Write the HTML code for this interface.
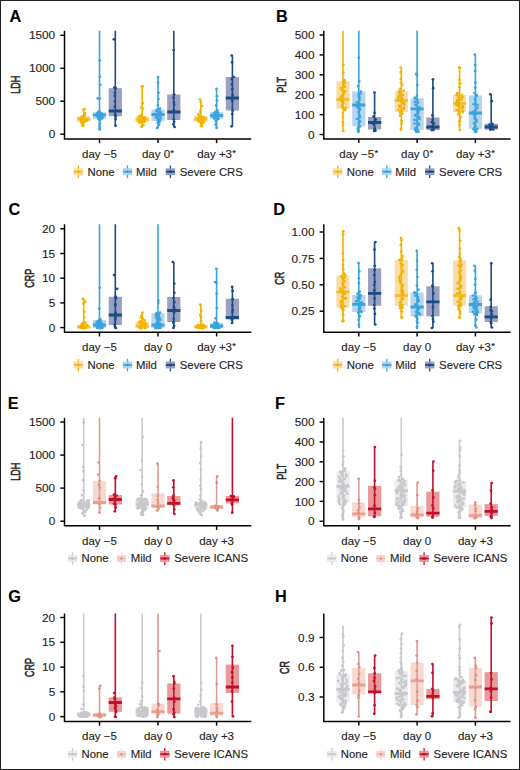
<!DOCTYPE html>
<html><head><meta charset="utf-8"><style>
html,body{margin:0;padding:0;background:#fff;}
svg{display:block;}
text{font-family:"Liberation Sans", sans-serif;fill:#222;stroke:#222;stroke-width:0.12px;}
.lt{font-size:16.3px;font-weight:bold;fill:#000;}
.yt{font-size:12.7px;text-anchor:middle;stroke-width:0.55px;}
.tk{font-size:11.8px;text-anchor:end;}
.xl{font-size:11.5px;text-anchor:middle;}
.lg{font-size:11.35px;}
.ax{stroke:#000;stroke-width:1.45;}
</style></head><body>
<svg width="520" height="770" viewBox="0 0 520 770">
<rect x="0" y="0" width="520" height="770" fill="#fff"/>
<text x="9.6" y="21.8" class="lt">A</text>
<text transform="translate(19.8,84.85) rotate(-90) scale(0.71,1)" class="yt">LDH</text>
<line x1="60.3" y1="134.2" x2="64.5" y2="134.2" class="ax"/>
<text x="55.2" y="138.3" class="tk">0</text>
<line x1="60.3" y1="101.2" x2="64.5" y2="101.2" class="ax"/>
<text x="55.2" y="105.3" class="tk">500</text>
<line x1="60.3" y1="68.3" x2="64.5" y2="68.3" class="ax"/>
<text x="55.2" y="72.4" class="tk">1000</text>
<line x1="60.3" y1="35.3" x2="64.5" y2="35.3" class="ax"/>
<text x="55.2" y="39.4" class="tk">1500</text>
<clipPath id="cA"><rect x="64.5" y="30.8" width="186.8" height="108.1"/></clipPath>
<g clip-path="url(#cA)">
<rect x="77.1" y="116.5" width="13.2" height="5" fill="#FADDA6"/>
<line x1="83.7" y1="109" x2="83.7" y2="126" stroke="#F2B300" stroke-width="1.6"/>
<line x1="77.1" y1="119" x2="90.3" y2="119" stroke="#F2BE3A" stroke-width="2.8"/>
<circle cx="82.62" cy="125.44" r="1.35" fill="#F2B300"/>
<circle cx="81.76" cy="123.52" r="1.35" fill="#F2B300"/>
<circle cx="82.97" cy="122.59" r="1.35" fill="#F2B300"/>
<circle cx="83.74" cy="122.18" r="1.35" fill="#F2B300"/>
<circle cx="83.26" cy="121.67" r="1.35" fill="#F2B300"/>
<circle cx="80.92" cy="121.48" r="1.35" fill="#F2B300"/>
<circle cx="85.92" cy="121.03" r="1.35" fill="#F2B300"/>
<circle cx="81.82" cy="120.79" r="1.35" fill="#F2B300"/>
<circle cx="86.74" cy="120.29" r="1.35" fill="#F2B300"/>
<circle cx="83" cy="119.97" r="1.35" fill="#F2B300"/>
<circle cx="80.62" cy="119.51" r="1.35" fill="#F2B300"/>
<circle cx="82.27" cy="119.21" r="1.35" fill="#F2B300"/>
<circle cx="81.1" cy="119.12" r="1.35" fill="#F2B300"/>
<circle cx="85.85" cy="118.73" r="1.35" fill="#F2B300"/>
<circle cx="84.25" cy="118.44" r="1.35" fill="#F2B300"/>
<circle cx="82.83" cy="117.95" r="1.35" fill="#F2B300"/>
<circle cx="80.73" cy="117.65" r="1.35" fill="#F2B300"/>
<circle cx="81.7" cy="117.48" r="1.35" fill="#F2B300"/>
<circle cx="83.21" cy="116.94" r="1.35" fill="#F2B300"/>
<circle cx="84.28" cy="116.73" r="1.35" fill="#F2B300"/>
<circle cx="82.35" cy="116.46" r="1.35" fill="#F2B300"/>
<circle cx="84.86" cy="115.71" r="1.35" fill="#F2B300"/>
<circle cx="84.09" cy="115.21" r="1.35" fill="#F2B300"/>
<circle cx="84.97" cy="113.02" r="1.35" fill="#F2B300"/>
<circle cx="83.32" cy="109.86" r="1.35" fill="#F2B300"/>
<circle cx="84.66" cy="109" r="1.35" fill="#F2B300"/>
<circle cx="82.94" cy="126" r="1.35" fill="#F2B300"/>
<rect x="92.9" y="112.3" width="13.2" height="6.7" fill="#B8D5EE"/>
<line x1="99.5" y1="28.8" x2="99.5" y2="129.6" stroke="#3AA4DD" stroke-width="1.6"/>
<line x1="92.9" y1="114.8" x2="106.1" y2="114.8" stroke="#3AA4DD" stroke-width="2.8"/>
<circle cx="99.81" cy="128.17" r="1.35" fill="#3AA4DD"/>
<circle cx="99.48" cy="125.92" r="1.35" fill="#3AA4DD"/>
<circle cx="99.89" cy="123.62" r="1.35" fill="#3AA4DD"/>
<circle cx="99.82" cy="120.47" r="1.35" fill="#3AA4DD"/>
<circle cx="98.5" cy="119.37" r="1.35" fill="#3AA4DD"/>
<circle cx="100.04" cy="119.03" r="1.35" fill="#3AA4DD"/>
<circle cx="99.25" cy="118.81" r="1.35" fill="#3AA4DD"/>
<circle cx="102.08" cy="118.4" r="1.35" fill="#3AA4DD"/>
<circle cx="100.45" cy="118.19" r="1.35" fill="#3AA4DD"/>
<circle cx="100.67" cy="117.99" r="1.35" fill="#3AA4DD"/>
<circle cx="102.36" cy="117.47" r="1.35" fill="#3AA4DD"/>
<circle cx="98.25" cy="117.09" r="1.35" fill="#3AA4DD"/>
<circle cx="100.48" cy="116.9" r="1.35" fill="#3AA4DD"/>
<circle cx="99.28" cy="116.69" r="1.35" fill="#3AA4DD"/>
<circle cx="97.28" cy="116.32" r="1.35" fill="#3AA4DD"/>
<circle cx="101.06" cy="116.02" r="1.35" fill="#3AA4DD"/>
<circle cx="98.04" cy="115.67" r="1.35" fill="#3AA4DD"/>
<circle cx="101.65" cy="115.26" r="1.35" fill="#3AA4DD"/>
<circle cx="99.21" cy="115.03" r="1.35" fill="#3AA4DD"/>
<circle cx="101.72" cy="114.55" r="1.35" fill="#3AA4DD"/>
<circle cx="101.61" cy="114.13" r="1.35" fill="#3AA4DD"/>
<circle cx="99.01" cy="113.98" r="1.35" fill="#3AA4DD"/>
<circle cx="101.73" cy="113.63" r="1.35" fill="#3AA4DD"/>
<circle cx="97.48" cy="113.1" r="1.35" fill="#3AA4DD"/>
<circle cx="97.95" cy="113.03" r="1.35" fill="#3AA4DD"/>
<circle cx="99.41" cy="112.68" r="1.35" fill="#3AA4DD"/>
<circle cx="98.15" cy="112.22" r="1.35" fill="#3AA4DD"/>
<circle cx="99.12" cy="111.25" r="1.35" fill="#3AA4DD"/>
<circle cx="99.58" cy="98.16" r="1.35" fill="#3AA4DD"/>
<circle cx="99.73" cy="60.52" r="1.35" fill="#3AA4DD"/>
<circle cx="99.53" cy="129.6" r="1.35" fill="#3AA4DD"/>
<circle cx="99.97" cy="76.8" r="1.35" fill="#3AA4DD"/>
<circle cx="100.2" cy="84.8" r="1.35" fill="#3AA4DD"/>
<circle cx="97.72" cy="98.6" r="1.35" fill="#3AA4DD"/>
<rect x="108.7" y="88.2" width="13.2" height="28" fill="#99A0C2"/>
<line x1="115.3" y1="28.8" x2="115.3" y2="125.8" stroke="#1B4A84" stroke-width="1.6"/>
<line x1="108.7" y1="111" x2="121.9" y2="111" stroke="#1B4A84" stroke-width="2.8"/>
<circle cx="115.64" cy="119.11" r="1.35" fill="#1B4A84"/>
<circle cx="115.66" cy="116.24" r="1.35" fill="#1B4A84"/>
<circle cx="115.18" cy="114.37" r="1.35" fill="#1B4A84"/>
<circle cx="115.46" cy="111.05" r="1.35" fill="#1B4A84"/>
<circle cx="114.78" cy="106.58" r="1.35" fill="#1B4A84"/>
<circle cx="114.89" cy="101.23" r="1.35" fill="#1B4A84"/>
<circle cx="114.76" cy="95.95" r="1.35" fill="#1B4A84"/>
<circle cx="114.88" cy="92.87" r="1.35" fill="#1B4A84"/>
<circle cx="115.14" cy="88.2" r="1.35" fill="#1B4A84"/>
<circle cx="115.75" cy="88.2" r="1.35" fill="#1B4A84"/>
<circle cx="115.53" cy="125.8" r="1.35" fill="#1B4A84"/>
<circle cx="113.89" cy="39.3" r="1.35" fill="#1B4A84"/>
<circle cx="114.31" cy="87.5" r="1.35" fill="#1B4A84"/>
<rect x="135.6" y="116.5" width="13.2" height="5.5" fill="#FADDA6"/>
<line x1="142.2" y1="86.3" x2="142.2" y2="127" stroke="#F2B300" stroke-width="1.6"/>
<line x1="135.6" y1="119.5" x2="148.8" y2="119.5" stroke="#F2BE3A" stroke-width="2.8"/>
<circle cx="141.81" cy="126.33" r="1.35" fill="#F2B300"/>
<circle cx="143.5" cy="125.01" r="1.35" fill="#F2B300"/>
<circle cx="142" cy="122.81" r="1.35" fill="#F2B300"/>
<circle cx="139.63" cy="122.46" r="1.35" fill="#F2B300"/>
<circle cx="141.16" cy="122.16" r="1.35" fill="#F2B300"/>
<circle cx="144.44" cy="121.9" r="1.35" fill="#F2B300"/>
<circle cx="138.96" cy="121.57" r="1.35" fill="#F2B300"/>
<circle cx="142.39" cy="120.92" r="1.35" fill="#F2B300"/>
<circle cx="142.49" cy="120.85" r="1.35" fill="#F2B300"/>
<circle cx="142.39" cy="120.52" r="1.35" fill="#F2B300"/>
<circle cx="144.67" cy="119.81" r="1.35" fill="#F2B300"/>
<circle cx="140.58" cy="119.54" r="1.35" fill="#F2B300"/>
<circle cx="139.94" cy="119.3" r="1.35" fill="#F2B300"/>
<circle cx="142.42" cy="118.78" r="1.35" fill="#F2B300"/>
<circle cx="141.04" cy="118.41" r="1.35" fill="#F2B300"/>
<circle cx="144.32" cy="118.25" r="1.35" fill="#F2B300"/>
<circle cx="144.6" cy="117.61" r="1.35" fill="#F2B300"/>
<circle cx="144.36" cy="117.3" r="1.35" fill="#F2B300"/>
<circle cx="140.34" cy="116.96" r="1.35" fill="#F2B300"/>
<circle cx="141.22" cy="116.68" r="1.35" fill="#F2B300"/>
<circle cx="138.99" cy="116.5" r="1.35" fill="#F2B300"/>
<circle cx="140.99" cy="114.99" r="1.35" fill="#F2B300"/>
<circle cx="142.86" cy="108.76" r="1.35" fill="#F2B300"/>
<circle cx="142.72" cy="103.17" r="1.35" fill="#F2B300"/>
<circle cx="142.75" cy="86.46" r="1.35" fill="#F2B300"/>
<circle cx="141.93" cy="86.3" r="1.35" fill="#F2B300"/>
<circle cx="141.64" cy="127" r="1.35" fill="#F2B300"/>
<circle cx="141.11" cy="107.5" r="1.35" fill="#F2B300"/>
<rect x="151.4" y="109.4" width="13.2" height="11.6" fill="#B8D5EE"/>
<line x1="158" y1="77" x2="158" y2="128" stroke="#3AA4DD" stroke-width="1.6"/>
<line x1="151.4" y1="114.5" x2="164.6" y2="114.5" stroke="#3AA4DD" stroke-width="2.8"/>
<circle cx="157.54" cy="127.55" r="1.35" fill="#3AA4DD"/>
<circle cx="159.1" cy="124.72" r="1.35" fill="#3AA4DD"/>
<circle cx="157.92" cy="122.94" r="1.35" fill="#3AA4DD"/>
<circle cx="159.4" cy="122.07" r="1.35" fill="#3AA4DD"/>
<circle cx="158.81" cy="121.71" r="1.35" fill="#3AA4DD"/>
<circle cx="159.64" cy="121" r="1.35" fill="#3AA4DD"/>
<circle cx="157.87" cy="120.52" r="1.35" fill="#3AA4DD"/>
<circle cx="159.68" cy="120.24" r="1.35" fill="#3AA4DD"/>
<circle cx="159.74" cy="119.5" r="1.35" fill="#3AA4DD"/>
<circle cx="157.4" cy="118.44" r="1.35" fill="#3AA4DD"/>
<circle cx="160.59" cy="118.16" r="1.35" fill="#3AA4DD"/>
<circle cx="156.09" cy="117.31" r="1.35" fill="#3AA4DD"/>
<circle cx="155.98" cy="117.05" r="1.35" fill="#3AA4DD"/>
<circle cx="159.78" cy="115.91" r="1.35" fill="#3AA4DD"/>
<circle cx="159.89" cy="115.75" r="1.35" fill="#3AA4DD"/>
<circle cx="158.91" cy="114.57" r="1.35" fill="#3AA4DD"/>
<circle cx="158.28" cy="114.33" r="1.35" fill="#3AA4DD"/>
<circle cx="155.18" cy="113.83" r="1.35" fill="#3AA4DD"/>
<circle cx="158.87" cy="112.64" r="1.35" fill="#3AA4DD"/>
<circle cx="160.52" cy="112.28" r="1.35" fill="#3AA4DD"/>
<circle cx="160.16" cy="111.7" r="1.35" fill="#3AA4DD"/>
<circle cx="156.32" cy="110.8" r="1.35" fill="#3AA4DD"/>
<circle cx="156.8" cy="110.53" r="1.35" fill="#3AA4DD"/>
<circle cx="158.5" cy="109.89" r="1.35" fill="#3AA4DD"/>
<circle cx="157.53" cy="109.37" r="1.35" fill="#3AA4DD"/>
<circle cx="160.02" cy="108.58" r="1.35" fill="#3AA4DD"/>
<circle cx="157.89" cy="105.26" r="1.35" fill="#3AA4DD"/>
<circle cx="158.49" cy="98.98" r="1.35" fill="#3AA4DD"/>
<circle cx="158.5" cy="92.85" r="1.35" fill="#3AA4DD"/>
<circle cx="158.04" cy="82.63" r="1.35" fill="#3AA4DD"/>
<circle cx="158.05" cy="77" r="1.35" fill="#3AA4DD"/>
<circle cx="157.04" cy="128" r="1.35" fill="#3AA4DD"/>
<rect x="167.2" y="94.5" width="13.2" height="25.5" fill="#99A0C2"/>
<line x1="173.8" y1="28.8" x2="173.8" y2="127" stroke="#1B4A84" stroke-width="1.6"/>
<line x1="167.2" y1="112" x2="180.4" y2="112" stroke="#1B4A84" stroke-width="2.8"/>
<circle cx="173.42" cy="124.26" r="1.35" fill="#1B4A84"/>
<circle cx="174.16" cy="121.74" r="1.35" fill="#1B4A84"/>
<circle cx="173.77" cy="119.27" r="1.35" fill="#1B4A84"/>
<circle cx="173.87" cy="112.67" r="1.35" fill="#1B4A84"/>
<circle cx="173.82" cy="110.11" r="1.35" fill="#1B4A84"/>
<circle cx="174.17" cy="104.89" r="1.35" fill="#1B4A84"/>
<circle cx="173.88" cy="102.55" r="1.35" fill="#1B4A84"/>
<circle cx="173.51" cy="97.69" r="1.35" fill="#1B4A84"/>
<circle cx="173.81" cy="94.5" r="1.35" fill="#1B4A84"/>
<circle cx="174.14" cy="94.5" r="1.35" fill="#1B4A84"/>
<circle cx="174.62" cy="127" r="1.35" fill="#1B4A84"/>
<circle cx="173.57" cy="50" r="1.35" fill="#1B4A84"/>
<rect x="194.2" y="116" width="13.2" height="6" fill="#FADDA6"/>
<line x1="200.8" y1="99.5" x2="200.8" y2="126.3" stroke="#F2B300" stroke-width="1.6"/>
<line x1="194.2" y1="119" x2="207.4" y2="119" stroke="#F2BE3A" stroke-width="2.8"/>
<circle cx="200.82" cy="125.31" r="1.35" fill="#F2B300"/>
<circle cx="201.66" cy="124.09" r="1.35" fill="#F2B300"/>
<circle cx="200.98" cy="123.12" r="1.35" fill="#F2B300"/>
<circle cx="203.57" cy="122.4" r="1.35" fill="#F2B300"/>
<circle cx="203.35" cy="122.02" r="1.35" fill="#F2B300"/>
<circle cx="199.17" cy="121.62" r="1.35" fill="#F2B300"/>
<circle cx="203.81" cy="121.38" r="1.35" fill="#F2B300"/>
<circle cx="198.33" cy="120.86" r="1.35" fill="#F2B300"/>
<circle cx="200.41" cy="120.75" r="1.35" fill="#F2B300"/>
<circle cx="199.04" cy="120.37" r="1.35" fill="#F2B300"/>
<circle cx="201.95" cy="119.97" r="1.35" fill="#F2B300"/>
<circle cx="203.5" cy="119.29" r="1.35" fill="#F2B300"/>
<circle cx="202.27" cy="119.14" r="1.35" fill="#F2B300"/>
<circle cx="198.37" cy="118.54" r="1.35" fill="#F2B300"/>
<circle cx="203.98" cy="118.05" r="1.35" fill="#F2B300"/>
<circle cx="203.88" cy="117.91" r="1.35" fill="#F2B300"/>
<circle cx="200.71" cy="117.44" r="1.35" fill="#F2B300"/>
<circle cx="203.06" cy="116.8" r="1.35" fill="#F2B300"/>
<circle cx="200.33" cy="116.74" r="1.35" fill="#F2B300"/>
<circle cx="199.71" cy="116.19" r="1.35" fill="#F2B300"/>
<circle cx="199.57" cy="115.99" r="1.35" fill="#F2B300"/>
<circle cx="198.42" cy="114.42" r="1.35" fill="#F2B300"/>
<circle cx="200.61" cy="112.24" r="1.35" fill="#F2B300"/>
<circle cx="200.41" cy="110.57" r="1.35" fill="#F2B300"/>
<circle cx="200.81" cy="102.11" r="1.35" fill="#F2B300"/>
<circle cx="199.93" cy="99.5" r="1.35" fill="#F2B300"/>
<circle cx="201.77" cy="126.3" r="1.35" fill="#F2B300"/>
<circle cx="201.95" cy="106" r="1.35" fill="#F2B300"/>
<rect x="210" y="112" width="13.2" height="6.8" fill="#B8D5EE"/>
<line x1="216.6" y1="88.8" x2="216.6" y2="128" stroke="#3AA4DD" stroke-width="1.6"/>
<line x1="210" y1="115.5" x2="223.2" y2="115.5" stroke="#3AA4DD" stroke-width="2.8"/>
<circle cx="215.95" cy="125.08" r="1.35" fill="#3AA4DD"/>
<circle cx="215.71" cy="124.31" r="1.35" fill="#3AA4DD"/>
<circle cx="215.77" cy="121.13" r="1.35" fill="#3AA4DD"/>
<circle cx="216.28" cy="120.59" r="1.35" fill="#3AA4DD"/>
<circle cx="218.4" cy="118.94" r="1.35" fill="#3AA4DD"/>
<circle cx="214.58" cy="118.83" r="1.35" fill="#3AA4DD"/>
<circle cx="217.01" cy="118.27" r="1.35" fill="#3AA4DD"/>
<circle cx="214.22" cy="117.95" r="1.35" fill="#3AA4DD"/>
<circle cx="217.69" cy="117.81" r="1.35" fill="#3AA4DD"/>
<circle cx="214.12" cy="117.25" r="1.35" fill="#3AA4DD"/>
<circle cx="217.38" cy="116.64" r="1.35" fill="#3AA4DD"/>
<circle cx="214.19" cy="116.29" r="1.35" fill="#3AA4DD"/>
<circle cx="214.09" cy="115.86" r="1.35" fill="#3AA4DD"/>
<circle cx="216.33" cy="115.46" r="1.35" fill="#3AA4DD"/>
<circle cx="216.91" cy="115.26" r="1.35" fill="#3AA4DD"/>
<circle cx="215.25" cy="114.62" r="1.35" fill="#3AA4DD"/>
<circle cx="216.76" cy="114.54" r="1.35" fill="#3AA4DD"/>
<circle cx="214.33" cy="114.09" r="1.35" fill="#3AA4DD"/>
<circle cx="213.99" cy="113.72" r="1.35" fill="#3AA4DD"/>
<circle cx="215.51" cy="113.29" r="1.35" fill="#3AA4DD"/>
<circle cx="218.11" cy="112.85" r="1.35" fill="#3AA4DD"/>
<circle cx="216.6" cy="112.45" r="1.35" fill="#3AA4DD"/>
<circle cx="215.71" cy="112.09" r="1.35" fill="#3AA4DD"/>
<circle cx="215.2" cy="111.82" r="1.35" fill="#3AA4DD"/>
<circle cx="217.6" cy="110.49" r="1.35" fill="#3AA4DD"/>
<circle cx="216.11" cy="105.45" r="1.35" fill="#3AA4DD"/>
<circle cx="217.12" cy="100.47" r="1.35" fill="#3AA4DD"/>
<circle cx="216.98" cy="96.17" r="1.35" fill="#3AA4DD"/>
<circle cx="216.46" cy="88.8" r="1.35" fill="#3AA4DD"/>
<circle cx="216.59" cy="128" r="1.35" fill="#3AA4DD"/>
<rect x="225.8" y="77" width="13.2" height="33.5" fill="#99A0C2"/>
<line x1="232.4" y1="55.5" x2="232.4" y2="126.3" stroke="#1B4A84" stroke-width="1.6"/>
<line x1="225.8" y1="98" x2="239" y2="98" stroke="#1B4A84" stroke-width="2.8"/>
<circle cx="232.27" cy="114.12" r="1.35" fill="#1B4A84"/>
<circle cx="232.63" cy="110.55" r="1.35" fill="#1B4A84"/>
<circle cx="232.21" cy="100.85" r="1.35" fill="#1B4A84"/>
<circle cx="232.65" cy="94.92" r="1.35" fill="#1B4A84"/>
<circle cx="232.29" cy="89.31" r="1.35" fill="#1B4A84"/>
<circle cx="231.87" cy="84.35" r="1.35" fill="#1B4A84"/>
<circle cx="231.88" cy="78.89" r="1.35" fill="#1B4A84"/>
<circle cx="232.11" cy="62.42" r="1.35" fill="#1B4A84"/>
<circle cx="231.73" cy="55.5" r="1.35" fill="#1B4A84"/>
<circle cx="231.57" cy="126.3" r="1.35" fill="#1B4A84"/>
<circle cx="233.77" cy="77" r="1.35" fill="#1B4A84"/>
</g>
<line x1="64.5" y1="30.8" x2="64.5" y2="138.9" class="ax"/>
<line x1="63.85" y1="138.9" x2="251.3" y2="138.9" class="ax"/>
<line x1="99.5" y1="138.9" x2="99.5" y2="143.1" class="ax"/>
<text x="99.5" y="157.9" class="xl">day −5</text>
<line x1="158" y1="138.9" x2="158" y2="143.1" class="ax"/>
<text x="158" y="157.9" class="xl">day 0<tspan font-size="9.5" dy="-2" dx="0.3">*</tspan></text>
<line x1="216.6" y1="138.9" x2="216.6" y2="143.1" class="ax"/>
<text x="216.6" y="157.9" class="xl">day +3<tspan font-size="9.5" dy="-2" dx="0.3">*</tspan></text>
<rect x="73.9" y="168.5" width="9" height="6.4" fill="#FADDA6" stroke="#F2B300" stroke-opacity="0.25" stroke-width="0.6"/><line x1="78.4" y1="165.5" x2="78.4" y2="168.5" stroke="#F2B300" stroke-width="1.3"/><line x1="78.4" y1="174.9" x2="78.4" y2="178.1" stroke="#F2B300" stroke-width="1.3"/><line x1="73.9" y1="171.7" x2="82.9" y2="171.7" stroke="#F2BE3A" stroke-width="1.8"/><circle cx="78.4" cy="171.7" r="1.4" fill="#F2B300"/>
<text x="87.5" y="175.6" class="lg">None</text>
<rect x="123" y="168.5" width="9" height="6.4" fill="#B8D5EE" stroke="#3AA4DD" stroke-opacity="0.25" stroke-width="0.6"/><line x1="127.5" y1="165.5" x2="127.5" y2="168.5" stroke="#3AA4DD" stroke-width="1.3"/><line x1="127.5" y1="174.9" x2="127.5" y2="178.1" stroke="#3AA4DD" stroke-width="1.3"/><line x1="123" y1="171.7" x2="132" y2="171.7" stroke="#3AA4DD" stroke-width="1.8"/><circle cx="127.5" cy="171.7" r="1.4" fill="#3AA4DD"/>
<text x="136" y="175.6" class="lg">Mild</text>
<rect x="165.9" y="168.5" width="9" height="6.4" fill="#99A0C2" stroke="#1B4A84" stroke-opacity="0.25" stroke-width="0.6"/><line x1="170.4" y1="165.5" x2="170.4" y2="168.5" stroke="#1B4A84" stroke-width="1.3"/><line x1="170.4" y1="174.9" x2="170.4" y2="178.1" stroke="#1B4A84" stroke-width="1.3"/><line x1="165.9" y1="171.7" x2="174.9" y2="171.7" stroke="#1B4A84" stroke-width="1.8"/><circle cx="170.4" cy="171.7" r="1.4" fill="#1B4A84"/>
<text x="179.8" y="175.6" class="lg">Severe CRS</text>
<text x="276" y="21.8" class="lt">B</text>
<text transform="translate(285.6,84.85) rotate(-90) scale(0.71,1)" class="yt">PLT</text>
<line x1="319.6" y1="134.5" x2="323.8" y2="134.5" class="ax"/>
<text x="314.5" y="138.6" class="tk">0</text>
<line x1="319.6" y1="114.6" x2="323.8" y2="114.6" class="ax"/>
<text x="314.5" y="118.7" class="tk">100</text>
<line x1="319.6" y1="94.7" x2="323.8" y2="94.7" class="ax"/>
<text x="314.5" y="98.8" class="tk">200</text>
<line x1="319.6" y1="74.8" x2="323.8" y2="74.8" class="ax"/>
<text x="314.5" y="78.9" class="tk">300</text>
<line x1="319.6" y1="54.9" x2="323.8" y2="54.9" class="ax"/>
<text x="314.5" y="59" class="tk">400</text>
<line x1="319.6" y1="35" x2="323.8" y2="35" class="ax"/>
<text x="314.5" y="39.1" class="tk">500</text>
<clipPath id="cB"><rect x="323.8" y="30.8" width="186.8" height="108.1"/></clipPath>
<g clip-path="url(#cB)">
<rect x="336.4" y="81.3" width="13.2" height="27.5" fill="#FADDA6"/>
<line x1="343" y1="28.8" x2="343" y2="131" stroke="#F2B300" stroke-width="1.6"/>
<line x1="336.4" y1="99.5" x2="349.6" y2="99.5" stroke="#F2BE3A" stroke-width="2.8"/>
<circle cx="343.2" cy="124.63" r="1.35" fill="#F2B300"/>
<circle cx="342.69" cy="122" r="1.35" fill="#F2B300"/>
<circle cx="342.95" cy="116.54" r="1.35" fill="#F2B300"/>
<circle cx="342.87" cy="113.02" r="1.35" fill="#F2B300"/>
<circle cx="345.07" cy="110.06" r="1.35" fill="#F2B300"/>
<circle cx="343.27" cy="108.26" r="1.35" fill="#F2B300"/>
<circle cx="345.69" cy="107.87" r="1.35" fill="#F2B300"/>
<circle cx="342.17" cy="106.33" r="1.35" fill="#F2B300"/>
<circle cx="342.32" cy="105.33" r="1.35" fill="#F2B300"/>
<circle cx="343.02" cy="103.2" r="1.35" fill="#F2B300"/>
<circle cx="343.03" cy="102.15" r="1.35" fill="#F2B300"/>
<circle cx="341.64" cy="100.99" r="1.35" fill="#F2B300"/>
<circle cx="342.42" cy="99.43" r="1.35" fill="#F2B300"/>
<circle cx="340.24" cy="98.05" r="1.35" fill="#F2B300"/>
<circle cx="341.46" cy="96.23" r="1.35" fill="#F2B300"/>
<circle cx="343.17" cy="94.38" r="1.35" fill="#F2B300"/>
<circle cx="343.91" cy="92.69" r="1.35" fill="#F2B300"/>
<circle cx="345.19" cy="91.3" r="1.35" fill="#F2B300"/>
<circle cx="342" cy="90.33" r="1.35" fill="#F2B300"/>
<circle cx="340.98" cy="88.02" r="1.35" fill="#F2B300"/>
<circle cx="343.83" cy="86.96" r="1.35" fill="#F2B300"/>
<circle cx="344.93" cy="86.49" r="1.35" fill="#F2B300"/>
<circle cx="343.73" cy="83.82" r="1.35" fill="#F2B300"/>
<circle cx="344.8" cy="82.61" r="1.35" fill="#F2B300"/>
<circle cx="343.14" cy="82.02" r="1.35" fill="#F2B300"/>
<circle cx="344.54" cy="80.17" r="1.35" fill="#F2B300"/>
<circle cx="343.39" cy="72.75" r="1.35" fill="#F2B300"/>
<circle cx="343.47" cy="64.48" r="1.35" fill="#F2B300"/>
<circle cx="343.37" cy="131" r="1.35" fill="#F2B300"/>
<rect x="352.2" y="91.3" width="13.2" height="35" fill="#B8D5EE"/>
<line x1="358.8" y1="28.8" x2="358.8" y2="132" stroke="#3AA4DD" stroke-width="1.6"/>
<line x1="352.2" y1="105" x2="365.4" y2="105" stroke="#3AA4DD" stroke-width="2.8"/>
<circle cx="358.34" cy="130.76" r="1.35" fill="#3AA4DD"/>
<circle cx="358.1" cy="130.21" r="1.35" fill="#3AA4DD"/>
<circle cx="357.72" cy="128.4" r="1.35" fill="#3AA4DD"/>
<circle cx="359.01" cy="127.04" r="1.35" fill="#3AA4DD"/>
<circle cx="359.29" cy="126.6" r="1.35" fill="#3AA4DD"/>
<circle cx="358.76" cy="126.32" r="1.35" fill="#3AA4DD"/>
<circle cx="360.03" cy="126.29" r="1.35" fill="#3AA4DD"/>
<circle cx="358.81" cy="123.3" r="1.35" fill="#3AA4DD"/>
<circle cx="359.46" cy="121.95" r="1.35" fill="#3AA4DD"/>
<circle cx="359.78" cy="121.04" r="1.35" fill="#3AA4DD"/>
<circle cx="357.04" cy="119" r="1.35" fill="#3AA4DD"/>
<circle cx="359.75" cy="117.27" r="1.35" fill="#3AA4DD"/>
<circle cx="359.79" cy="115.65" r="1.35" fill="#3AA4DD"/>
<circle cx="358.77" cy="112.62" r="1.35" fill="#3AA4DD"/>
<circle cx="358.71" cy="111.92" r="1.35" fill="#3AA4DD"/>
<circle cx="359.91" cy="109.69" r="1.35" fill="#3AA4DD"/>
<circle cx="359.39" cy="108.08" r="1.35" fill="#3AA4DD"/>
<circle cx="357.34" cy="107.29" r="1.35" fill="#3AA4DD"/>
<circle cx="359.81" cy="105.28" r="1.35" fill="#3AA4DD"/>
<circle cx="359.08" cy="103.47" r="1.35" fill="#3AA4DD"/>
<circle cx="356.98" cy="102.26" r="1.35" fill="#3AA4DD"/>
<circle cx="359.51" cy="100.1" r="1.35" fill="#3AA4DD"/>
<circle cx="359.53" cy="97.66" r="1.35" fill="#3AA4DD"/>
<circle cx="358.87" cy="96.63" r="1.35" fill="#3AA4DD"/>
<circle cx="358.66" cy="94.62" r="1.35" fill="#3AA4DD"/>
<circle cx="360.43" cy="93.5" r="1.35" fill="#3AA4DD"/>
<circle cx="360.78" cy="91.64" r="1.35" fill="#3AA4DD"/>
<circle cx="358.1" cy="86.03" r="1.35" fill="#3AA4DD"/>
<circle cx="359.18" cy="81.27" r="1.35" fill="#3AA4DD"/>
<circle cx="358.74" cy="57.66" r="1.35" fill="#3AA4DD"/>
<circle cx="358.34" cy="132" r="1.35" fill="#3AA4DD"/>
<rect x="368" y="117" width="13.2" height="12.5" fill="#99A0C2"/>
<line x1="374.6" y1="92.5" x2="374.6" y2="131" stroke="#1B4A84" stroke-width="1.6"/>
<line x1="368" y1="122.5" x2="381.2" y2="122.5" stroke="#1B4A84" stroke-width="2.8"/>
<circle cx="375.45" cy="130.67" r="1.35" fill="#1B4A84"/>
<circle cx="374.79" cy="129.66" r="1.35" fill="#1B4A84"/>
<circle cx="374.66" cy="128.71" r="1.35" fill="#1B4A84"/>
<circle cx="373.72" cy="124.52" r="1.35" fill="#1B4A84"/>
<circle cx="374.62" cy="122.51" r="1.35" fill="#1B4A84"/>
<circle cx="375.09" cy="120.04" r="1.35" fill="#1B4A84"/>
<circle cx="375.55" cy="119.24" r="1.35" fill="#1B4A84"/>
<circle cx="373.55" cy="116.57" r="1.35" fill="#1B4A84"/>
<circle cx="374.59" cy="112.84" r="1.35" fill="#1B4A84"/>
<circle cx="374.5" cy="92.5" r="1.35" fill="#1B4A84"/>
<circle cx="374.2" cy="131" r="1.35" fill="#1B4A84"/>
<rect x="394.7" y="91.3" width="13.2" height="20.7" fill="#FADDA6"/>
<line x1="401.3" y1="67.5" x2="401.3" y2="129.5" stroke="#F2B300" stroke-width="1.6"/>
<line x1="394.7" y1="100.5" x2="407.9" y2="100.5" stroke="#F2BE3A" stroke-width="2.8"/>
<circle cx="401.11" cy="128.8" r="1.35" fill="#F2B300"/>
<circle cx="401.71" cy="123.54" r="1.35" fill="#F2B300"/>
<circle cx="401.6" cy="120.92" r="1.35" fill="#F2B300"/>
<circle cx="400.03" cy="115.57" r="1.35" fill="#F2B300"/>
<circle cx="402.37" cy="113.54" r="1.35" fill="#F2B300"/>
<circle cx="399.99" cy="112.43" r="1.35" fill="#F2B300"/>
<circle cx="400.59" cy="112.14" r="1.35" fill="#F2B300"/>
<circle cx="401.91" cy="111.02" r="1.35" fill="#F2B300"/>
<circle cx="400.81" cy="110.66" r="1.35" fill="#F2B300"/>
<circle cx="398.23" cy="109.76" r="1.35" fill="#F2B300"/>
<circle cx="403.58" cy="108.94" r="1.35" fill="#F2B300"/>
<circle cx="404.26" cy="107.78" r="1.35" fill="#F2B300"/>
<circle cx="399.71" cy="106.83" r="1.35" fill="#F2B300"/>
<circle cx="399.19" cy="105.58" r="1.35" fill="#F2B300"/>
<circle cx="404.4" cy="104.73" r="1.35" fill="#F2B300"/>
<circle cx="403.42" cy="103.24" r="1.35" fill="#F2B300"/>
<circle cx="404.11" cy="102.51" r="1.35" fill="#F2B300"/>
<circle cx="401.63" cy="101.22" r="1.35" fill="#F2B300"/>
<circle cx="398.24" cy="100.45" r="1.35" fill="#F2B300"/>
<circle cx="400.97" cy="99.45" r="1.35" fill="#F2B300"/>
<circle cx="402.28" cy="98.44" r="1.35" fill="#F2B300"/>
<circle cx="398.23" cy="97.92" r="1.35" fill="#F2B300"/>
<circle cx="398.77" cy="96.3" r="1.35" fill="#F2B300"/>
<circle cx="400.24" cy="95.76" r="1.35" fill="#F2B300"/>
<circle cx="402.93" cy="94.95" r="1.35" fill="#F2B300"/>
<circle cx="399.67" cy="93.29" r="1.35" fill="#F2B300"/>
<circle cx="399.95" cy="92.62" r="1.35" fill="#F2B300"/>
<circle cx="400.58" cy="91.74" r="1.35" fill="#F2B300"/>
<circle cx="399" cy="91.29" r="1.35" fill="#F2B300"/>
<circle cx="403.8" cy="90.8" r="1.35" fill="#F2B300"/>
<circle cx="400.14" cy="88.84" r="1.35" fill="#F2B300"/>
<circle cx="402.2" cy="84.7" r="1.35" fill="#F2B300"/>
<circle cx="400.87" cy="82.51" r="1.35" fill="#F2B300"/>
<circle cx="400.81" cy="78.96" r="1.35" fill="#F2B300"/>
<circle cx="400.81" cy="72.15" r="1.35" fill="#F2B300"/>
<circle cx="400.78" cy="67.5" r="1.35" fill="#F2B300"/>
<circle cx="400.82" cy="129.5" r="1.35" fill="#F2B300"/>
<rect x="410.5" y="98.3" width="13.2" height="31.7" fill="#B8D5EE"/>
<line x1="417.1" y1="28.8" x2="417.1" y2="132" stroke="#3AA4DD" stroke-width="1.6"/>
<line x1="410.5" y1="108.8" x2="423.7" y2="108.8" stroke="#3AA4DD" stroke-width="2.8"/>
<circle cx="418.57" cy="131.69" r="1.35" fill="#3AA4DD"/>
<circle cx="416.73" cy="131.13" r="1.35" fill="#3AA4DD"/>
<circle cx="417.21" cy="130.86" r="1.35" fill="#3AA4DD"/>
<circle cx="416.32" cy="130.54" r="1.35" fill="#3AA4DD"/>
<circle cx="415.99" cy="130.35" r="1.35" fill="#3AA4DD"/>
<circle cx="415.12" cy="130.04" r="1.35" fill="#3AA4DD"/>
<circle cx="417.79" cy="130.01" r="1.35" fill="#3AA4DD"/>
<circle cx="415.58" cy="128.85" r="1.35" fill="#3AA4DD"/>
<circle cx="415.76" cy="128.31" r="1.35" fill="#3AA4DD"/>
<circle cx="416.81" cy="126.8" r="1.35" fill="#3AA4DD"/>
<circle cx="418.96" cy="124.73" r="1.35" fill="#3AA4DD"/>
<circle cx="414.55" cy="123.51" r="1.35" fill="#3AA4DD"/>
<circle cx="418.22" cy="123.3" r="1.35" fill="#3AA4DD"/>
<circle cx="416.96" cy="120.82" r="1.35" fill="#3AA4DD"/>
<circle cx="414.43" cy="119.89" r="1.35" fill="#3AA4DD"/>
<circle cx="419.38" cy="118.82" r="1.35" fill="#3AA4DD"/>
<circle cx="419" cy="116.91" r="1.35" fill="#3AA4DD"/>
<circle cx="415.76" cy="115.39" r="1.35" fill="#3AA4DD"/>
<circle cx="415.26" cy="115.2" r="1.35" fill="#3AA4DD"/>
<circle cx="418.07" cy="113.32" r="1.35" fill="#3AA4DD"/>
<circle cx="418.28" cy="111.43" r="1.35" fill="#3AA4DD"/>
<circle cx="418.51" cy="110.49" r="1.35" fill="#3AA4DD"/>
<circle cx="417.37" cy="109.41" r="1.35" fill="#3AA4DD"/>
<circle cx="418.61" cy="108.64" r="1.35" fill="#3AA4DD"/>
<circle cx="419.34" cy="107.05" r="1.35" fill="#3AA4DD"/>
<circle cx="416.05" cy="105.17" r="1.35" fill="#3AA4DD"/>
<circle cx="415.78" cy="104.52" r="1.35" fill="#3AA4DD"/>
<circle cx="418.16" cy="102.51" r="1.35" fill="#3AA4DD"/>
<circle cx="414.81" cy="101.88" r="1.35" fill="#3AA4DD"/>
<circle cx="417.54" cy="100" r="1.35" fill="#3AA4DD"/>
<circle cx="415.62" cy="98.85" r="1.35" fill="#3AA4DD"/>
<circle cx="414.8" cy="97.66" r="1.35" fill="#3AA4DD"/>
<circle cx="416.97" cy="95.75" r="1.35" fill="#3AA4DD"/>
<circle cx="417.27" cy="85.21" r="1.35" fill="#3AA4DD"/>
<circle cx="417.07" cy="75.27" r="1.35" fill="#3AA4DD"/>
<circle cx="416.57" cy="132" r="1.35" fill="#3AA4DD"/>
<circle cx="416.09" cy="73.8" r="1.35" fill="#3AA4DD"/>
<rect x="426.3" y="117.5" width="13.2" height="12.5" fill="#99A0C2"/>
<line x1="432.9" y1="79.3" x2="432.9" y2="130" stroke="#1B4A84" stroke-width="1.6"/>
<line x1="426.3" y1="127" x2="439.5" y2="127" stroke="#1B4A84" stroke-width="2.8"/>
<circle cx="433.39" cy="130" r="1.35" fill="#1B4A84"/>
<circle cx="431.75" cy="130" r="1.35" fill="#1B4A84"/>
<circle cx="433.32" cy="128.38" r="1.35" fill="#1B4A84"/>
<circle cx="432.32" cy="126.25" r="1.35" fill="#1B4A84"/>
<circle cx="433.92" cy="123.36" r="1.35" fill="#1B4A84"/>
<circle cx="431.78" cy="122.07" r="1.35" fill="#1B4A84"/>
<circle cx="432.71" cy="119.5" r="1.35" fill="#1B4A84"/>
<circle cx="432.42" cy="115.39" r="1.35" fill="#1B4A84"/>
<circle cx="433.19" cy="88.14" r="1.35" fill="#1B4A84"/>
<circle cx="432.91" cy="79.3" r="1.35" fill="#1B4A84"/>
<circle cx="432.31" cy="130" r="1.35" fill="#1B4A84"/>
<rect x="453" y="95" width="13.2" height="17" fill="#FADDA6"/>
<line x1="459.6" y1="67.5" x2="459.6" y2="130" stroke="#F2B300" stroke-width="1.6"/>
<line x1="453" y1="103.3" x2="466.2" y2="103.3" stroke="#F2BE3A" stroke-width="2.8"/>
<circle cx="459.37" cy="125.36" r="1.35" fill="#F2B300"/>
<circle cx="459.28" cy="121.86" r="1.35" fill="#F2B300"/>
<circle cx="459.93" cy="120.39" r="1.35" fill="#F2B300"/>
<circle cx="460.72" cy="117.04" r="1.35" fill="#F2B300"/>
<circle cx="458.26" cy="114.3" r="1.35" fill="#F2B300"/>
<circle cx="459.15" cy="113.16" r="1.35" fill="#F2B300"/>
<circle cx="462.63" cy="112.04" r="1.35" fill="#F2B300"/>
<circle cx="458.88" cy="111.88" r="1.35" fill="#F2B300"/>
<circle cx="462.82" cy="111.02" r="1.35" fill="#F2B300"/>
<circle cx="456.55" cy="110.27" r="1.35" fill="#F2B300"/>
<circle cx="458.87" cy="109.52" r="1.35" fill="#F2B300"/>
<circle cx="462.21" cy="108.03" r="1.35" fill="#F2B300"/>
<circle cx="462.98" cy="107.36" r="1.35" fill="#F2B300"/>
<circle cx="458.44" cy="106.39" r="1.35" fill="#F2B300"/>
<circle cx="462.56" cy="106.18" r="1.35" fill="#F2B300"/>
<circle cx="456.42" cy="104.92" r="1.35" fill="#F2B300"/>
<circle cx="458.77" cy="104.18" r="1.35" fill="#F2B300"/>
<circle cx="458.46" cy="103.6" r="1.35" fill="#F2B300"/>
<circle cx="456.22" cy="102.96" r="1.35" fill="#F2B300"/>
<circle cx="458.59" cy="102.06" r="1.35" fill="#F2B300"/>
<circle cx="457.04" cy="100.7" r="1.35" fill="#F2B300"/>
<circle cx="457.61" cy="99.89" r="1.35" fill="#F2B300"/>
<circle cx="461.79" cy="99.57" r="1.35" fill="#F2B300"/>
<circle cx="459.14" cy="98.38" r="1.35" fill="#F2B300"/>
<circle cx="459.42" cy="98.2" r="1.35" fill="#F2B300"/>
<circle cx="462.45" cy="97.13" r="1.35" fill="#F2B300"/>
<circle cx="458.68" cy="96.46" r="1.35" fill="#F2B300"/>
<circle cx="456.41" cy="95.08" r="1.35" fill="#F2B300"/>
<circle cx="461.7" cy="94.95" r="1.35" fill="#F2B300"/>
<circle cx="457.21" cy="93.67" r="1.35" fill="#F2B300"/>
<circle cx="457.53" cy="93.18" r="1.35" fill="#F2B300"/>
<circle cx="459.24" cy="87.32" r="1.35" fill="#F2B300"/>
<circle cx="460.08" cy="83.3" r="1.35" fill="#F2B300"/>
<circle cx="459.33" cy="79.85" r="1.35" fill="#F2B300"/>
<circle cx="459.74" cy="67.86" r="1.35" fill="#F2B300"/>
<circle cx="459.12" cy="67.5" r="1.35" fill="#F2B300"/>
<circle cx="460.03" cy="130" r="1.35" fill="#F2B300"/>
<rect x="468.8" y="95.5" width="13.2" height="33.3" fill="#B8D5EE"/>
<line x1="475.4" y1="54.5" x2="475.4" y2="132" stroke="#3AA4DD" stroke-width="1.6"/>
<line x1="468.8" y1="113" x2="482" y2="113" stroke="#3AA4DD" stroke-width="2.8"/>
<circle cx="474.85" cy="131.67" r="1.35" fill="#3AA4DD"/>
<circle cx="476.11" cy="131.02" r="1.35" fill="#3AA4DD"/>
<circle cx="475.89" cy="129.65" r="1.35" fill="#3AA4DD"/>
<circle cx="473.48" cy="129.18" r="1.35" fill="#3AA4DD"/>
<circle cx="475.3" cy="129.08" r="1.35" fill="#3AA4DD"/>
<circle cx="477.38" cy="128.8" r="1.35" fill="#3AA4DD"/>
<circle cx="474.32" cy="128.08" r="1.35" fill="#3AA4DD"/>
<circle cx="475.37" cy="126.15" r="1.35" fill="#3AA4DD"/>
<circle cx="474.02" cy="123.38" r="1.35" fill="#3AA4DD"/>
<circle cx="476.44" cy="121.77" r="1.35" fill="#3AA4DD"/>
<circle cx="476.59" cy="119.88" r="1.35" fill="#3AA4DD"/>
<circle cx="474.65" cy="118.43" r="1.35" fill="#3AA4DD"/>
<circle cx="474.8" cy="117.11" r="1.35" fill="#3AA4DD"/>
<circle cx="473.57" cy="114.4" r="1.35" fill="#3AA4DD"/>
<circle cx="476.5" cy="113.63" r="1.35" fill="#3AA4DD"/>
<circle cx="473.5" cy="111.69" r="1.35" fill="#3AA4DD"/>
<circle cx="475.63" cy="110.24" r="1.35" fill="#3AA4DD"/>
<circle cx="477.49" cy="107.85" r="1.35" fill="#3AA4DD"/>
<circle cx="477.52" cy="104.97" r="1.35" fill="#3AA4DD"/>
<circle cx="473.59" cy="104.26" r="1.35" fill="#3AA4DD"/>
<circle cx="475.39" cy="102.72" r="1.35" fill="#3AA4DD"/>
<circle cx="475.17" cy="99.74" r="1.35" fill="#3AA4DD"/>
<circle cx="475.04" cy="98.77" r="1.35" fill="#3AA4DD"/>
<circle cx="476.16" cy="96.2" r="1.35" fill="#3AA4DD"/>
<circle cx="476.79" cy="95.08" r="1.35" fill="#3AA4DD"/>
<circle cx="474.39" cy="93.06" r="1.35" fill="#3AA4DD"/>
<circle cx="475.15" cy="87.59" r="1.35" fill="#3AA4DD"/>
<circle cx="475.25" cy="82.44" r="1.35" fill="#3AA4DD"/>
<circle cx="475.04" cy="71.11" r="1.35" fill="#3AA4DD"/>
<circle cx="475.09" cy="64.97" r="1.35" fill="#3AA4DD"/>
<circle cx="474.71" cy="54.5" r="1.35" fill="#3AA4DD"/>
<circle cx="476.17" cy="132" r="1.35" fill="#3AA4DD"/>
<rect x="484.6" y="123.8" width="13.2" height="5.7" fill="#99A0C2"/>
<line x1="491.2" y1="94.3" x2="491.2" y2="129.5" stroke="#1B4A84" stroke-width="1.6"/>
<line x1="484.6" y1="127" x2="497.8" y2="127" stroke="#1B4A84" stroke-width="2.8"/>
<circle cx="490.51" cy="129.5" r="1.35" fill="#1B4A84"/>
<circle cx="493.17" cy="129.5" r="1.35" fill="#1B4A84"/>
<circle cx="490.13" cy="128" r="1.35" fill="#1B4A84"/>
<circle cx="491.81" cy="126.23" r="1.35" fill="#1B4A84"/>
<circle cx="489.61" cy="124.63" r="1.35" fill="#1B4A84"/>
<circle cx="492.48" cy="123.97" r="1.35" fill="#1B4A84"/>
<circle cx="491.7" cy="101.19" r="1.35" fill="#1B4A84"/>
<circle cx="490.28" cy="94.3" r="1.35" fill="#1B4A84"/>
<circle cx="490.79" cy="129.5" r="1.35" fill="#1B4A84"/>
</g>
<line x1="323.8" y1="30.8" x2="323.8" y2="138.9" class="ax"/>
<line x1="323.15" y1="138.9" x2="510.6" y2="138.9" class="ax"/>
<line x1="358.8" y1="138.9" x2="358.8" y2="143.1" class="ax"/>
<text x="358.8" y="157.9" class="xl">day −5<tspan font-size="9.5" dy="-2" dx="0.3">*</tspan></text>
<line x1="417.1" y1="138.9" x2="417.1" y2="143.1" class="ax"/>
<text x="417.1" y="157.9" class="xl">day 0<tspan font-size="9.5" dy="-2" dx="0.3">*</tspan></text>
<line x1="475.4" y1="138.9" x2="475.4" y2="143.1" class="ax"/>
<text x="475.4" y="157.9" class="xl">day +3<tspan font-size="9.5" dy="-2" dx="0.3">*</tspan></text>
<rect x="333.2" y="168.5" width="9" height="6.4" fill="#FADDA6" stroke="#F2B300" stroke-opacity="0.25" stroke-width="0.6"/><line x1="337.7" y1="165.5" x2="337.7" y2="168.5" stroke="#F2B300" stroke-width="1.3"/><line x1="337.7" y1="174.9" x2="337.7" y2="178.1" stroke="#F2B300" stroke-width="1.3"/><line x1="333.2" y1="171.7" x2="342.2" y2="171.7" stroke="#F2BE3A" stroke-width="1.8"/><circle cx="337.7" cy="171.7" r="1.4" fill="#F2B300"/>
<text x="346.8" y="175.6" class="lg">None</text>
<rect x="382.3" y="168.5" width="9" height="6.4" fill="#B8D5EE" stroke="#3AA4DD" stroke-opacity="0.25" stroke-width="0.6"/><line x1="386.8" y1="165.5" x2="386.8" y2="168.5" stroke="#3AA4DD" stroke-width="1.3"/><line x1="386.8" y1="174.9" x2="386.8" y2="178.1" stroke="#3AA4DD" stroke-width="1.3"/><line x1="382.3" y1="171.7" x2="391.3" y2="171.7" stroke="#3AA4DD" stroke-width="1.8"/><circle cx="386.8" cy="171.7" r="1.4" fill="#3AA4DD"/>
<text x="395.3" y="175.6" class="lg">Mild</text>
<rect x="425.2" y="168.5" width="9" height="6.4" fill="#99A0C2" stroke="#1B4A84" stroke-opacity="0.25" stroke-width="0.6"/><line x1="429.7" y1="165.5" x2="429.7" y2="168.5" stroke="#1B4A84" stroke-width="1.3"/><line x1="429.7" y1="174.9" x2="429.7" y2="178.1" stroke="#1B4A84" stroke-width="1.3"/><line x1="425.2" y1="171.7" x2="434.2" y2="171.7" stroke="#1B4A84" stroke-width="1.8"/><circle cx="429.7" cy="171.7" r="1.4" fill="#1B4A84"/>
<text x="439.1" y="175.6" class="lg">Severe CRS</text>
<text x="8.4" y="215.2" class="lt">C</text>
<text transform="translate(33.7,278.25) rotate(-90) scale(0.71,1)" class="yt">CRP</text>
<line x1="60.3" y1="327.6" x2="64.5" y2="327.6" class="ax"/>
<text x="55.2" y="331.7" class="tk">0</text>
<line x1="60.3" y1="302.9" x2="64.5" y2="302.9" class="ax"/>
<text x="55.2" y="307" class="tk">5</text>
<line x1="60.3" y1="278.2" x2="64.5" y2="278.2" class="ax"/>
<text x="55.2" y="282.3" class="tk">10</text>
<line x1="60.3" y1="253.5" x2="64.5" y2="253.5" class="ax"/>
<text x="55.2" y="257.6" class="tk">15</text>
<line x1="60.3" y1="228.8" x2="64.5" y2="228.8" class="ax"/>
<text x="55.2" y="232.9" class="tk">20</text>
<clipPath id="cC"><rect x="64.5" y="224.3" width="186.8" height="107.9"/></clipPath>
<g clip-path="url(#cC)">
<rect x="77.1" y="325" width="13.2" height="3" fill="#FADDA6"/>
<line x1="83.7" y1="298.8" x2="83.7" y2="328" stroke="#F2B300" stroke-width="1.6"/>
<line x1="77.1" y1="327" x2="90.3" y2="327" stroke="#F2BE3A" stroke-width="2.8"/>
<circle cx="81.59" cy="328" r="1.35" fill="#F2B300"/>
<circle cx="84.27" cy="328" r="1.35" fill="#F2B300"/>
<circle cx="82.83" cy="328" r="1.35" fill="#F2B300"/>
<circle cx="83.35" cy="328" r="1.35" fill="#F2B300"/>
<circle cx="85.59" cy="328" r="1.35" fill="#F2B300"/>
<circle cx="81.02" cy="328" r="1.35" fill="#F2B300"/>
<circle cx="84.52" cy="327.9" r="1.35" fill="#F2B300"/>
<circle cx="82.81" cy="327.8" r="1.35" fill="#F2B300"/>
<circle cx="81.69" cy="327.64" r="1.35" fill="#F2B300"/>
<circle cx="84.38" cy="327.46" r="1.35" fill="#F2B300"/>
<circle cx="81.68" cy="327.22" r="1.35" fill="#F2B300"/>
<circle cx="82.53" cy="327.16" r="1.35" fill="#F2B300"/>
<circle cx="81.56" cy="326.89" r="1.35" fill="#F2B300"/>
<circle cx="81.68" cy="326.78" r="1.35" fill="#F2B300"/>
<circle cx="84.03" cy="326.53" r="1.35" fill="#F2B300"/>
<circle cx="80.99" cy="326.49" r="1.35" fill="#F2B300"/>
<circle cx="84.04" cy="326.27" r="1.35" fill="#F2B300"/>
<circle cx="80.92" cy="326.06" r="1.35" fill="#F2B300"/>
<circle cx="85.03" cy="325.97" r="1.35" fill="#F2B300"/>
<circle cx="82.23" cy="325.77" r="1.35" fill="#F2B300"/>
<circle cx="86.78" cy="325.62" r="1.35" fill="#F2B300"/>
<circle cx="84.15" cy="325.45" r="1.35" fill="#F2B300"/>
<circle cx="83.13" cy="325.27" r="1.35" fill="#F2B300"/>
<circle cx="87.08" cy="325.02" r="1.35" fill="#F2B300"/>
<circle cx="81.66" cy="324.95" r="1.35" fill="#F2B300"/>
<circle cx="82.26" cy="323.31" r="1.35" fill="#F2B300"/>
<circle cx="85.41" cy="322.65" r="1.35" fill="#F2B300"/>
<circle cx="84.17" cy="317.37" r="1.35" fill="#F2B300"/>
<circle cx="84.16" cy="311.72" r="1.35" fill="#F2B300"/>
<circle cx="83.3" cy="303.7" r="1.35" fill="#F2B300"/>
<circle cx="82.73" cy="298.8" r="1.35" fill="#F2B300"/>
<circle cx="83.8" cy="328" r="1.35" fill="#F2B300"/>
<circle cx="84.26" cy="300" r="1.35" fill="#F2B300"/>
<circle cx="85.34" cy="302" r="1.35" fill="#F2B300"/>
<rect x="92.9" y="320" width="13.2" height="8" fill="#B8D5EE"/>
<line x1="99.5" y1="222.3" x2="99.5" y2="328" stroke="#3AA4DD" stroke-width="1.6"/>
<line x1="92.9" y1="325" x2="106.1" y2="325" stroke="#3AA4DD" stroke-width="2.8"/>
<circle cx="100.21" cy="328" r="1.35" fill="#3AA4DD"/>
<circle cx="99.53" cy="328" r="1.35" fill="#3AA4DD"/>
<circle cx="98.24" cy="328" r="1.35" fill="#3AA4DD"/>
<circle cx="101.97" cy="328" r="1.35" fill="#3AA4DD"/>
<circle cx="99.44" cy="328" r="1.35" fill="#3AA4DD"/>
<circle cx="102.21" cy="328" r="1.35" fill="#3AA4DD"/>
<circle cx="97.33" cy="327.92" r="1.35" fill="#3AA4DD"/>
<circle cx="102.26" cy="327.24" r="1.35" fill="#3AA4DD"/>
<circle cx="96.91" cy="327.03" r="1.35" fill="#3AA4DD"/>
<circle cx="98.85" cy="326.46" r="1.35" fill="#3AA4DD"/>
<circle cx="100.2" cy="326.08" r="1.35" fill="#3AA4DD"/>
<circle cx="97.53" cy="325.72" r="1.35" fill="#3AA4DD"/>
<circle cx="97.89" cy="325.34" r="1.35" fill="#3AA4DD"/>
<circle cx="101.51" cy="325.1" r="1.35" fill="#3AA4DD"/>
<circle cx="97.66" cy="324.54" r="1.35" fill="#3AA4DD"/>
<circle cx="98.92" cy="324.39" r="1.35" fill="#3AA4DD"/>
<circle cx="98.82" cy="323.88" r="1.35" fill="#3AA4DD"/>
<circle cx="98.03" cy="323.64" r="1.35" fill="#3AA4DD"/>
<circle cx="101.8" cy="323.01" r="1.35" fill="#3AA4DD"/>
<circle cx="99.86" cy="322.89" r="1.35" fill="#3AA4DD"/>
<circle cx="96.82" cy="322.21" r="1.35" fill="#3AA4DD"/>
<circle cx="97.28" cy="321.79" r="1.35" fill="#3AA4DD"/>
<circle cx="99.79" cy="321.49" r="1.35" fill="#3AA4DD"/>
<circle cx="98.38" cy="321.09" r="1.35" fill="#3AA4DD"/>
<circle cx="99.98" cy="320.78" r="1.35" fill="#3AA4DD"/>
<circle cx="100.42" cy="320.38" r="1.35" fill="#3AA4DD"/>
<circle cx="99.14" cy="320" r="1.35" fill="#3AA4DD"/>
<circle cx="100.09" cy="319.21" r="1.35" fill="#3AA4DD"/>
<circle cx="99.18" cy="308.67" r="1.35" fill="#3AA4DD"/>
<circle cx="99.84" cy="287.71" r="1.35" fill="#3AA4DD"/>
<circle cx="99.42" cy="328" r="1.35" fill="#3AA4DD"/>
<rect x="108.7" y="296.8" width="13.2" height="28.2" fill="#99A0C2"/>
<line x1="115.3" y1="222.3" x2="115.3" y2="328" stroke="#1B4A84" stroke-width="1.6"/>
<line x1="108.7" y1="315" x2="121.9" y2="315" stroke="#1B4A84" stroke-width="2.8"/>
<circle cx="115.27" cy="327.53" r="1.35" fill="#1B4A84"/>
<circle cx="114.85" cy="325.74" r="1.35" fill="#1B4A84"/>
<circle cx="114.77" cy="324.01" r="1.35" fill="#1B4A84"/>
<circle cx="115.31" cy="319.69" r="1.35" fill="#1B4A84"/>
<circle cx="115.48" cy="317.13" r="1.35" fill="#1B4A84"/>
<circle cx="115.6" cy="312.68" r="1.35" fill="#1B4A84"/>
<circle cx="115.31" cy="305.44" r="1.35" fill="#1B4A84"/>
<circle cx="115.31" cy="304.26" r="1.35" fill="#1B4A84"/>
<circle cx="115.89" cy="298.6" r="1.35" fill="#1B4A84"/>
<circle cx="115.76" cy="296.8" r="1.35" fill="#1B4A84"/>
<circle cx="115.6" cy="296.8" r="1.35" fill="#1B4A84"/>
<circle cx="115.93" cy="328" r="1.35" fill="#1B4A84"/>
<circle cx="114.07" cy="275" r="1.35" fill="#1B4A84"/>
<circle cx="117.23" cy="288.8" r="1.35" fill="#1B4A84"/>
<rect x="135.6" y="322" width="13.2" height="6" fill="#FADDA6"/>
<line x1="142.2" y1="312.5" x2="142.2" y2="328" stroke="#F2B300" stroke-width="1.6"/>
<line x1="135.6" y1="326" x2="148.8" y2="326" stroke="#F2BE3A" stroke-width="2.8"/>
<circle cx="145.31" cy="328" r="1.35" fill="#F2B300"/>
<circle cx="139.92" cy="328" r="1.35" fill="#F2B300"/>
<circle cx="145.13" cy="328" r="1.35" fill="#F2B300"/>
<circle cx="141.19" cy="328" r="1.35" fill="#F2B300"/>
<circle cx="139.88" cy="328" r="1.35" fill="#F2B300"/>
<circle cx="140.67" cy="328" r="1.35" fill="#F2B300"/>
<circle cx="139.78" cy="327.73" r="1.35" fill="#F2B300"/>
<circle cx="145.06" cy="327.5" r="1.35" fill="#F2B300"/>
<circle cx="140.59" cy="327.26" r="1.35" fill="#F2B300"/>
<circle cx="140.97" cy="326.83" r="1.35" fill="#F2B300"/>
<circle cx="140.04" cy="326.65" r="1.35" fill="#F2B300"/>
<circle cx="145.17" cy="326.28" r="1.35" fill="#F2B300"/>
<circle cx="144.89" cy="325.77" r="1.35" fill="#F2B300"/>
<circle cx="144.14" cy="325.61" r="1.35" fill="#F2B300"/>
<circle cx="142.41" cy="325.29" r="1.35" fill="#F2B300"/>
<circle cx="141.25" cy="324.79" r="1.35" fill="#F2B300"/>
<circle cx="142.58" cy="324.38" r="1.35" fill="#F2B300"/>
<circle cx="144.8" cy="324.14" r="1.35" fill="#F2B300"/>
<circle cx="145.55" cy="323.97" r="1.35" fill="#F2B300"/>
<circle cx="141.48" cy="323.46" r="1.35" fill="#F2B300"/>
<circle cx="140.6" cy="323.07" r="1.35" fill="#F2B300"/>
<circle cx="142.73" cy="322.67" r="1.35" fill="#F2B300"/>
<circle cx="144" cy="322.55" r="1.35" fill="#F2B300"/>
<circle cx="140" cy="322.19" r="1.35" fill="#F2B300"/>
<circle cx="139.19" cy="321.9" r="1.35" fill="#F2B300"/>
<circle cx="140.74" cy="321.31" r="1.35" fill="#F2B300"/>
<circle cx="144.61" cy="320.44" r="1.35" fill="#F2B300"/>
<circle cx="142.8" cy="318.94" r="1.35" fill="#F2B300"/>
<circle cx="140.85" cy="317.41" r="1.35" fill="#F2B300"/>
<circle cx="141.54" cy="315.54" r="1.35" fill="#F2B300"/>
<circle cx="142.43" cy="312.5" r="1.35" fill="#F2B300"/>
<circle cx="142.06" cy="328" r="1.35" fill="#F2B300"/>
<rect x="151.4" y="313.3" width="13.2" height="14.7" fill="#B8D5EE"/>
<line x1="158" y1="222.3" x2="158" y2="328" stroke="#3AA4DD" stroke-width="1.6"/>
<line x1="151.4" y1="325" x2="164.6" y2="325" stroke="#3AA4DD" stroke-width="2.8"/>
<circle cx="160.29" cy="328" r="1.35" fill="#3AA4DD"/>
<circle cx="156.42" cy="328" r="1.35" fill="#3AA4DD"/>
<circle cx="155.23" cy="328" r="1.35" fill="#3AA4DD"/>
<circle cx="157.16" cy="328" r="1.35" fill="#3AA4DD"/>
<circle cx="157.17" cy="328" r="1.35" fill="#3AA4DD"/>
<circle cx="158.48" cy="328" r="1.35" fill="#3AA4DD"/>
<circle cx="156.28" cy="327.58" r="1.35" fill="#3AA4DD"/>
<circle cx="157.85" cy="326.83" r="1.35" fill="#3AA4DD"/>
<circle cx="160.53" cy="326.46" r="1.35" fill="#3AA4DD"/>
<circle cx="155.97" cy="325.66" r="1.35" fill="#3AA4DD"/>
<circle cx="158.8" cy="325.05" r="1.35" fill="#3AA4DD"/>
<circle cx="159.64" cy="323.77" r="1.35" fill="#3AA4DD"/>
<circle cx="156.63" cy="323.39" r="1.35" fill="#3AA4DD"/>
<circle cx="158.84" cy="322.95" r="1.35" fill="#3AA4DD"/>
<circle cx="157.13" cy="321.83" r="1.35" fill="#3AA4DD"/>
<circle cx="157.67" cy="321.05" r="1.35" fill="#3AA4DD"/>
<circle cx="159.35" cy="320.12" r="1.35" fill="#3AA4DD"/>
<circle cx="160.34" cy="319.89" r="1.35" fill="#3AA4DD"/>
<circle cx="158.18" cy="319.32" r="1.35" fill="#3AA4DD"/>
<circle cx="156.48" cy="318.34" r="1.35" fill="#3AA4DD"/>
<circle cx="159.62" cy="317.87" r="1.35" fill="#3AA4DD"/>
<circle cx="158.3" cy="317.18" r="1.35" fill="#3AA4DD"/>
<circle cx="155.93" cy="315.79" r="1.35" fill="#3AA4DD"/>
<circle cx="158.63" cy="315.61" r="1.35" fill="#3AA4DD"/>
<circle cx="158.82" cy="314.66" r="1.35" fill="#3AA4DD"/>
<circle cx="156.11" cy="313.72" r="1.35" fill="#3AA4DD"/>
<circle cx="156.84" cy="313.37" r="1.35" fill="#3AA4DD"/>
<circle cx="160.01" cy="312.71" r="1.35" fill="#3AA4DD"/>
<circle cx="158.26" cy="302.89" r="1.35" fill="#3AA4DD"/>
<circle cx="158.41" cy="300.62" r="1.35" fill="#3AA4DD"/>
<circle cx="158.49" cy="328" r="1.35" fill="#3AA4DD"/>
<rect x="167.2" y="297" width="13.2" height="25" fill="#99A0C2"/>
<line x1="173.8" y1="262" x2="173.8" y2="328" stroke="#1B4A84" stroke-width="1.6"/>
<line x1="167.2" y1="310.5" x2="180.4" y2="310.5" stroke="#1B4A84" stroke-width="2.8"/>
<circle cx="174.09" cy="325.73" r="1.35" fill="#1B4A84"/>
<circle cx="173.45" cy="322.69" r="1.35" fill="#1B4A84"/>
<circle cx="173.41" cy="322.01" r="1.35" fill="#1B4A84"/>
<circle cx="173.56" cy="318.82" r="1.35" fill="#1B4A84"/>
<circle cx="174.09" cy="312.34" r="1.35" fill="#1B4A84"/>
<circle cx="174.11" cy="308.19" r="1.35" fill="#1B4A84"/>
<circle cx="173.88" cy="306.6" r="1.35" fill="#1B4A84"/>
<circle cx="174.22" cy="302.17" r="1.35" fill="#1B4A84"/>
<circle cx="173.46" cy="298.05" r="1.35" fill="#1B4A84"/>
<circle cx="174.36" cy="292.77" r="1.35" fill="#1B4A84"/>
<circle cx="174.26" cy="283.7" r="1.35" fill="#1B4A84"/>
<circle cx="172.83" cy="262" r="1.35" fill="#1B4A84"/>
<circle cx="173.32" cy="328" r="1.35" fill="#1B4A84"/>
<rect x="194.2" y="325" width="13.2" height="3" fill="#FADDA6"/>
<line x1="200.8" y1="304.5" x2="200.8" y2="328" stroke="#F2B300" stroke-width="1.6"/>
<line x1="194.2" y1="327" x2="207.4" y2="327" stroke="#F2BE3A" stroke-width="2.8"/>
<circle cx="202.46" cy="328" r="1.35" fill="#F2B300"/>
<circle cx="202.47" cy="328" r="1.35" fill="#F2B300"/>
<circle cx="203.39" cy="328" r="1.35" fill="#F2B300"/>
<circle cx="199.03" cy="328" r="1.35" fill="#F2B300"/>
<circle cx="201.69" cy="328" r="1.35" fill="#F2B300"/>
<circle cx="201.92" cy="328" r="1.35" fill="#F2B300"/>
<circle cx="200.59" cy="327.84" r="1.35" fill="#F2B300"/>
<circle cx="202.14" cy="327.69" r="1.35" fill="#F2B300"/>
<circle cx="200.37" cy="327.52" r="1.35" fill="#F2B300"/>
<circle cx="201.28" cy="327.38" r="1.35" fill="#F2B300"/>
<circle cx="198.84" cy="327.28" r="1.35" fill="#F2B300"/>
<circle cx="197.93" cy="327.06" r="1.35" fill="#F2B300"/>
<circle cx="198.38" cy="326.85" r="1.35" fill="#F2B300"/>
<circle cx="198.13" cy="326.83" r="1.35" fill="#F2B300"/>
<circle cx="199.75" cy="326.51" r="1.35" fill="#F2B300"/>
<circle cx="197.6" cy="326.48" r="1.35" fill="#F2B300"/>
<circle cx="202.11" cy="326.33" r="1.35" fill="#F2B300"/>
<circle cx="202.14" cy="326.06" r="1.35" fill="#F2B300"/>
<circle cx="197.85" cy="325.88" r="1.35" fill="#F2B300"/>
<circle cx="199.87" cy="325.73" r="1.35" fill="#F2B300"/>
<circle cx="202.97" cy="325.53" r="1.35" fill="#F2B300"/>
<circle cx="197.85" cy="325.35" r="1.35" fill="#F2B300"/>
<circle cx="203.62" cy="325.19" r="1.35" fill="#F2B300"/>
<circle cx="198.13" cy="325.01" r="1.35" fill="#F2B300"/>
<circle cx="198.17" cy="324.99" r="1.35" fill="#F2B300"/>
<circle cx="202.97" cy="324.57" r="1.35" fill="#F2B300"/>
<circle cx="201.22" cy="321.13" r="1.35" fill="#F2B300"/>
<circle cx="201" cy="317.39" r="1.35" fill="#F2B300"/>
<circle cx="200.32" cy="315.21" r="1.35" fill="#F2B300"/>
<circle cx="201.11" cy="310.68" r="1.35" fill="#F2B300"/>
<circle cx="200.21" cy="304.5" r="1.35" fill="#F2B300"/>
<circle cx="200.44" cy="328" r="1.35" fill="#F2B300"/>
<rect x="210" y="323" width="13.2" height="5" fill="#B8D5EE"/>
<line x1="216.6" y1="268.8" x2="216.6" y2="328" stroke="#3AA4DD" stroke-width="1.6"/>
<line x1="210" y1="326" x2="223.2" y2="326" stroke="#3AA4DD" stroke-width="2.8"/>
<circle cx="213.82" cy="328" r="1.35" fill="#3AA4DD"/>
<circle cx="215.34" cy="328" r="1.35" fill="#3AA4DD"/>
<circle cx="215.83" cy="328" r="1.35" fill="#3AA4DD"/>
<circle cx="219.29" cy="328" r="1.35" fill="#3AA4DD"/>
<circle cx="218.64" cy="328" r="1.35" fill="#3AA4DD"/>
<circle cx="213.88" cy="327.79" r="1.35" fill="#3AA4DD"/>
<circle cx="216.23" cy="327.53" r="1.35" fill="#3AA4DD"/>
<circle cx="215.71" cy="327.08" r="1.35" fill="#3AA4DD"/>
<circle cx="216.82" cy="326.77" r="1.35" fill="#3AA4DD"/>
<circle cx="218.7" cy="326.59" r="1.35" fill="#3AA4DD"/>
<circle cx="218.45" cy="326.3" r="1.35" fill="#3AA4DD"/>
<circle cx="213.71" cy="325.94" r="1.35" fill="#3AA4DD"/>
<circle cx="218.12" cy="325.6" r="1.35" fill="#3AA4DD"/>
<circle cx="213.73" cy="325.01" r="1.35" fill="#3AA4DD"/>
<circle cx="216.55" cy="324.84" r="1.35" fill="#3AA4DD"/>
<circle cx="214.77" cy="324.4" r="1.35" fill="#3AA4DD"/>
<circle cx="215.71" cy="324.17" r="1.35" fill="#3AA4DD"/>
<circle cx="215.21" cy="323.72" r="1.35" fill="#3AA4DD"/>
<circle cx="215.35" cy="323.35" r="1.35" fill="#3AA4DD"/>
<circle cx="217.76" cy="323.26" r="1.35" fill="#3AA4DD"/>
<circle cx="214.49" cy="322.66" r="1.35" fill="#3AA4DD"/>
<circle cx="215.64" cy="318.36" r="1.35" fill="#3AA4DD"/>
<circle cx="216.84" cy="308.01" r="1.35" fill="#3AA4DD"/>
<circle cx="216.75" cy="293.59" r="1.35" fill="#3AA4DD"/>
<circle cx="216.48" cy="282.99" r="1.35" fill="#3AA4DD"/>
<circle cx="216.39" cy="268.8" r="1.35" fill="#3AA4DD"/>
<circle cx="217.38" cy="328" r="1.35" fill="#3AA4DD"/>
<circle cx="214.94" cy="282" r="1.35" fill="#3AA4DD"/>
<rect x="225.8" y="298.8" width="13.2" height="20.7" fill="#99A0C2"/>
<line x1="232.4" y1="286.8" x2="232.4" y2="323" stroke="#1B4A84" stroke-width="1.6"/>
<line x1="225.8" y1="317.5" x2="239" y2="317.5" stroke="#1B4A84" stroke-width="2.8"/>
<circle cx="231.83" cy="319.97" r="1.35" fill="#1B4A84"/>
<circle cx="232.12" cy="319.57" r="1.35" fill="#1B4A84"/>
<circle cx="232.4" cy="312.1" r="1.35" fill="#1B4A84"/>
<circle cx="232.86" cy="309.74" r="1.35" fill="#1B4A84"/>
<circle cx="232.35" cy="305.53" r="1.35" fill="#1B4A84"/>
<circle cx="232.71" cy="299.14" r="1.35" fill="#1B4A84"/>
<circle cx="232.58" cy="290.97" r="1.35" fill="#1B4A84"/>
<circle cx="232.1" cy="286.8" r="1.35" fill="#1B4A84"/>
<circle cx="232.05" cy="323" r="1.35" fill="#1B4A84"/>
</g>
<line x1="64.5" y1="224.3" x2="64.5" y2="332.2" class="ax"/>
<line x1="63.85" y1="332.2" x2="251.3" y2="332.2" class="ax"/>
<line x1="99.5" y1="332.2" x2="99.5" y2="336.4" class="ax"/>
<text x="99.5" y="351.2" class="xl">day −5</text>
<line x1="158" y1="332.2" x2="158" y2="336.4" class="ax"/>
<text x="158" y="351.2" class="xl">day 0</text>
<line x1="216.6" y1="332.2" x2="216.6" y2="336.4" class="ax"/>
<text x="216.6" y="351.2" class="xl">day +3<tspan font-size="9.5" dy="-2" dx="0.3">*</tspan></text>
<rect x="73.9" y="361.8" width="9" height="6.4" fill="#FADDA6" stroke="#F2B300" stroke-opacity="0.25" stroke-width="0.6"/><line x1="78.4" y1="358.8" x2="78.4" y2="361.8" stroke="#F2B300" stroke-width="1.3"/><line x1="78.4" y1="368.2" x2="78.4" y2="371.4" stroke="#F2B300" stroke-width="1.3"/><line x1="73.9" y1="365" x2="82.9" y2="365" stroke="#F2BE3A" stroke-width="1.8"/><circle cx="78.4" cy="365" r="1.4" fill="#F2B300"/>
<text x="87.5" y="368.9" class="lg">None</text>
<rect x="123" y="361.8" width="9" height="6.4" fill="#B8D5EE" stroke="#3AA4DD" stroke-opacity="0.25" stroke-width="0.6"/><line x1="127.5" y1="358.8" x2="127.5" y2="361.8" stroke="#3AA4DD" stroke-width="1.3"/><line x1="127.5" y1="368.2" x2="127.5" y2="371.4" stroke="#3AA4DD" stroke-width="1.3"/><line x1="123" y1="365" x2="132" y2="365" stroke="#3AA4DD" stroke-width="1.8"/><circle cx="127.5" cy="365" r="1.4" fill="#3AA4DD"/>
<text x="136" y="368.9" class="lg">Mild</text>
<rect x="165.9" y="361.8" width="9" height="6.4" fill="#99A0C2" stroke="#1B4A84" stroke-opacity="0.25" stroke-width="0.6"/><line x1="170.4" y1="358.8" x2="170.4" y2="361.8" stroke="#1B4A84" stroke-width="1.3"/><line x1="170.4" y1="368.2" x2="170.4" y2="371.4" stroke="#1B4A84" stroke-width="1.3"/><line x1="165.9" y1="365" x2="174.9" y2="365" stroke="#1B4A84" stroke-width="1.8"/><circle cx="170.4" cy="365" r="1.4" fill="#1B4A84"/>
<text x="179.8" y="368.9" class="lg">Severe CRS</text>
<text x="273.2" y="215.2" class="lt">D</text>
<text transform="translate(283.8,278.25) rotate(-90) scale(0.71,1)" class="yt">CR</text>
<line x1="319.6" y1="311.2" x2="323.8" y2="311.2" class="ax"/>
<text x="314.5" y="315.3" class="tk">0.25</text>
<line x1="319.6" y1="284.8" x2="323.8" y2="284.8" class="ax"/>
<text x="314.5" y="288.9" class="tk">0.50</text>
<line x1="319.6" y1="258.4" x2="323.8" y2="258.4" class="ax"/>
<text x="314.5" y="262.5" class="tk">0.75</text>
<line x1="319.6" y1="232" x2="323.8" y2="232" class="ax"/>
<text x="314.5" y="236.1" class="tk">1.00</text>
<clipPath id="cD"><rect x="323.8" y="224.3" width="186.8" height="107.9"/></clipPath>
<g clip-path="url(#cD)">
<rect x="336.4" y="275.5" width="13.2" height="32" fill="#FADDA6"/>
<line x1="343" y1="231.3" x2="343" y2="321.3" stroke="#F2B300" stroke-width="1.6"/>
<line x1="336.4" y1="292" x2="349.6" y2="292" stroke="#F2BE3A" stroke-width="2.8"/>
<circle cx="343.41" cy="320.69" r="1.35" fill="#F2B300"/>
<circle cx="343.3" cy="315.52" r="1.35" fill="#F2B300"/>
<circle cx="342.9" cy="314.07" r="1.35" fill="#F2B300"/>
<circle cx="343.27" cy="310.43" r="1.35" fill="#F2B300"/>
<circle cx="342.85" cy="309.83" r="1.35" fill="#F2B300"/>
<circle cx="341.49" cy="307.85" r="1.35" fill="#F2B300"/>
<circle cx="341.81" cy="307.68" r="1.35" fill="#F2B300"/>
<circle cx="345.13" cy="306.43" r="1.35" fill="#F2B300"/>
<circle cx="340.87" cy="305.74" r="1.35" fill="#F2B300"/>
<circle cx="341.93" cy="304.08" r="1.35" fill="#F2B300"/>
<circle cx="340.9" cy="302.13" r="1.35" fill="#F2B300"/>
<circle cx="341.07" cy="300.9" r="1.35" fill="#F2B300"/>
<circle cx="344.42" cy="298.4" r="1.35" fill="#F2B300"/>
<circle cx="345.87" cy="298.2" r="1.35" fill="#F2B300"/>
<circle cx="342.28" cy="296.68" r="1.35" fill="#F2B300"/>
<circle cx="344.83" cy="293.81" r="1.35" fill="#F2B300"/>
<circle cx="342.6" cy="292.67" r="1.35" fill="#F2B300"/>
<circle cx="343.86" cy="291.96" r="1.35" fill="#F2B300"/>
<circle cx="341.18" cy="290.58" r="1.35" fill="#F2B300"/>
<circle cx="340.11" cy="288.62" r="1.35" fill="#F2B300"/>
<circle cx="344.8" cy="287.08" r="1.35" fill="#F2B300"/>
<circle cx="343" cy="285.11" r="1.35" fill="#F2B300"/>
<circle cx="342.77" cy="283.68" r="1.35" fill="#F2B300"/>
<circle cx="343.64" cy="282.9" r="1.35" fill="#F2B300"/>
<circle cx="344.49" cy="280.98" r="1.35" fill="#F2B300"/>
<circle cx="342.57" cy="278.69" r="1.35" fill="#F2B300"/>
<circle cx="344.54" cy="277.67" r="1.35" fill="#F2B300"/>
<circle cx="341.32" cy="276.38" r="1.35" fill="#F2B300"/>
<circle cx="345.22" cy="275.2" r="1.35" fill="#F2B300"/>
<circle cx="343.81" cy="273.34" r="1.35" fill="#F2B300"/>
<circle cx="343.33" cy="269.37" r="1.35" fill="#F2B300"/>
<circle cx="342.94" cy="265" r="1.35" fill="#F2B300"/>
<circle cx="343.15" cy="260.27" r="1.35" fill="#F2B300"/>
<circle cx="342.9" cy="253.5" r="1.35" fill="#F2B300"/>
<circle cx="343.26" cy="234.27" r="1.35" fill="#F2B300"/>
<circle cx="343.26" cy="231.3" r="1.35" fill="#F2B300"/>
<circle cx="342.5" cy="321.3" r="1.35" fill="#F2B300"/>
<rect x="352.2" y="295" width="13.2" height="17" fill="#B8D5EE"/>
<line x1="358.8" y1="263" x2="358.8" y2="326.8" stroke="#3AA4DD" stroke-width="1.6"/>
<line x1="352.2" y1="304.3" x2="365.4" y2="304.3" stroke="#3AA4DD" stroke-width="2.8"/>
<circle cx="358.75" cy="324.78" r="1.35" fill="#3AA4DD"/>
<circle cx="358.69" cy="319.88" r="1.35" fill="#3AA4DD"/>
<circle cx="359.81" cy="316.54" r="1.35" fill="#3AA4DD"/>
<circle cx="359.27" cy="315.26" r="1.35" fill="#3AA4DD"/>
<circle cx="358.23" cy="312.61" r="1.35" fill="#3AA4DD"/>
<circle cx="361.49" cy="312.11" r="1.35" fill="#3AA4DD"/>
<circle cx="359.05" cy="311.96" r="1.35" fill="#3AA4DD"/>
<circle cx="360.43" cy="310.9" r="1.35" fill="#3AA4DD"/>
<circle cx="358.91" cy="309.22" r="1.35" fill="#3AA4DD"/>
<circle cx="359.23" cy="309.07" r="1.35" fill="#3AA4DD"/>
<circle cx="360.06" cy="307.71" r="1.35" fill="#3AA4DD"/>
<circle cx="359.61" cy="306.79" r="1.35" fill="#3AA4DD"/>
<circle cx="358.93" cy="305.55" r="1.35" fill="#3AA4DD"/>
<circle cx="361.4" cy="305" r="1.35" fill="#3AA4DD"/>
<circle cx="359.87" cy="304.25" r="1.35" fill="#3AA4DD"/>
<circle cx="360.32" cy="303.13" r="1.35" fill="#3AA4DD"/>
<circle cx="361.61" cy="302.44" r="1.35" fill="#3AA4DD"/>
<circle cx="356.23" cy="301.28" r="1.35" fill="#3AA4DD"/>
<circle cx="358.22" cy="300.41" r="1.35" fill="#3AA4DD"/>
<circle cx="358.33" cy="299.71" r="1.35" fill="#3AA4DD"/>
<circle cx="359.95" cy="298.38" r="1.35" fill="#3AA4DD"/>
<circle cx="357.44" cy="297.5" r="1.35" fill="#3AA4DD"/>
<circle cx="360.2" cy="296.68" r="1.35" fill="#3AA4DD"/>
<circle cx="358.96" cy="295.06" r="1.35" fill="#3AA4DD"/>
<circle cx="360.54" cy="294.98" r="1.35" fill="#3AA4DD"/>
<circle cx="357.51" cy="293.71" r="1.35" fill="#3AA4DD"/>
<circle cx="359.63" cy="291.72" r="1.35" fill="#3AA4DD"/>
<circle cx="358.96" cy="283.22" r="1.35" fill="#3AA4DD"/>
<circle cx="358.87" cy="278.26" r="1.35" fill="#3AA4DD"/>
<circle cx="359.36" cy="271.39" r="1.35" fill="#3AA4DD"/>
<circle cx="358.51" cy="263" r="1.35" fill="#3AA4DD"/>
<circle cx="359.08" cy="326.8" r="1.35" fill="#3AA4DD"/>
<rect x="368" y="268.3" width="13.2" height="37.5" fill="#99A0C2"/>
<line x1="374.6" y1="242" x2="374.6" y2="324.5" stroke="#1B4A84" stroke-width="1.6"/>
<line x1="368" y1="293.3" x2="381.2" y2="293.3" stroke="#1B4A84" stroke-width="2.8"/>
<circle cx="374.98" cy="313.92" r="1.35" fill="#1B4A84"/>
<circle cx="374.35" cy="308.62" r="1.35" fill="#1B4A84"/>
<circle cx="374.15" cy="305.03" r="1.35" fill="#1B4A84"/>
<circle cx="374.43" cy="298.33" r="1.35" fill="#1B4A84"/>
<circle cx="374.32" cy="293.04" r="1.35" fill="#1B4A84"/>
<circle cx="374.3" cy="290.3" r="1.35" fill="#1B4A84"/>
<circle cx="374.22" cy="284.83" r="1.35" fill="#1B4A84"/>
<circle cx="374.87" cy="281.83" r="1.35" fill="#1B4A84"/>
<circle cx="374.29" cy="275.17" r="1.35" fill="#1B4A84"/>
<circle cx="374.58" cy="269.85" r="1.35" fill="#1B4A84"/>
<circle cx="374.76" cy="265.77" r="1.35" fill="#1B4A84"/>
<circle cx="374.43" cy="249.52" r="1.35" fill="#1B4A84"/>
<circle cx="375.46" cy="242" r="1.35" fill="#1B4A84"/>
<circle cx="375.31" cy="324.5" r="1.35" fill="#1B4A84"/>
<rect x="394.7" y="260" width="13.2" height="45.5" fill="#FADDA6"/>
<line x1="401.3" y1="238" x2="401.3" y2="317.5" stroke="#F2B300" stroke-width="1.6"/>
<line x1="394.7" y1="295.5" x2="407.9" y2="295.5" stroke="#F2BE3A" stroke-width="2.8"/>
<circle cx="401.69" cy="317.31" r="1.35" fill="#F2B300"/>
<circle cx="401.65" cy="311.86" r="1.35" fill="#F2B300"/>
<circle cx="401.75" cy="311.28" r="1.35" fill="#F2B300"/>
<circle cx="400.09" cy="308.28" r="1.35" fill="#F2B300"/>
<circle cx="402.57" cy="307.69" r="1.35" fill="#F2B300"/>
<circle cx="400.3" cy="305.94" r="1.35" fill="#F2B300"/>
<circle cx="399.8" cy="305.7" r="1.35" fill="#F2B300"/>
<circle cx="402.5" cy="304.99" r="1.35" fill="#F2B300"/>
<circle cx="399.79" cy="302.58" r="1.35" fill="#F2B300"/>
<circle cx="402.57" cy="299.21" r="1.35" fill="#F2B300"/>
<circle cx="403" cy="298.64" r="1.35" fill="#F2B300"/>
<circle cx="402.53" cy="295.52" r="1.35" fill="#F2B300"/>
<circle cx="403.02" cy="293.22" r="1.35" fill="#F2B300"/>
<circle cx="402.78" cy="290.79" r="1.35" fill="#F2B300"/>
<circle cx="402.14" cy="289.91" r="1.35" fill="#F2B300"/>
<circle cx="402.35" cy="287.02" r="1.35" fill="#F2B300"/>
<circle cx="402.97" cy="285.05" r="1.35" fill="#F2B300"/>
<circle cx="400.27" cy="282.63" r="1.35" fill="#F2B300"/>
<circle cx="399.73" cy="281.16" r="1.35" fill="#F2B300"/>
<circle cx="399.38" cy="278.43" r="1.35" fill="#F2B300"/>
<circle cx="399.75" cy="276.32" r="1.35" fill="#F2B300"/>
<circle cx="401.29" cy="274.1" r="1.35" fill="#F2B300"/>
<circle cx="402.88" cy="271.83" r="1.35" fill="#F2B300"/>
<circle cx="402.79" cy="270.82" r="1.35" fill="#F2B300"/>
<circle cx="401.57" cy="267.65" r="1.35" fill="#F2B300"/>
<circle cx="402.78" cy="265.06" r="1.35" fill="#F2B300"/>
<circle cx="400.95" cy="263.52" r="1.35" fill="#F2B300"/>
<circle cx="399.45" cy="260.09" r="1.35" fill="#F2B300"/>
<circle cx="401.88" cy="259.89" r="1.35" fill="#F2B300"/>
<circle cx="401.75" cy="259.68" r="1.35" fill="#F2B300"/>
<circle cx="402.4" cy="257.33" r="1.35" fill="#F2B300"/>
<circle cx="402.19" cy="255.71" r="1.35" fill="#F2B300"/>
<circle cx="401.28" cy="251.63" r="1.35" fill="#F2B300"/>
<circle cx="400.74" cy="244.91" r="1.35" fill="#F2B300"/>
<circle cx="401.45" cy="239.9" r="1.35" fill="#F2B300"/>
<circle cx="400.98" cy="238" r="1.35" fill="#F2B300"/>
<circle cx="402.02" cy="317.5" r="1.35" fill="#F2B300"/>
<rect x="410.5" y="292.5" width="13.2" height="23.8" fill="#B8D5EE"/>
<line x1="417.1" y1="250.8" x2="417.1" y2="328" stroke="#3AA4DD" stroke-width="1.6"/>
<line x1="410.5" y1="307" x2="423.7" y2="307" stroke="#3AA4DD" stroke-width="2.8"/>
<circle cx="417.07" cy="326.62" r="1.35" fill="#3AA4DD"/>
<circle cx="417.53" cy="322.81" r="1.35" fill="#3AA4DD"/>
<circle cx="416.95" cy="320.97" r="1.35" fill="#3AA4DD"/>
<circle cx="417.3" cy="318.46" r="1.35" fill="#3AA4DD"/>
<circle cx="416" cy="316.75" r="1.35" fill="#3AA4DD"/>
<circle cx="416.54" cy="316.31" r="1.35" fill="#3AA4DD"/>
<circle cx="415.78" cy="315.63" r="1.35" fill="#3AA4DD"/>
<circle cx="419.85" cy="314.31" r="1.35" fill="#3AA4DD"/>
<circle cx="418.79" cy="312.79" r="1.35" fill="#3AA4DD"/>
<circle cx="416.04" cy="311.9" r="1.35" fill="#3AA4DD"/>
<circle cx="417.6" cy="310.62" r="1.35" fill="#3AA4DD"/>
<circle cx="418.75" cy="308.85" r="1.35" fill="#3AA4DD"/>
<circle cx="418.39" cy="308.31" r="1.35" fill="#3AA4DD"/>
<circle cx="417.36" cy="305.87" r="1.35" fill="#3AA4DD"/>
<circle cx="415.94" cy="305.66" r="1.35" fill="#3AA4DD"/>
<circle cx="415.3" cy="304.39" r="1.35" fill="#3AA4DD"/>
<circle cx="417.73" cy="301.86" r="1.35" fill="#3AA4DD"/>
<circle cx="418.78" cy="300.89" r="1.35" fill="#3AA4DD"/>
<circle cx="417.75" cy="299.23" r="1.35" fill="#3AA4DD"/>
<circle cx="417.84" cy="298.3" r="1.35" fill="#3AA4DD"/>
<circle cx="417.66" cy="296.87" r="1.35" fill="#3AA4DD"/>
<circle cx="415.43" cy="295.57" r="1.35" fill="#3AA4DD"/>
<circle cx="416.86" cy="294.26" r="1.35" fill="#3AA4DD"/>
<circle cx="414.79" cy="292.81" r="1.35" fill="#3AA4DD"/>
<circle cx="414.42" cy="292.48" r="1.35" fill="#3AA4DD"/>
<circle cx="418.46" cy="289.64" r="1.35" fill="#3AA4DD"/>
<circle cx="416.91" cy="285.56" r="1.35" fill="#3AA4DD"/>
<circle cx="417.44" cy="277.03" r="1.35" fill="#3AA4DD"/>
<circle cx="416.81" cy="269.68" r="1.35" fill="#3AA4DD"/>
<circle cx="417.01" cy="260.73" r="1.35" fill="#3AA4DD"/>
<circle cx="416.74" cy="250.8" r="1.35" fill="#3AA4DD"/>
<circle cx="416.96" cy="328" r="1.35" fill="#3AA4DD"/>
<rect x="426.3" y="286.3" width="13.2" height="30" fill="#99A0C2"/>
<line x1="432.9" y1="263.3" x2="432.9" y2="328" stroke="#1B4A84" stroke-width="1.6"/>
<line x1="426.3" y1="301.8" x2="439.5" y2="301.8" stroke="#1B4A84" stroke-width="2.8"/>
<circle cx="433.42" cy="321.7" r="1.35" fill="#1B4A84"/>
<circle cx="432.98" cy="318.91" r="1.35" fill="#1B4A84"/>
<circle cx="432.44" cy="316.1" r="1.35" fill="#1B4A84"/>
<circle cx="432.99" cy="307.25" r="1.35" fill="#1B4A84"/>
<circle cx="432.84" cy="301.71" r="1.35" fill="#1B4A84"/>
<circle cx="432.76" cy="301.23" r="1.35" fill="#1B4A84"/>
<circle cx="433.43" cy="293.34" r="1.35" fill="#1B4A84"/>
<circle cx="432.87" cy="286.4" r="1.35" fill="#1B4A84"/>
<circle cx="432.42" cy="285.59" r="1.35" fill="#1B4A84"/>
<circle cx="432.55" cy="271.35" r="1.35" fill="#1B4A84"/>
<circle cx="432.2" cy="263.3" r="1.35" fill="#1B4A84"/>
<circle cx="431.93" cy="328" r="1.35" fill="#1B4A84"/>
<rect x="453" y="260.5" width="13.2" height="45" fill="#FADDA6"/>
<line x1="459.6" y1="228" x2="459.6" y2="317.5" stroke="#F2B300" stroke-width="1.6"/>
<line x1="453" y1="295.5" x2="466.2" y2="295.5" stroke="#F2BE3A" stroke-width="2.8"/>
<circle cx="459.82" cy="317.48" r="1.35" fill="#F2B300"/>
<circle cx="460.16" cy="313.96" r="1.35" fill="#F2B300"/>
<circle cx="460.1" cy="311.41" r="1.35" fill="#F2B300"/>
<circle cx="458.58" cy="309.17" r="1.35" fill="#F2B300"/>
<circle cx="458.72" cy="306.77" r="1.35" fill="#F2B300"/>
<circle cx="458.33" cy="305.89" r="1.35" fill="#F2B300"/>
<circle cx="460.76" cy="305.72" r="1.35" fill="#F2B300"/>
<circle cx="461.17" cy="303.97" r="1.35" fill="#F2B300"/>
<circle cx="457.77" cy="301.79" r="1.35" fill="#F2B300"/>
<circle cx="460.52" cy="299.87" r="1.35" fill="#F2B300"/>
<circle cx="461.51" cy="298.08" r="1.35" fill="#F2B300"/>
<circle cx="461.65" cy="296.38" r="1.35" fill="#F2B300"/>
<circle cx="457.45" cy="293.25" r="1.35" fill="#F2B300"/>
<circle cx="460.26" cy="292.61" r="1.35" fill="#F2B300"/>
<circle cx="457.75" cy="288.75" r="1.35" fill="#F2B300"/>
<circle cx="460.61" cy="287.69" r="1.35" fill="#F2B300"/>
<circle cx="461.19" cy="285.86" r="1.35" fill="#F2B300"/>
<circle cx="457.66" cy="283.03" r="1.35" fill="#F2B300"/>
<circle cx="459.93" cy="281.14" r="1.35" fill="#F2B300"/>
<circle cx="460.38" cy="278.85" r="1.35" fill="#F2B300"/>
<circle cx="460.91" cy="277.33" r="1.35" fill="#F2B300"/>
<circle cx="460.24" cy="274.72" r="1.35" fill="#F2B300"/>
<circle cx="459.24" cy="272.01" r="1.35" fill="#F2B300"/>
<circle cx="460.86" cy="270.39" r="1.35" fill="#F2B300"/>
<circle cx="460.85" cy="267.05" r="1.35" fill="#F2B300"/>
<circle cx="458.68" cy="265.71" r="1.35" fill="#F2B300"/>
<circle cx="461.69" cy="264.66" r="1.35" fill="#F2B300"/>
<circle cx="461.04" cy="261.14" r="1.35" fill="#F2B300"/>
<circle cx="460.06" cy="260.46" r="1.35" fill="#F2B300"/>
<circle cx="460.58" cy="258.49" r="1.35" fill="#F2B300"/>
<circle cx="459.2" cy="256.82" r="1.35" fill="#F2B300"/>
<circle cx="460.07" cy="253.74" r="1.35" fill="#F2B300"/>
<circle cx="459.82" cy="248.93" r="1.35" fill="#F2B300"/>
<circle cx="460.08" cy="240.59" r="1.35" fill="#F2B300"/>
<circle cx="459.34" cy="229.93" r="1.35" fill="#F2B300"/>
<circle cx="458.6" cy="228" r="1.35" fill="#F2B300"/>
<circle cx="459.13" cy="317.5" r="1.35" fill="#F2B300"/>
<rect x="468.8" y="295.5" width="13.2" height="17.5" fill="#B8D5EE"/>
<line x1="475.4" y1="265.8" x2="475.4" y2="327.5" stroke="#3AA4DD" stroke-width="1.6"/>
<line x1="468.8" y1="304.5" x2="482" y2="304.5" stroke="#3AA4DD" stroke-width="2.8"/>
<circle cx="475.5" cy="325.53" r="1.35" fill="#3AA4DD"/>
<circle cx="475.95" cy="320.05" r="1.35" fill="#3AA4DD"/>
<circle cx="475.95" cy="319.31" r="1.35" fill="#3AA4DD"/>
<circle cx="476.85" cy="314.93" r="1.35" fill="#3AA4DD"/>
<circle cx="474.29" cy="313.82" r="1.35" fill="#3AA4DD"/>
<circle cx="477.18" cy="313.01" r="1.35" fill="#3AA4DD"/>
<circle cx="477.8" cy="312.33" r="1.35" fill="#3AA4DD"/>
<circle cx="472.99" cy="311.69" r="1.35" fill="#3AA4DD"/>
<circle cx="477.12" cy="310.52" r="1.35" fill="#3AA4DD"/>
<circle cx="476.85" cy="309.89" r="1.35" fill="#3AA4DD"/>
<circle cx="473.86" cy="308.21" r="1.35" fill="#3AA4DD"/>
<circle cx="476.43" cy="307.55" r="1.35" fill="#3AA4DD"/>
<circle cx="473.7" cy="306.71" r="1.35" fill="#3AA4DD"/>
<circle cx="476.86" cy="305.95" r="1.35" fill="#3AA4DD"/>
<circle cx="475.17" cy="304.45" r="1.35" fill="#3AA4DD"/>
<circle cx="477.18" cy="304.16" r="1.35" fill="#3AA4DD"/>
<circle cx="473.85" cy="302.53" r="1.35" fill="#3AA4DD"/>
<circle cx="477.7" cy="301.74" r="1.35" fill="#3AA4DD"/>
<circle cx="475.53" cy="300.47" r="1.35" fill="#3AA4DD"/>
<circle cx="475.92" cy="299.9" r="1.35" fill="#3AA4DD"/>
<circle cx="473.62" cy="299.2" r="1.35" fill="#3AA4DD"/>
<circle cx="476.57" cy="298.24" r="1.35" fill="#3AA4DD"/>
<circle cx="475.77" cy="297.09" r="1.35" fill="#3AA4DD"/>
<circle cx="475.5" cy="296.08" r="1.35" fill="#3AA4DD"/>
<circle cx="472.76" cy="295.49" r="1.35" fill="#3AA4DD"/>
<circle cx="474.97" cy="292.86" r="1.35" fill="#3AA4DD"/>
<circle cx="475.83" cy="292.53" r="1.35" fill="#3AA4DD"/>
<circle cx="474.99" cy="284.71" r="1.35" fill="#3AA4DD"/>
<circle cx="475.21" cy="278.97" r="1.35" fill="#3AA4DD"/>
<circle cx="474.82" cy="270.78" r="1.35" fill="#3AA4DD"/>
<circle cx="474.47" cy="265.8" r="1.35" fill="#3AA4DD"/>
<circle cx="476.38" cy="327.5" r="1.35" fill="#3AA4DD"/>
<rect x="484.6" y="306.3" width="13.2" height="15.7" fill="#99A0C2"/>
<line x1="491.2" y1="263.3" x2="491.2" y2="327.5" stroke="#1B4A84" stroke-width="1.6"/>
<line x1="484.6" y1="316.8" x2="497.8" y2="316.8" stroke="#1B4A84" stroke-width="2.8"/>
<circle cx="491.18" cy="323.16" r="1.35" fill="#1B4A84"/>
<circle cx="490.8" cy="322" r="1.35" fill="#1B4A84"/>
<circle cx="491.07" cy="318.14" r="1.35" fill="#1B4A84"/>
<circle cx="491.65" cy="314.32" r="1.35" fill="#1B4A84"/>
<circle cx="491.99" cy="311.47" r="1.35" fill="#1B4A84"/>
<circle cx="490.42" cy="310.05" r="1.35" fill="#1B4A84"/>
<circle cx="490.66" cy="306.95" r="1.35" fill="#1B4A84"/>
<circle cx="490.66" cy="299.68" r="1.35" fill="#1B4A84"/>
<circle cx="491.31" cy="263.3" r="1.35" fill="#1B4A84"/>
<circle cx="491.94" cy="327.5" r="1.35" fill="#1B4A84"/>
</g>
<line x1="323.8" y1="224.3" x2="323.8" y2="332.2" class="ax"/>
<line x1="323.15" y1="332.2" x2="510.6" y2="332.2" class="ax"/>
<line x1="358.8" y1="332.2" x2="358.8" y2="336.4" class="ax"/>
<text x="358.8" y="351.2" class="xl">day −5</text>
<line x1="417.1" y1="332.2" x2="417.1" y2="336.4" class="ax"/>
<text x="417.1" y="351.2" class="xl">day 0</text>
<line x1="475.4" y1="332.2" x2="475.4" y2="336.4" class="ax"/>
<text x="475.4" y="351.2" class="xl">day +3<tspan font-size="9.5" dy="-2" dx="0.3">*</tspan></text>
<rect x="333.2" y="361.8" width="9" height="6.4" fill="#FADDA6" stroke="#F2B300" stroke-opacity="0.25" stroke-width="0.6"/><line x1="337.7" y1="358.8" x2="337.7" y2="361.8" stroke="#F2B300" stroke-width="1.3"/><line x1="337.7" y1="368.2" x2="337.7" y2="371.4" stroke="#F2B300" stroke-width="1.3"/><line x1="333.2" y1="365" x2="342.2" y2="365" stroke="#F2BE3A" stroke-width="1.8"/><circle cx="337.7" cy="365" r="1.4" fill="#F2B300"/>
<text x="346.8" y="368.9" class="lg">None</text>
<rect x="382.3" y="361.8" width="9" height="6.4" fill="#B8D5EE" stroke="#3AA4DD" stroke-opacity="0.25" stroke-width="0.6"/><line x1="386.8" y1="358.8" x2="386.8" y2="361.8" stroke="#3AA4DD" stroke-width="1.3"/><line x1="386.8" y1="368.2" x2="386.8" y2="371.4" stroke="#3AA4DD" stroke-width="1.3"/><line x1="382.3" y1="365" x2="391.3" y2="365" stroke="#3AA4DD" stroke-width="1.8"/><circle cx="386.8" cy="365" r="1.4" fill="#3AA4DD"/>
<text x="395.3" y="368.9" class="lg">Mild</text>
<rect x="425.2" y="361.8" width="9" height="6.4" fill="#99A0C2" stroke="#1B4A84" stroke-opacity="0.25" stroke-width="0.6"/><line x1="429.7" y1="358.8" x2="429.7" y2="361.8" stroke="#1B4A84" stroke-width="1.3"/><line x1="429.7" y1="368.2" x2="429.7" y2="371.4" stroke="#1B4A84" stroke-width="1.3"/><line x1="425.2" y1="365" x2="434.2" y2="365" stroke="#1B4A84" stroke-width="1.8"/><circle cx="429.7" cy="365" r="1.4" fill="#1B4A84"/>
<text x="439.1" y="368.9" class="lg">Severe CRS</text>
<text x="7.7" y="408.9" class="lt">E</text>
<text transform="translate(19.8,471.75) rotate(-90) scale(0.71,1)" class="yt">LDH</text>
<line x1="60.3" y1="521.2" x2="64.5" y2="521.2" class="ax"/>
<text x="55.2" y="525.3" class="tk">0</text>
<line x1="60.3" y1="488.1" x2="64.5" y2="488.1" class="ax"/>
<text x="55.2" y="492.2" class="tk">500</text>
<line x1="60.3" y1="455.1" x2="64.5" y2="455.1" class="ax"/>
<text x="55.2" y="459.2" class="tk">1000</text>
<line x1="60.3" y1="422" x2="64.5" y2="422" class="ax"/>
<text x="55.2" y="426.1" class="tk">1500</text>
<clipPath id="cE"><rect x="64.5" y="417.8" width="186.8" height="107.9"/></clipPath>
<g clip-path="url(#cE)">
<rect x="77.1" y="500.5" width="13.2" height="7" fill="#ECECEE"/>
<line x1="83.7" y1="415.8" x2="83.7" y2="516" stroke="#CACACE" stroke-width="1.6"/>
<line x1="77.1" y1="504.5" x2="90.3" y2="504.5" stroke="#C8C8CC" stroke-width="2.8"/>
<circle cx="84.64" cy="515.31" r="1.35" fill="#C8C8CC"/>
<circle cx="82.34" cy="513.3" r="1.35" fill="#C8C8CC"/>
<circle cx="83.32" cy="512.46" r="1.35" fill="#C8C8CC"/>
<circle cx="85.62" cy="511.86" r="1.35" fill="#C8C8CC"/>
<circle cx="84.04" cy="510.69" r="1.35" fill="#C8C8CC"/>
<circle cx="86.75" cy="509.52" r="1.35" fill="#C8C8CC"/>
<circle cx="82.88" cy="508.82" r="1.35" fill="#C8C8CC"/>
<circle cx="80.85" cy="508.39" r="1.35" fill="#C8C8CC"/>
<circle cx="88.34" cy="507.79" r="1.35" fill="#C8C8CC"/>
<circle cx="79.29" cy="507.72" r="1.35" fill="#C8C8CC"/>
<circle cx="82.23" cy="507.54" r="1.35" fill="#C8C8CC"/>
<circle cx="87.75" cy="507.33" r="1.35" fill="#C8C8CC"/>
<circle cx="79.17" cy="507.16" r="1.35" fill="#C8C8CC"/>
<circle cx="85.8" cy="506.98" r="1.35" fill="#C8C8CC"/>
<circle cx="88.55" cy="506.82" r="1.35" fill="#C8C8CC"/>
<circle cx="80.15" cy="506.74" r="1.35" fill="#C8C8CC"/>
<circle cx="88.09" cy="506.42" r="1.35" fill="#C8C8CC"/>
<circle cx="81.69" cy="506.25" r="1.35" fill="#C8C8CC"/>
<circle cx="86.28" cy="506.08" r="1.35" fill="#C8C8CC"/>
<circle cx="81.94" cy="505.98" r="1.35" fill="#C8C8CC"/>
<circle cx="79.94" cy="505.77" r="1.35" fill="#C8C8CC"/>
<circle cx="80.39" cy="505.54" r="1.35" fill="#C8C8CC"/>
<circle cx="80.13" cy="505.4" r="1.35" fill="#C8C8CC"/>
<circle cx="78.83" cy="505.13" r="1.35" fill="#C8C8CC"/>
<circle cx="80.65" cy="504.93" r="1.35" fill="#C8C8CC"/>
<circle cx="87.98" cy="504.87" r="1.35" fill="#C8C8CC"/>
<circle cx="88.04" cy="504.65" r="1.35" fill="#C8C8CC"/>
<circle cx="87.59" cy="504.34" r="1.35" fill="#C8C8CC"/>
<circle cx="83.17" cy="504.29" r="1.35" fill="#C8C8CC"/>
<circle cx="87.99" cy="504.11" r="1.35" fill="#C8C8CC"/>
<circle cx="84.98" cy="503.79" r="1.35" fill="#C8C8CC"/>
<circle cx="82.1" cy="503.67" r="1.35" fill="#C8C8CC"/>
<circle cx="83.48" cy="503.42" r="1.35" fill="#C8C8CC"/>
<circle cx="80.13" cy="503.26" r="1.35" fill="#C8C8CC"/>
<circle cx="79.27" cy="503.15" r="1.35" fill="#C8C8CC"/>
<circle cx="84.23" cy="502.87" r="1.35" fill="#C8C8CC"/>
<circle cx="87.41" cy="502.79" r="1.35" fill="#C8C8CC"/>
<circle cx="82.82" cy="502.58" r="1.35" fill="#C8C8CC"/>
<circle cx="81.41" cy="502.42" r="1.35" fill="#C8C8CC"/>
<circle cx="82.05" cy="502.1" r="1.35" fill="#C8C8CC"/>
<circle cx="83.61" cy="502.04" r="1.35" fill="#C8C8CC"/>
<circle cx="87.73" cy="501.83" r="1.35" fill="#C8C8CC"/>
<circle cx="88.49" cy="501.68" r="1.35" fill="#C8C8CC"/>
<circle cx="87.65" cy="501.5" r="1.35" fill="#C8C8CC"/>
<circle cx="80.81" cy="501.2" r="1.35" fill="#C8C8CC"/>
<circle cx="81.56" cy="501.05" r="1.35" fill="#C8C8CC"/>
<circle cx="80.72" cy="500.9" r="1.35" fill="#C8C8CC"/>
<circle cx="88.61" cy="500.69" r="1.35" fill="#C8C8CC"/>
<circle cx="87.76" cy="500.27" r="1.35" fill="#C8C8CC"/>
<circle cx="81.73" cy="500.18" r="1.35" fill="#C8C8CC"/>
<circle cx="82.18" cy="495.14" r="1.35" fill="#C8C8CC"/>
<circle cx="83.42" cy="490.42" r="1.35" fill="#C8C8CC"/>
<circle cx="83.12" cy="480.15" r="1.35" fill="#C8C8CC"/>
<circle cx="83.51" cy="471.16" r="1.35" fill="#C8C8CC"/>
<circle cx="83.1" cy="467.03" r="1.35" fill="#C8C8CC"/>
<circle cx="84.36" cy="516" r="1.35" fill="#C8C8CC"/>
<circle cx="83.81" cy="422.5" r="1.35" fill="#C8C8CC"/>
<circle cx="82.44" cy="445" r="1.35" fill="#C8C8CC"/>
<rect x="92.9" y="480.8" width="13.2" height="23.7" fill="#F8D9D1"/>
<line x1="99.5" y1="415.8" x2="99.5" y2="512.5" stroke="#E29C8C" stroke-width="1.6"/>
<line x1="92.9" y1="502.5" x2="106.1" y2="502.5" stroke="#E9A08E" stroke-width="2.8"/>
<circle cx="99.99" cy="507.75" r="1.35" fill="#DC9282"/>
<circle cx="99.59" cy="504.38" r="1.35" fill="#DC9282"/>
<circle cx="99.12" cy="498.32" r="1.35" fill="#DC9282"/>
<circle cx="99.75" cy="487.58" r="1.35" fill="#DC9282"/>
<circle cx="99" cy="484.77" r="1.35" fill="#DC9282"/>
<circle cx="99.63" cy="480.8" r="1.35" fill="#DC9282"/>
<circle cx="99.49" cy="512.5" r="1.35" fill="#DC9282"/>
<circle cx="98.6" cy="462.5" r="1.35" fill="#DC9282"/>
<circle cx="98.32" cy="474.5" r="1.35" fill="#DC9282"/>
<rect x="108.7" y="495" width="13.2" height="9.5" fill="#E99A98"/>
<line x1="115.3" y1="476.3" x2="115.3" y2="511.3" stroke="#C4102C" stroke-width="1.6"/>
<line x1="108.7" y1="499.5" x2="121.9" y2="499.5" stroke="#C4102C" stroke-width="2.8"/>
<circle cx="115.66" cy="507.46" r="1.35" fill="#C4102C"/>
<circle cx="115.56" cy="504.48" r="1.35" fill="#C4102C"/>
<circle cx="113.93" cy="503.79" r="1.35" fill="#C4102C"/>
<circle cx="115.01" cy="501.1" r="1.35" fill="#C4102C"/>
<circle cx="113.9" cy="499.36" r="1.35" fill="#C4102C"/>
<circle cx="114.78" cy="497.44" r="1.35" fill="#C4102C"/>
<circle cx="116.45" cy="495.63" r="1.35" fill="#C4102C"/>
<circle cx="113.87" cy="494.66" r="1.35" fill="#C4102C"/>
<circle cx="115.27" cy="478.29" r="1.35" fill="#C4102C"/>
<circle cx="116.04" cy="476.3" r="1.35" fill="#C4102C"/>
<circle cx="114.83" cy="511.3" r="1.35" fill="#C4102C"/>
<rect x="135.6" y="499" width="13.2" height="9.7" fill="#ECECEE"/>
<line x1="142.2" y1="415.8" x2="142.2" y2="515" stroke="#CACACE" stroke-width="1.6"/>
<line x1="135.6" y1="504" x2="148.8" y2="504" stroke="#C8C8CC" stroke-width="2.8"/>
<circle cx="143.18" cy="514.79" r="1.35" fill="#C8C8CC"/>
<circle cx="140.92" cy="513.53" r="1.35" fill="#C8C8CC"/>
<circle cx="142.64" cy="512.58" r="1.35" fill="#C8C8CC"/>
<circle cx="142.3" cy="512.03" r="1.35" fill="#C8C8CC"/>
<circle cx="142.3" cy="510.94" r="1.35" fill="#C8C8CC"/>
<circle cx="143.7" cy="510.5" r="1.35" fill="#C8C8CC"/>
<circle cx="145.25" cy="509.61" r="1.35" fill="#C8C8CC"/>
<circle cx="144.03" cy="509.4" r="1.35" fill="#C8C8CC"/>
<circle cx="144.54" cy="509.06" r="1.35" fill="#C8C8CC"/>
<circle cx="145.78" cy="508.9" r="1.35" fill="#C8C8CC"/>
<circle cx="142.15" cy="508.7" r="1.35" fill="#C8C8CC"/>
<circle cx="142.51" cy="508.57" r="1.35" fill="#C8C8CC"/>
<circle cx="137.41" cy="508.3" r="1.35" fill="#C8C8CC"/>
<circle cx="139.44" cy="507.93" r="1.35" fill="#C8C8CC"/>
<circle cx="138.23" cy="507.87" r="1.35" fill="#C8C8CC"/>
<circle cx="145.37" cy="507.6" r="1.35" fill="#C8C8CC"/>
<circle cx="138.16" cy="507.4" r="1.35" fill="#C8C8CC"/>
<circle cx="139.15" cy="506.96" r="1.35" fill="#C8C8CC"/>
<circle cx="143.19" cy="506.88" r="1.35" fill="#C8C8CC"/>
<circle cx="142.43" cy="506.48" r="1.35" fill="#C8C8CC"/>
<circle cx="138.23" cy="506.18" r="1.35" fill="#C8C8CC"/>
<circle cx="144.37" cy="505.88" r="1.35" fill="#C8C8CC"/>
<circle cx="138.43" cy="505.84" r="1.35" fill="#C8C8CC"/>
<circle cx="142.21" cy="505.46" r="1.35" fill="#C8C8CC"/>
<circle cx="138.42" cy="505.26" r="1.35" fill="#C8C8CC"/>
<circle cx="138.57" cy="504.96" r="1.35" fill="#C8C8CC"/>
<circle cx="145.81" cy="504.66" r="1.35" fill="#C8C8CC"/>
<circle cx="142.93" cy="504.51" r="1.35" fill="#C8C8CC"/>
<circle cx="138.84" cy="504.1" r="1.35" fill="#C8C8CC"/>
<circle cx="146.58" cy="503.82" r="1.35" fill="#C8C8CC"/>
<circle cx="141.4" cy="503.67" r="1.35" fill="#C8C8CC"/>
<circle cx="142.46" cy="503.3" r="1.35" fill="#C8C8CC"/>
<circle cx="146.61" cy="503.15" r="1.35" fill="#C8C8CC"/>
<circle cx="140.59" cy="502.79" r="1.35" fill="#C8C8CC"/>
<circle cx="140.55" cy="502.67" r="1.35" fill="#C8C8CC"/>
<circle cx="147.01" cy="502.36" r="1.35" fill="#C8C8CC"/>
<circle cx="146.33" cy="502.01" r="1.35" fill="#C8C8CC"/>
<circle cx="145.68" cy="501.75" r="1.35" fill="#C8C8CC"/>
<circle cx="142.37" cy="501.68" r="1.35" fill="#C8C8CC"/>
<circle cx="146.54" cy="501.19" r="1.35" fill="#C8C8CC"/>
<circle cx="141.42" cy="501.11" r="1.35" fill="#C8C8CC"/>
<circle cx="140.84" cy="500.76" r="1.35" fill="#C8C8CC"/>
<circle cx="137.89" cy="500.52" r="1.35" fill="#C8C8CC"/>
<circle cx="142.25" cy="500.29" r="1.35" fill="#C8C8CC"/>
<circle cx="138.59" cy="500.14" r="1.35" fill="#C8C8CC"/>
<circle cx="144.97" cy="499.63" r="1.35" fill="#C8C8CC"/>
<circle cx="143.53" cy="499.38" r="1.35" fill="#C8C8CC"/>
<circle cx="146.04" cy="499.15" r="1.35" fill="#C8C8CC"/>
<circle cx="137.66" cy="498.88" r="1.35" fill="#C8C8CC"/>
<circle cx="140.28" cy="498.01" r="1.35" fill="#C8C8CC"/>
<circle cx="141.13" cy="495.24" r="1.35" fill="#C8C8CC"/>
<circle cx="143.12" cy="491.38" r="1.35" fill="#C8C8CC"/>
<circle cx="141.9" cy="484.41" r="1.35" fill="#C8C8CC"/>
<circle cx="142.12" cy="476.69" r="1.35" fill="#C8C8CC"/>
<circle cx="141.95" cy="460.64" r="1.35" fill="#C8C8CC"/>
<circle cx="141.81" cy="515" r="1.35" fill="#C8C8CC"/>
<circle cx="142.79" cy="436.8" r="1.35" fill="#C8C8CC"/>
<circle cx="140.68" cy="470" r="1.35" fill="#C8C8CC"/>
<rect x="151.4" y="493.3" width="13.2" height="14.6" fill="#F8D9D1"/>
<line x1="158" y1="463.7" x2="158" y2="510.5" stroke="#E29C8C" stroke-width="1.6"/>
<line x1="151.4" y1="506" x2="164.6" y2="506" stroke="#E9A08E" stroke-width="2.8"/>
<circle cx="158.55" cy="508.56" r="1.35" fill="#DC9282"/>
<circle cx="157.68" cy="506.63" r="1.35" fill="#DC9282"/>
<circle cx="158.05" cy="502.76" r="1.35" fill="#DC9282"/>
<circle cx="157.48" cy="500" r="1.35" fill="#DC9282"/>
<circle cx="157.72" cy="496.01" r="1.35" fill="#DC9282"/>
<circle cx="157.75" cy="486.7" r="1.35" fill="#DC9282"/>
<circle cx="157.49" cy="463.7" r="1.35" fill="#DC9282"/>
<circle cx="157.18" cy="510.5" r="1.35" fill="#DC9282"/>
<rect x="167.2" y="496" width="13.2" height="9.2" fill="#E99A98"/>
<line x1="173.8" y1="480.4" x2="173.8" y2="514" stroke="#C4102C" stroke-width="1.6"/>
<line x1="167.2" y1="503.3" x2="180.4" y2="503.3" stroke="#C4102C" stroke-width="2.8"/>
<circle cx="174.27" cy="509.47" r="1.35" fill="#C4102C"/>
<circle cx="174.02" cy="505.3" r="1.35" fill="#C4102C"/>
<circle cx="172.83" cy="503.75" r="1.35" fill="#C4102C"/>
<circle cx="173.67" cy="501.95" r="1.35" fill="#C4102C"/>
<circle cx="174.17" cy="500.52" r="1.35" fill="#C4102C"/>
<circle cx="173.18" cy="498.95" r="1.35" fill="#C4102C"/>
<circle cx="172.89" cy="497.63" r="1.35" fill="#C4102C"/>
<circle cx="173.44" cy="495.67" r="1.35" fill="#C4102C"/>
<circle cx="173.21" cy="487.23" r="1.35" fill="#C4102C"/>
<circle cx="173.51" cy="480.4" r="1.35" fill="#C4102C"/>
<circle cx="174.52" cy="514" r="1.35" fill="#C4102C"/>
<rect x="194.2" y="502" width="13.2" height="6.7" fill="#ECECEE"/>
<line x1="200.8" y1="442.2" x2="200.8" y2="515" stroke="#CACACE" stroke-width="1.6"/>
<line x1="194.2" y1="505" x2="207.4" y2="505" stroke="#C8C8CC" stroke-width="2.8"/>
<circle cx="200.97" cy="514.7" r="1.35" fill="#C8C8CC"/>
<circle cx="199.94" cy="513.26" r="1.35" fill="#C8C8CC"/>
<circle cx="199.7" cy="511.8" r="1.35" fill="#C8C8CC"/>
<circle cx="198.71" cy="511.14" r="1.35" fill="#C8C8CC"/>
<circle cx="203.18" cy="510.92" r="1.35" fill="#C8C8CC"/>
<circle cx="197.43" cy="510.01" r="1.35" fill="#C8C8CC"/>
<circle cx="200.29" cy="509.52" r="1.35" fill="#C8C8CC"/>
<circle cx="197.14" cy="509.02" r="1.35" fill="#C8C8CC"/>
<circle cx="205.21" cy="508.9" r="1.35" fill="#C8C8CC"/>
<circle cx="197.35" cy="508.7" r="1.35" fill="#C8C8CC"/>
<circle cx="199.32" cy="508.62" r="1.35" fill="#C8C8CC"/>
<circle cx="201.96" cy="508.33" r="1.35" fill="#C8C8CC"/>
<circle cx="204.01" cy="508.06" r="1.35" fill="#C8C8CC"/>
<circle cx="203.19" cy="507.91" r="1.35" fill="#C8C8CC"/>
<circle cx="203.4" cy="507.64" r="1.35" fill="#C8C8CC"/>
<circle cx="203.65" cy="507.48" r="1.35" fill="#C8C8CC"/>
<circle cx="204.95" cy="507.2" r="1.35" fill="#C8C8CC"/>
<circle cx="204.51" cy="507.11" r="1.35" fill="#C8C8CC"/>
<circle cx="203.46" cy="506.91" r="1.35" fill="#C8C8CC"/>
<circle cx="200.78" cy="506.56" r="1.35" fill="#C8C8CC"/>
<circle cx="201.52" cy="506.25" r="1.35" fill="#C8C8CC"/>
<circle cx="203.64" cy="506.15" r="1.35" fill="#C8C8CC"/>
<circle cx="201.87" cy="505.83" r="1.35" fill="#C8C8CC"/>
<circle cx="200.32" cy="505.71" r="1.35" fill="#C8C8CC"/>
<circle cx="203.03" cy="505.47" r="1.35" fill="#C8C8CC"/>
<circle cx="199.71" cy="505.28" r="1.35" fill="#C8C8CC"/>
<circle cx="199.65" cy="505" r="1.35" fill="#C8C8CC"/>
<circle cx="203.67" cy="504.83" r="1.35" fill="#C8C8CC"/>
<circle cx="200.8" cy="504.49" r="1.35" fill="#C8C8CC"/>
<circle cx="197.64" cy="504.36" r="1.35" fill="#C8C8CC"/>
<circle cx="197.25" cy="504.17" r="1.35" fill="#C8C8CC"/>
<circle cx="201.62" cy="503.88" r="1.35" fill="#C8C8CC"/>
<circle cx="205" cy="503.77" r="1.35" fill="#C8C8CC"/>
<circle cx="204.23" cy="503.49" r="1.35" fill="#C8C8CC"/>
<circle cx="205.39" cy="503.15" r="1.35" fill="#C8C8CC"/>
<circle cx="200.06" cy="503.07" r="1.35" fill="#C8C8CC"/>
<circle cx="195.91" cy="502.69" r="1.35" fill="#C8C8CC"/>
<circle cx="201.45" cy="502.66" r="1.35" fill="#C8C8CC"/>
<circle cx="205" cy="502.34" r="1.35" fill="#C8C8CC"/>
<circle cx="201.18" cy="502.05" r="1.35" fill="#C8C8CC"/>
<circle cx="200.96" cy="501.62" r="1.35" fill="#C8C8CC"/>
<circle cx="202.33" cy="501.06" r="1.35" fill="#C8C8CC"/>
<circle cx="199.95" cy="499.44" r="1.35" fill="#C8C8CC"/>
<circle cx="200.38" cy="495.7" r="1.35" fill="#C8C8CC"/>
<circle cx="201.01" cy="489.28" r="1.35" fill="#C8C8CC"/>
<circle cx="200.32" cy="485.79" r="1.35" fill="#C8C8CC"/>
<circle cx="200.68" cy="479.79" r="1.35" fill="#C8C8CC"/>
<circle cx="200.89" cy="469.67" r="1.35" fill="#C8C8CC"/>
<circle cx="201.36" cy="455.95" r="1.35" fill="#C8C8CC"/>
<circle cx="200.73" cy="448.75" r="1.35" fill="#C8C8CC"/>
<circle cx="201.05" cy="442.2" r="1.35" fill="#C8C8CC"/>
<circle cx="201.79" cy="515" r="1.35" fill="#C8C8CC"/>
<circle cx="200.17" cy="463" r="1.35" fill="#C8C8CC"/>
<rect x="210" y="505.2" width="13.2" height="3.5" fill="#F8D9D1"/>
<line x1="216.6" y1="476.4" x2="216.6" y2="510.5" stroke="#E29C8C" stroke-width="1.6"/>
<line x1="210" y1="507" x2="223.2" y2="507" stroke="#E9A08E" stroke-width="2.8"/>
<circle cx="217.77" cy="509.1" r="1.35" fill="#DC9282"/>
<circle cx="215.87" cy="508.5" r="1.35" fill="#DC9282"/>
<circle cx="217.9" cy="506.39" r="1.35" fill="#DC9282"/>
<circle cx="215.04" cy="505.77" r="1.35" fill="#DC9282"/>
<circle cx="216.83" cy="482.66" r="1.35" fill="#DC9282"/>
<circle cx="217.24" cy="476.4" r="1.35" fill="#DC9282"/>
<circle cx="217.58" cy="510.5" r="1.35" fill="#DC9282"/>
<rect x="225.8" y="496" width="13.2" height="7.3" fill="#E99A98"/>
<line x1="232.4" y1="415.8" x2="232.4" y2="512.7" stroke="#C4102C" stroke-width="1.6"/>
<line x1="225.8" y1="499.8" x2="239" y2="499.8" stroke="#C4102C" stroke-width="2.8"/>
<circle cx="232.2" cy="504.56" r="1.35" fill="#C4102C"/>
<circle cx="231.77" cy="503.58" r="1.35" fill="#C4102C"/>
<circle cx="232.42" cy="501.37" r="1.35" fill="#C4102C"/>
<circle cx="231.38" cy="500.19" r="1.35" fill="#C4102C"/>
<circle cx="232.73" cy="497.69" r="1.35" fill="#C4102C"/>
<circle cx="233.98" cy="496.43" r="1.35" fill="#C4102C"/>
<circle cx="230.94" cy="496" r="1.35" fill="#C4102C"/>
<circle cx="232.22" cy="512.7" r="1.35" fill="#C4102C"/>
</g>
<line x1="64.5" y1="417.8" x2="64.5" y2="525.7" class="ax"/>
<line x1="63.85" y1="525.7" x2="251.3" y2="525.7" class="ax"/>
<line x1="99.5" y1="525.7" x2="99.5" y2="529.9" class="ax"/>
<text x="99.5" y="544.7" class="xl">day −5</text>
<line x1="158" y1="525.7" x2="158" y2="529.9" class="ax"/>
<text x="158" y="544.7" class="xl">day 0</text>
<line x1="216.6" y1="525.7" x2="216.6" y2="529.9" class="ax"/>
<text x="216.6" y="544.7" class="xl">day +3</text>
<rect x="68" y="555.3" width="9" height="6.4" fill="#ECECEE" stroke="#CACACE" stroke-opacity="0.25" stroke-width="0.6"/><line x1="72.5" y1="552.3" x2="72.5" y2="555.3" stroke="#CACACE" stroke-width="1.3"/><line x1="72.5" y1="561.7" x2="72.5" y2="564.9" stroke="#CACACE" stroke-width="1.3"/><line x1="68" y1="558.5" x2="77" y2="558.5" stroke="#C8C8CC" stroke-width="1.8"/><circle cx="72.5" cy="558.5" r="1.4" fill="#C8C8CC"/>
<text x="81.5" y="562.4" class="lg">None</text>
<rect x="117" y="555.1" width="9" height="6.8" fill="#F7D3CB"/><line x1="121.5" y1="552.3" x2="121.5" y2="564.9" stroke="#F5D8D2" stroke-width="1"/><line x1="117" y1="558.5" x2="126" y2="558.5" stroke="#F2C0B4" stroke-width="1.2"/><circle cx="121.5" cy="558.5" r="1.3" fill="#E0907F"/>
<text x="130.8" y="562.4" class="lg">Mild</text>
<rect x="160.3" y="555.3" width="9" height="6.4" fill="#E99A98" stroke="#C4102C" stroke-opacity="0.25" stroke-width="0.6"/><line x1="164.8" y1="552.3" x2="164.8" y2="555.3" stroke="#C4102C" stroke-width="1.3"/><line x1="164.8" y1="561.7" x2="164.8" y2="564.9" stroke="#C4102C" stroke-width="1.3"/><line x1="160.3" y1="558.5" x2="169.3" y2="558.5" stroke="#C4102C" stroke-width="1.8"/><circle cx="164.8" cy="558.5" r="1.4" fill="#C4102C"/>
<text x="174.3" y="562.4" class="lg">Severe ICANS</text>
<text x="274.9" y="408.9" class="lt">F</text>
<text transform="translate(285.6,471.75) rotate(-90) scale(0.71,1)" class="yt">PLT</text>
<line x1="319.6" y1="521.3" x2="323.8" y2="521.3" class="ax"/>
<text x="314.5" y="525.4" class="tk">0</text>
<line x1="319.6" y1="501.4" x2="323.8" y2="501.4" class="ax"/>
<text x="314.5" y="505.5" class="tk">100</text>
<line x1="319.6" y1="481.6" x2="323.8" y2="481.6" class="ax"/>
<text x="314.5" y="485.7" class="tk">200</text>
<line x1="319.6" y1="461.8" x2="323.8" y2="461.8" class="ax"/>
<text x="314.5" y="465.9" class="tk">300</text>
<line x1="319.6" y1="442" x2="323.8" y2="442" class="ax"/>
<text x="314.5" y="446.1" class="tk">400</text>
<line x1="319.6" y1="422.1" x2="323.8" y2="422.1" class="ax"/>
<text x="314.5" y="426.2" class="tk">500</text>
<clipPath id="cF"><rect x="323.8" y="417.8" width="186.8" height="107.9"/></clipPath>
<g clip-path="url(#cF)">
<rect x="336.4" y="471.3" width="13.2" height="31.7" fill="#ECECEE"/>
<line x1="343" y1="415.8" x2="343" y2="519.5" stroke="#CACACE" stroke-width="1.6"/>
<line x1="336.4" y1="486.3" x2="349.6" y2="486.3" stroke="#C8C8CC" stroke-width="2.8"/>
<circle cx="342.77" cy="517.41" r="1.35" fill="#C8C8CC"/>
<circle cx="342.4" cy="515.18" r="1.35" fill="#C8C8CC"/>
<circle cx="343.41" cy="513.77" r="1.35" fill="#C8C8CC"/>
<circle cx="343.33" cy="511.11" r="1.35" fill="#C8C8CC"/>
<circle cx="342.99" cy="509.98" r="1.35" fill="#C8C8CC"/>
<circle cx="342.1" cy="507.76" r="1.35" fill="#C8C8CC"/>
<circle cx="343.16" cy="506.28" r="1.35" fill="#C8C8CC"/>
<circle cx="343.52" cy="504.84" r="1.35" fill="#C8C8CC"/>
<circle cx="340.18" cy="504.48" r="1.35" fill="#C8C8CC"/>
<circle cx="345.16" cy="503.93" r="1.35" fill="#C8C8CC"/>
<circle cx="339.32" cy="503.41" r="1.35" fill="#C8C8CC"/>
<circle cx="343.22" cy="503.08" r="1.35" fill="#C8C8CC"/>
<circle cx="344.13" cy="502.36" r="1.35" fill="#C8C8CC"/>
<circle cx="338.62" cy="501.6" r="1.35" fill="#C8C8CC"/>
<circle cx="345.71" cy="501.44" r="1.35" fill="#C8C8CC"/>
<circle cx="345.15" cy="500.42" r="1.35" fill="#C8C8CC"/>
<circle cx="339.69" cy="499.62" r="1.35" fill="#C8C8CC"/>
<circle cx="338.99" cy="498.91" r="1.35" fill="#C8C8CC"/>
<circle cx="343.82" cy="497.64" r="1.35" fill="#C8C8CC"/>
<circle cx="342.5" cy="497.29" r="1.35" fill="#C8C8CC"/>
<circle cx="338.55" cy="496.48" r="1.35" fill="#C8C8CC"/>
<circle cx="343.83" cy="495.32" r="1.35" fill="#C8C8CC"/>
<circle cx="342.4" cy="494.48" r="1.35" fill="#C8C8CC"/>
<circle cx="340.49" cy="493.97" r="1.35" fill="#C8C8CC"/>
<circle cx="347.31" cy="493.64" r="1.35" fill="#C8C8CC"/>
<circle cx="341.15" cy="492.24" r="1.35" fill="#C8C8CC"/>
<circle cx="346.16" cy="491.42" r="1.35" fill="#C8C8CC"/>
<circle cx="344.03" cy="491.11" r="1.35" fill="#C8C8CC"/>
<circle cx="342.96" cy="489.82" r="1.35" fill="#C8C8CC"/>
<circle cx="340.43" cy="489.05" r="1.35" fill="#C8C8CC"/>
<circle cx="345.18" cy="488.71" r="1.35" fill="#C8C8CC"/>
<circle cx="341.09" cy="488.07" r="1.35" fill="#C8C8CC"/>
<circle cx="342.84" cy="486.78" r="1.35" fill="#C8C8CC"/>
<circle cx="340.43" cy="486.07" r="1.35" fill="#C8C8CC"/>
<circle cx="341.58" cy="485.77" r="1.35" fill="#C8C8CC"/>
<circle cx="347.72" cy="484.98" r="1.35" fill="#C8C8CC"/>
<circle cx="343.62" cy="484.13" r="1.35" fill="#C8C8CC"/>
<circle cx="343.34" cy="483.49" r="1.35" fill="#C8C8CC"/>
<circle cx="342.03" cy="482.5" r="1.35" fill="#C8C8CC"/>
<circle cx="339.23" cy="481.97" r="1.35" fill="#C8C8CC"/>
<circle cx="341.51" cy="480.6" r="1.35" fill="#C8C8CC"/>
<circle cx="339.91" cy="480.28" r="1.35" fill="#C8C8CC"/>
<circle cx="340.37" cy="479.47" r="1.35" fill="#C8C8CC"/>
<circle cx="344.64" cy="478.89" r="1.35" fill="#C8C8CC"/>
<circle cx="339.56" cy="477.87" r="1.35" fill="#C8C8CC"/>
<circle cx="338.93" cy="476.81" r="1.35" fill="#C8C8CC"/>
<circle cx="346.35" cy="476.37" r="1.35" fill="#C8C8CC"/>
<circle cx="342.43" cy="475.71" r="1.35" fill="#C8C8CC"/>
<circle cx="346.05" cy="474.38" r="1.35" fill="#C8C8CC"/>
<circle cx="341.53" cy="474.13" r="1.35" fill="#C8C8CC"/>
<circle cx="341.77" cy="472.91" r="1.35" fill="#C8C8CC"/>
<circle cx="340.08" cy="471.95" r="1.35" fill="#C8C8CC"/>
<circle cx="343.05" cy="471.29" r="1.35" fill="#C8C8CC"/>
<circle cx="342.53" cy="471.24" r="1.35" fill="#C8C8CC"/>
<circle cx="344.81" cy="470.63" r="1.35" fill="#C8C8CC"/>
<circle cx="345.38" cy="468.71" r="1.35" fill="#C8C8CC"/>
<circle cx="342.65" cy="464.61" r="1.35" fill="#C8C8CC"/>
<circle cx="343.16" cy="461.78" r="1.35" fill="#C8C8CC"/>
<circle cx="343.45" cy="456.62" r="1.35" fill="#C8C8CC"/>
<circle cx="343.02" cy="450.64" r="1.35" fill="#C8C8CC"/>
<circle cx="343.09" cy="519.5" r="1.35" fill="#C8C8CC"/>
<rect x="352.2" y="502.5" width="13.2" height="14.5" fill="#F8D9D1"/>
<line x1="358.8" y1="478.8" x2="358.8" y2="518.8" stroke="#E29C8C" stroke-width="1.6"/>
<line x1="352.2" y1="513.8" x2="365.4" y2="513.8" stroke="#E9A08E" stroke-width="2.8"/>
<circle cx="359.15" cy="518.17" r="1.35" fill="#DC9282"/>
<circle cx="359.05" cy="517" r="1.35" fill="#DC9282"/>
<circle cx="358.5" cy="512.97" r="1.35" fill="#DC9282"/>
<circle cx="358.13" cy="510.13" r="1.35" fill="#DC9282"/>
<circle cx="359.36" cy="507.41" r="1.35" fill="#DC9282"/>
<circle cx="359.06" cy="503.46" r="1.35" fill="#DC9282"/>
<circle cx="358.87" cy="499.94" r="1.35" fill="#DC9282"/>
<circle cx="358.52" cy="478.8" r="1.35" fill="#DC9282"/>
<circle cx="358.8" cy="518.8" r="1.35" fill="#DC9282"/>
<rect x="368" y="485.8" width="13.2" height="30.5" fill="#E99A98"/>
<line x1="374.6" y1="447" x2="374.6" y2="517" stroke="#C4102C" stroke-width="1.6"/>
<line x1="368" y1="508.8" x2="381.2" y2="508.8" stroke="#C4102C" stroke-width="2.8"/>
<circle cx="374.08" cy="516.76" r="1.35" fill="#C4102C"/>
<circle cx="374.27" cy="516.32" r="1.35" fill="#C4102C"/>
<circle cx="374.86" cy="512.96" r="1.35" fill="#C4102C"/>
<circle cx="374.48" cy="505.61" r="1.35" fill="#C4102C"/>
<circle cx="374.93" cy="495.27" r="1.35" fill="#C4102C"/>
<circle cx="375.03" cy="489.09" r="1.35" fill="#C4102C"/>
<circle cx="374.33" cy="487.5" r="1.35" fill="#C4102C"/>
<circle cx="374.82" cy="480.81" r="1.35" fill="#C4102C"/>
<circle cx="374.93" cy="447" r="1.35" fill="#C4102C"/>
<circle cx="374.3" cy="517" r="1.35" fill="#C4102C"/>
<rect x="394.7" y="479.9" width="13.2" height="26.1" fill="#ECECEE"/>
<line x1="401.3" y1="415.8" x2="401.3" y2="518.1" stroke="#CACACE" stroke-width="1.6"/>
<line x1="394.7" y1="490.6" x2="407.9" y2="490.6" stroke="#C8C8CC" stroke-width="2.8"/>
<circle cx="401.49" cy="517.28" r="1.35" fill="#C8C8CC"/>
<circle cx="400.88" cy="514.92" r="1.35" fill="#C8C8CC"/>
<circle cx="400.94" cy="513.04" r="1.35" fill="#C8C8CC"/>
<circle cx="400.32" cy="511.89" r="1.35" fill="#C8C8CC"/>
<circle cx="402.75" cy="511.22" r="1.35" fill="#C8C8CC"/>
<circle cx="402.4" cy="509.3" r="1.35" fill="#C8C8CC"/>
<circle cx="398.77" cy="508.98" r="1.35" fill="#C8C8CC"/>
<circle cx="399.26" cy="507.97" r="1.35" fill="#C8C8CC"/>
<circle cx="400.35" cy="507.15" r="1.35" fill="#C8C8CC"/>
<circle cx="399.67" cy="506.74" r="1.35" fill="#C8C8CC"/>
<circle cx="398.19" cy="506.16" r="1.35" fill="#C8C8CC"/>
<circle cx="402" cy="506" r="1.35" fill="#C8C8CC"/>
<circle cx="398.85" cy="505.54" r="1.35" fill="#C8C8CC"/>
<circle cx="403.14" cy="505.08" r="1.35" fill="#C8C8CC"/>
<circle cx="396.31" cy="504.5" r="1.35" fill="#C8C8CC"/>
<circle cx="404.06" cy="503.55" r="1.35" fill="#C8C8CC"/>
<circle cx="396.73" cy="503.26" r="1.35" fill="#C8C8CC"/>
<circle cx="402.37" cy="502.26" r="1.35" fill="#C8C8CC"/>
<circle cx="398.74" cy="502.13" r="1.35" fill="#C8C8CC"/>
<circle cx="404.21" cy="501.45" r="1.35" fill="#C8C8CC"/>
<circle cx="405.44" cy="500.75" r="1.35" fill="#C8C8CC"/>
<circle cx="397.16" cy="499.76" r="1.35" fill="#C8C8CC"/>
<circle cx="400.24" cy="499.16" r="1.35" fill="#C8C8CC"/>
<circle cx="404.59" cy="498.49" r="1.35" fill="#C8C8CC"/>
<circle cx="397.2" cy="498.14" r="1.35" fill="#C8C8CC"/>
<circle cx="400.54" cy="497.08" r="1.35" fill="#C8C8CC"/>
<circle cx="403.22" cy="496.45" r="1.35" fill="#C8C8CC"/>
<circle cx="404.6" cy="495.93" r="1.35" fill="#C8C8CC"/>
<circle cx="400.83" cy="495.36" r="1.35" fill="#C8C8CC"/>
<circle cx="403.28" cy="495.09" r="1.35" fill="#C8C8CC"/>
<circle cx="401.42" cy="494.21" r="1.35" fill="#C8C8CC"/>
<circle cx="397.58" cy="493.25" r="1.35" fill="#C8C8CC"/>
<circle cx="396.74" cy="492.72" r="1.35" fill="#C8C8CC"/>
<circle cx="404.36" cy="492.12" r="1.35" fill="#C8C8CC"/>
<circle cx="401.76" cy="491.76" r="1.35" fill="#C8C8CC"/>
<circle cx="402.68" cy="490.67" r="1.35" fill="#C8C8CC"/>
<circle cx="398.8" cy="490.3" r="1.35" fill="#C8C8CC"/>
<circle cx="399.88" cy="489.97" r="1.35" fill="#C8C8CC"/>
<circle cx="398.31" cy="489.1" r="1.35" fill="#C8C8CC"/>
<circle cx="397.67" cy="488.53" r="1.35" fill="#C8C8CC"/>
<circle cx="403" cy="487.64" r="1.35" fill="#C8C8CC"/>
<circle cx="398.72" cy="487.3" r="1.35" fill="#C8C8CC"/>
<circle cx="400.75" cy="486.48" r="1.35" fill="#C8C8CC"/>
<circle cx="399.81" cy="485.57" r="1.35" fill="#C8C8CC"/>
<circle cx="405.15" cy="485.34" r="1.35" fill="#C8C8CC"/>
<circle cx="401.93" cy="484.8" r="1.35" fill="#C8C8CC"/>
<circle cx="404.45" cy="484.04" r="1.35" fill="#C8C8CC"/>
<circle cx="403.91" cy="483.26" r="1.35" fill="#C8C8CC"/>
<circle cx="402.97" cy="482.86" r="1.35" fill="#C8C8CC"/>
<circle cx="400.91" cy="481.95" r="1.35" fill="#C8C8CC"/>
<circle cx="404.61" cy="481.2" r="1.35" fill="#C8C8CC"/>
<circle cx="399.19" cy="480.98" r="1.35" fill="#C8C8CC"/>
<circle cx="398.36" cy="480.18" r="1.35" fill="#C8C8CC"/>
<circle cx="399.12" cy="479.88" r="1.35" fill="#C8C8CC"/>
<circle cx="403.06" cy="479.22" r="1.35" fill="#C8C8CC"/>
<circle cx="399.07" cy="477.14" r="1.35" fill="#C8C8CC"/>
<circle cx="401.19" cy="474.73" r="1.35" fill="#C8C8CC"/>
<circle cx="400.77" cy="470.77" r="1.35" fill="#C8C8CC"/>
<circle cx="400.71" cy="467.36" r="1.35" fill="#C8C8CC"/>
<circle cx="401.6" cy="455.06" r="1.35" fill="#C8C8CC"/>
<circle cx="400.47" cy="518.1" r="1.35" fill="#C8C8CC"/>
<rect x="410.5" y="506" width="13.2" height="11.5" fill="#F8D9D1"/>
<line x1="417.1" y1="482.5" x2="417.1" y2="518.1" stroke="#E29C8C" stroke-width="1.6"/>
<line x1="410.5" y1="514.9" x2="423.7" y2="514.9" stroke="#E9A08E" stroke-width="2.8"/>
<circle cx="417.92" cy="517.6" r="1.35" fill="#DC9282"/>
<circle cx="416.42" cy="516.34" r="1.35" fill="#DC9282"/>
<circle cx="416.99" cy="513.38" r="1.35" fill="#DC9282"/>
<circle cx="417.17" cy="511.14" r="1.35" fill="#DC9282"/>
<circle cx="417.83" cy="508.53" r="1.35" fill="#DC9282"/>
<circle cx="417.25" cy="495.15" r="1.35" fill="#DC9282"/>
<circle cx="417.97" cy="482.5" r="1.35" fill="#DC9282"/>
<circle cx="417.41" cy="518.1" r="1.35" fill="#DC9282"/>
<rect x="426.3" y="491.7" width="13.2" height="25" fill="#E99A98"/>
<line x1="432.9" y1="461.5" x2="432.9" y2="517.5" stroke="#C4102C" stroke-width="1.6"/>
<line x1="426.3" y1="513.2" x2="439.5" y2="513.2" stroke="#C4102C" stroke-width="2.8"/>
<circle cx="432.6" cy="517.24" r="1.35" fill="#C4102C"/>
<circle cx="432.33" cy="516.73" r="1.35" fill="#C4102C"/>
<circle cx="433.31" cy="508.52" r="1.35" fill="#C4102C"/>
<circle cx="432.52" cy="505.41" r="1.35" fill="#C4102C"/>
<circle cx="433.31" cy="497.43" r="1.35" fill="#C4102C"/>
<circle cx="432.5" cy="490.47" r="1.35" fill="#C4102C"/>
<circle cx="433.3" cy="470.79" r="1.35" fill="#C4102C"/>
<circle cx="433.38" cy="461.5" r="1.35" fill="#C4102C"/>
<circle cx="432.55" cy="517.5" r="1.35" fill="#C4102C"/>
<rect x="453" y="480.9" width="13.2" height="26.4" fill="#ECECEE"/>
<line x1="459.6" y1="440.8" x2="459.6" y2="518.1" stroke="#CACACE" stroke-width="1.6"/>
<line x1="453" y1="491.2" x2="466.2" y2="491.2" stroke="#C8C8CC" stroke-width="2.8"/>
<circle cx="460" cy="517.74" r="1.35" fill="#C8C8CC"/>
<circle cx="459.35" cy="515.66" r="1.35" fill="#C8C8CC"/>
<circle cx="459.23" cy="513.67" r="1.35" fill="#C8C8CC"/>
<circle cx="458.56" cy="511.89" r="1.35" fill="#C8C8CC"/>
<circle cx="459.88" cy="511.62" r="1.35" fill="#C8C8CC"/>
<circle cx="461.51" cy="509.88" r="1.35" fill="#C8C8CC"/>
<circle cx="462.52" cy="508.95" r="1.35" fill="#C8C8CC"/>
<circle cx="459.55" cy="508.13" r="1.35" fill="#C8C8CC"/>
<circle cx="456.54" cy="507.86" r="1.35" fill="#C8C8CC"/>
<circle cx="460.37" cy="507.56" r="1.35" fill="#C8C8CC"/>
<circle cx="461.45" cy="507.38" r="1.35" fill="#C8C8CC"/>
<circle cx="459.03" cy="507.17" r="1.35" fill="#C8C8CC"/>
<circle cx="455.5" cy="505.72" r="1.35" fill="#C8C8CC"/>
<circle cx="459" cy="505.67" r="1.35" fill="#C8C8CC"/>
<circle cx="461.83" cy="504.75" r="1.35" fill="#C8C8CC"/>
<circle cx="463.01" cy="504.1" r="1.35" fill="#C8C8CC"/>
<circle cx="462.47" cy="502.62" r="1.35" fill="#C8C8CC"/>
<circle cx="457.43" cy="502.16" r="1.35" fill="#C8C8CC"/>
<circle cx="459.75" cy="501.17" r="1.35" fill="#C8C8CC"/>
<circle cx="457.99" cy="500.56" r="1.35" fill="#C8C8CC"/>
<circle cx="461.26" cy="499.75" r="1.35" fill="#C8C8CC"/>
<circle cx="463.64" cy="498.64" r="1.35" fill="#C8C8CC"/>
<circle cx="457.56" cy="498.37" r="1.35" fill="#C8C8CC"/>
<circle cx="460.23" cy="497.35" r="1.35" fill="#C8C8CC"/>
<circle cx="456.55" cy="496.62" r="1.35" fill="#C8C8CC"/>
<circle cx="457.84" cy="496.03" r="1.35" fill="#C8C8CC"/>
<circle cx="464.31" cy="494.93" r="1.35" fill="#C8C8CC"/>
<circle cx="463.25" cy="493.77" r="1.35" fill="#C8C8CC"/>
<circle cx="464.22" cy="492.92" r="1.35" fill="#C8C8CC"/>
<circle cx="462.71" cy="492.4" r="1.35" fill="#C8C8CC"/>
<circle cx="461.36" cy="492.05" r="1.35" fill="#C8C8CC"/>
<circle cx="457.57" cy="490.81" r="1.35" fill="#C8C8CC"/>
<circle cx="464.13" cy="490.04" r="1.35" fill="#C8C8CC"/>
<circle cx="461.07" cy="489.32" r="1.35" fill="#C8C8CC"/>
<circle cx="458.03" cy="488.66" r="1.35" fill="#C8C8CC"/>
<circle cx="454.88" cy="487.39" r="1.35" fill="#C8C8CC"/>
<circle cx="461.39" cy="487.15" r="1.35" fill="#C8C8CC"/>
<circle cx="455.45" cy="486.14" r="1.35" fill="#C8C8CC"/>
<circle cx="458.32" cy="485.17" r="1.35" fill="#C8C8CC"/>
<circle cx="458.76" cy="484.44" r="1.35" fill="#C8C8CC"/>
<circle cx="460.25" cy="483.68" r="1.35" fill="#C8C8CC"/>
<circle cx="455.74" cy="482.98" r="1.35" fill="#C8C8CC"/>
<circle cx="463.5" cy="482.36" r="1.35" fill="#C8C8CC"/>
<circle cx="455.72" cy="481.26" r="1.35" fill="#C8C8CC"/>
<circle cx="457.21" cy="480.75" r="1.35" fill="#C8C8CC"/>
<circle cx="459.89" cy="480.65" r="1.35" fill="#C8C8CC"/>
<circle cx="459.52" cy="479.68" r="1.35" fill="#C8C8CC"/>
<circle cx="458.2" cy="477.56" r="1.35" fill="#C8C8CC"/>
<circle cx="458.39" cy="475.09" r="1.35" fill="#C8C8CC"/>
<circle cx="459.75" cy="472.13" r="1.35" fill="#C8C8CC"/>
<circle cx="459.49" cy="470.02" r="1.35" fill="#C8C8CC"/>
<circle cx="459.53" cy="465.72" r="1.35" fill="#C8C8CC"/>
<circle cx="459.66" cy="455.96" r="1.35" fill="#C8C8CC"/>
<circle cx="459.91" cy="450.39" r="1.35" fill="#C8C8CC"/>
<circle cx="460.19" cy="447.56" r="1.35" fill="#C8C8CC"/>
<circle cx="460.04" cy="440.8" r="1.35" fill="#C8C8CC"/>
<circle cx="458.8" cy="518.1" r="1.35" fill="#C8C8CC"/>
<rect x="468.8" y="504.6" width="13.2" height="13.5" fill="#F8D9D1"/>
<line x1="475.4" y1="502.5" x2="475.4" y2="518.1" stroke="#E29C8C" stroke-width="1.6"/>
<line x1="468.8" y1="515.4" x2="482" y2="515.4" stroke="#E9A08E" stroke-width="2.8"/>
<circle cx="475.27" cy="518.1" r="1.35" fill="#DC9282"/>
<circle cx="475.97" cy="517.33" r="1.35" fill="#DC9282"/>
<circle cx="475.74" cy="511.07" r="1.35" fill="#DC9282"/>
<circle cx="475.74" cy="508.48" r="1.35" fill="#DC9282"/>
<circle cx="475.08" cy="504.6" r="1.35" fill="#DC9282"/>
<circle cx="475.14" cy="502.5" r="1.35" fill="#DC9282"/>
<circle cx="474.43" cy="518.1" r="1.35" fill="#DC9282"/>
<rect x="484.6" y="504.1" width="13.2" height="11.8" fill="#E99A98"/>
<line x1="491.2" y1="483.1" x2="491.2" y2="518.1" stroke="#C4102C" stroke-width="1.6"/>
<line x1="484.6" y1="511.4" x2="497.8" y2="511.4" stroke="#C4102C" stroke-width="2.8"/>
<circle cx="490.71" cy="516.63" r="1.35" fill="#C4102C"/>
<circle cx="491.61" cy="515.91" r="1.35" fill="#C4102C"/>
<circle cx="491.97" cy="513.02" r="1.35" fill="#C4102C"/>
<circle cx="491.94" cy="509.66" r="1.35" fill="#C4102C"/>
<circle cx="492.03" cy="507.01" r="1.35" fill="#C4102C"/>
<circle cx="490.61" cy="503.53" r="1.35" fill="#C4102C"/>
<circle cx="491.01" cy="490.6" r="1.35" fill="#C4102C"/>
<circle cx="491.73" cy="483.1" r="1.35" fill="#C4102C"/>
<circle cx="491.56" cy="518.1" r="1.35" fill="#C4102C"/>
</g>
<line x1="323.8" y1="417.8" x2="323.8" y2="525.7" class="ax"/>
<line x1="323.15" y1="525.7" x2="510.6" y2="525.7" class="ax"/>
<line x1="358.8" y1="525.7" x2="358.8" y2="529.9" class="ax"/>
<text x="358.8" y="544.7" class="xl">day −5</text>
<line x1="417.1" y1="525.7" x2="417.1" y2="529.9" class="ax"/>
<text x="417.1" y="544.7" class="xl">day 0</text>
<line x1="475.4" y1="525.7" x2="475.4" y2="529.9" class="ax"/>
<text x="475.4" y="544.7" class="xl">day +3</text>
<rect x="327.3" y="555.3" width="9" height="6.4" fill="#ECECEE" stroke="#CACACE" stroke-opacity="0.25" stroke-width="0.6"/><line x1="331.8" y1="552.3" x2="331.8" y2="555.3" stroke="#CACACE" stroke-width="1.3"/><line x1="331.8" y1="561.7" x2="331.8" y2="564.9" stroke="#CACACE" stroke-width="1.3"/><line x1="327.3" y1="558.5" x2="336.3" y2="558.5" stroke="#C8C8CC" stroke-width="1.8"/><circle cx="331.8" cy="558.5" r="1.4" fill="#C8C8CC"/>
<text x="340.8" y="562.4" class="lg">None</text>
<rect x="376.3" y="555.1" width="9" height="6.8" fill="#F7D3CB"/><line x1="380.8" y1="552.3" x2="380.8" y2="564.9" stroke="#F5D8D2" stroke-width="1"/><line x1="376.3" y1="558.5" x2="385.3" y2="558.5" stroke="#F2C0B4" stroke-width="1.2"/><circle cx="380.8" cy="558.5" r="1.3" fill="#E0907F"/>
<text x="390.1" y="562.4" class="lg">Mild</text>
<rect x="419.6" y="555.3" width="9" height="6.4" fill="#E99A98" stroke="#C4102C" stroke-opacity="0.25" stroke-width="0.6"/><line x1="424.1" y1="552.3" x2="424.1" y2="555.3" stroke="#C4102C" stroke-width="1.3"/><line x1="424.1" y1="561.7" x2="424.1" y2="564.9" stroke="#C4102C" stroke-width="1.3"/><line x1="419.6" y1="558.5" x2="428.6" y2="558.5" stroke="#C4102C" stroke-width="1.8"/><circle cx="424.1" cy="558.5" r="1.4" fill="#C4102C"/>
<text x="433.6" y="562.4" class="lg">Severe ICANS</text>
<text x="8.3" y="602.4" class="lt">G</text>
<text transform="translate(33.7,667.45) rotate(-90) scale(0.71,1)" class="yt">CRP</text>
<line x1="60.3" y1="716.6" x2="64.5" y2="716.6" class="ax"/>
<text x="55.2" y="720.7" class="tk">0</text>
<line x1="60.3" y1="691.8" x2="64.5" y2="691.8" class="ax"/>
<text x="55.2" y="695.9" class="tk">5</text>
<line x1="60.3" y1="667.1" x2="64.5" y2="667.1" class="ax"/>
<text x="55.2" y="671.2" class="tk">10</text>
<line x1="60.3" y1="642.3" x2="64.5" y2="642.3" class="ax"/>
<text x="55.2" y="646.4" class="tk">15</text>
<line x1="60.3" y1="617.5" x2="64.5" y2="617.5" class="ax"/>
<text x="55.2" y="621.6" class="tk">20</text>
<clipPath id="cG"><rect x="64.5" y="613.5" width="186.8" height="107.9"/></clipPath>
<g clip-path="url(#cG)">
<rect x="77.1" y="712.5" width="13.2" height="3.8" fill="#ECECEE"/>
<line x1="83.7" y1="611.5" x2="83.7" y2="716.6" stroke="#CACACE" stroke-width="1.6"/>
<line x1="77.1" y1="714.5" x2="90.3" y2="714.5" stroke="#C8C8CC" stroke-width="2.8"/>
<circle cx="80.12" cy="716.56" r="1.35" fill="#C8C8CC"/>
<circle cx="85.97" cy="716.53" r="1.35" fill="#C8C8CC"/>
<circle cx="85.85" cy="716.46" r="1.35" fill="#C8C8CC"/>
<circle cx="84.71" cy="716.46" r="1.35" fill="#C8C8CC"/>
<circle cx="84.18" cy="716.42" r="1.35" fill="#C8C8CC"/>
<circle cx="79.88" cy="716.37" r="1.35" fill="#C8C8CC"/>
<circle cx="85.44" cy="716.34" r="1.35" fill="#C8C8CC"/>
<circle cx="80.65" cy="716.33" r="1.35" fill="#C8C8CC"/>
<circle cx="87.07" cy="716.32" r="1.35" fill="#C8C8CC"/>
<circle cx="79.84" cy="716.3" r="1.35" fill="#C8C8CC"/>
<circle cx="79.81" cy="716.3" r="1.35" fill="#C8C8CC"/>
<circle cx="80.55" cy="716.22" r="1.35" fill="#C8C8CC"/>
<circle cx="81.6" cy="716.14" r="1.35" fill="#C8C8CC"/>
<circle cx="82.51" cy="716.03" r="1.35" fill="#C8C8CC"/>
<circle cx="87.45" cy="715.98" r="1.35" fill="#C8C8CC"/>
<circle cx="85.6" cy="715.84" r="1.35" fill="#C8C8CC"/>
<circle cx="88.19" cy="715.71" r="1.35" fill="#C8C8CC"/>
<circle cx="82.12" cy="715.69" r="1.35" fill="#C8C8CC"/>
<circle cx="83.72" cy="715.57" r="1.35" fill="#C8C8CC"/>
<circle cx="86.7" cy="715.4" r="1.35" fill="#C8C8CC"/>
<circle cx="80.52" cy="715.38" r="1.35" fill="#C8C8CC"/>
<circle cx="85.5" cy="715.2" r="1.35" fill="#C8C8CC"/>
<circle cx="83.46" cy="715.14" r="1.35" fill="#C8C8CC"/>
<circle cx="87.15" cy="715.06" r="1.35" fill="#C8C8CC"/>
<circle cx="87.43" cy="714.94" r="1.35" fill="#C8C8CC"/>
<circle cx="79.46" cy="714.82" r="1.35" fill="#C8C8CC"/>
<circle cx="80.86" cy="714.74" r="1.35" fill="#C8C8CC"/>
<circle cx="84.59" cy="714.58" r="1.35" fill="#C8C8CC"/>
<circle cx="80.4" cy="714.57" r="1.35" fill="#C8C8CC"/>
<circle cx="83.38" cy="714.43" r="1.35" fill="#C8C8CC"/>
<circle cx="82.58" cy="714.31" r="1.35" fill="#C8C8CC"/>
<circle cx="78.76" cy="714.23" r="1.35" fill="#C8C8CC"/>
<circle cx="82.04" cy="714.11" r="1.35" fill="#C8C8CC"/>
<circle cx="83.29" cy="714.06" r="1.35" fill="#C8C8CC"/>
<circle cx="79.15" cy="713.86" r="1.35" fill="#C8C8CC"/>
<circle cx="85.41" cy="713.85" r="1.35" fill="#C8C8CC"/>
<circle cx="81.43" cy="713.73" r="1.35" fill="#C8C8CC"/>
<circle cx="81.32" cy="713.61" r="1.35" fill="#C8C8CC"/>
<circle cx="83.98" cy="713.5" r="1.35" fill="#C8C8CC"/>
<circle cx="88.62" cy="713.36" r="1.35" fill="#C8C8CC"/>
<circle cx="84.31" cy="713.35" r="1.35" fill="#C8C8CC"/>
<circle cx="87.42" cy="713.17" r="1.35" fill="#C8C8CC"/>
<circle cx="85.03" cy="713.07" r="1.35" fill="#C8C8CC"/>
<circle cx="82.33" cy="712.98" r="1.35" fill="#C8C8CC"/>
<circle cx="86.65" cy="712.92" r="1.35" fill="#C8C8CC"/>
<circle cx="88.09" cy="712.76" r="1.35" fill="#C8C8CC"/>
<circle cx="81.74" cy="712.67" r="1.35" fill="#C8C8CC"/>
<circle cx="86.1" cy="712.56" r="1.35" fill="#C8C8CC"/>
<circle cx="85.05" cy="712.49" r="1.35" fill="#C8C8CC"/>
<circle cx="84.14" cy="711.82" r="1.35" fill="#C8C8CC"/>
<circle cx="81.51" cy="709.01" r="1.35" fill="#C8C8CC"/>
<circle cx="83.35" cy="704.41" r="1.35" fill="#C8C8CC"/>
<circle cx="83.68" cy="690.93" r="1.35" fill="#C8C8CC"/>
<circle cx="83.39" cy="686.81" r="1.35" fill="#C8C8CC"/>
<circle cx="83.52" cy="675.9" r="1.35" fill="#C8C8CC"/>
<circle cx="82.97" cy="716.6" r="1.35" fill="#C8C8CC"/>
<rect x="92.9" y="713.8" width="13.2" height="3.2" fill="#F8D9D1"/>
<line x1="99.5" y1="685.8" x2="99.5" y2="717" stroke="#E29C8C" stroke-width="1.6"/>
<line x1="92.9" y1="715" x2="106.1" y2="715" stroke="#E9A08E" stroke-width="2.8"/>
<circle cx="100.98" cy="717" r="1.35" fill="#DC9282"/>
<circle cx="99.28" cy="716.96" r="1.35" fill="#DC9282"/>
<circle cx="98.71" cy="716.11" r="1.35" fill="#DC9282"/>
<circle cx="97.77" cy="715.65" r="1.35" fill="#DC9282"/>
<circle cx="98.73" cy="714.79" r="1.35" fill="#DC9282"/>
<circle cx="99.7" cy="713.66" r="1.35" fill="#DC9282"/>
<circle cx="99.31" cy="688.48" r="1.35" fill="#DC9282"/>
<circle cx="100.34" cy="685.8" r="1.35" fill="#DC9282"/>
<circle cx="99.67" cy="717" r="1.35" fill="#DC9282"/>
<rect x="108.7" y="697.5" width="13.2" height="14.3" fill="#E99A98"/>
<line x1="115.3" y1="611.5" x2="115.3" y2="717" stroke="#C4102C" stroke-width="1.6"/>
<line x1="108.7" y1="702.5" x2="121.9" y2="702.5" stroke="#C4102C" stroke-width="2.8"/>
<circle cx="114.91" cy="716.49" r="1.35" fill="#C4102C"/>
<circle cx="116.21" cy="711.8" r="1.35" fill="#C4102C"/>
<circle cx="115.81" cy="709.54" r="1.35" fill="#C4102C"/>
<circle cx="115.99" cy="706.35" r="1.35" fill="#C4102C"/>
<circle cx="115.27" cy="704.45" r="1.35" fill="#C4102C"/>
<circle cx="114.88" cy="698.99" r="1.35" fill="#C4102C"/>
<circle cx="114.41" cy="697.92" r="1.35" fill="#C4102C"/>
<circle cx="114.87" cy="697.5" r="1.35" fill="#C4102C"/>
<circle cx="115.71" cy="717" r="1.35" fill="#C4102C"/>
<circle cx="114.17" cy="693" r="1.35" fill="#C4102C"/>
<circle cx="114.9" cy="708" r="1.35" fill="#C4102C"/>
<rect x="135.6" y="707.7" width="13.2" height="8.1" fill="#ECECEE"/>
<line x1="142.2" y1="611.5" x2="142.2" y2="716.6" stroke="#CACACE" stroke-width="1.6"/>
<line x1="135.6" y1="712" x2="148.8" y2="712" stroke="#C8C8CC" stroke-width="2.8"/>
<circle cx="143.08" cy="716.57" r="1.35" fill="#C8C8CC"/>
<circle cx="143.53" cy="716.35" r="1.35" fill="#C8C8CC"/>
<circle cx="144.31" cy="716.31" r="1.35" fill="#C8C8CC"/>
<circle cx="143.15" cy="716.13" r="1.35" fill="#C8C8CC"/>
<circle cx="145.1" cy="716.12" r="1.35" fill="#C8C8CC"/>
<circle cx="140.67" cy="715.97" r="1.35" fill="#C8C8CC"/>
<circle cx="139.18" cy="715.96" r="1.35" fill="#C8C8CC"/>
<circle cx="145.9" cy="715.88" r="1.35" fill="#C8C8CC"/>
<circle cx="146.4" cy="715.84" r="1.35" fill="#C8C8CC"/>
<circle cx="140.47" cy="715.82" r="1.35" fill="#C8C8CC"/>
<circle cx="143.69" cy="715.8" r="1.35" fill="#C8C8CC"/>
<circle cx="143.99" cy="715.71" r="1.35" fill="#C8C8CC"/>
<circle cx="137.77" cy="715.51" r="1.35" fill="#C8C8CC"/>
<circle cx="137.65" cy="715.28" r="1.35" fill="#C8C8CC"/>
<circle cx="140.55" cy="715.01" r="1.35" fill="#C8C8CC"/>
<circle cx="143.18" cy="714.83" r="1.35" fill="#C8C8CC"/>
<circle cx="141.83" cy="714.66" r="1.35" fill="#C8C8CC"/>
<circle cx="146.45" cy="714.5" r="1.35" fill="#C8C8CC"/>
<circle cx="147.08" cy="714.16" r="1.35" fill="#C8C8CC"/>
<circle cx="143.34" cy="714.06" r="1.35" fill="#C8C8CC"/>
<circle cx="140.49" cy="713.69" r="1.35" fill="#C8C8CC"/>
<circle cx="138.76" cy="713.61" r="1.35" fill="#C8C8CC"/>
<circle cx="144.87" cy="713.39" r="1.35" fill="#C8C8CC"/>
<circle cx="145.34" cy="713.18" r="1.35" fill="#C8C8CC"/>
<circle cx="142.59" cy="712.89" r="1.35" fill="#C8C8CC"/>
<circle cx="142.75" cy="712.64" r="1.35" fill="#C8C8CC"/>
<circle cx="143.22" cy="712.41" r="1.35" fill="#C8C8CC"/>
<circle cx="144.61" cy="712.26" r="1.35" fill="#C8C8CC"/>
<circle cx="144.31" cy="712.06" r="1.35" fill="#C8C8CC"/>
<circle cx="144.96" cy="711.74" r="1.35" fill="#C8C8CC"/>
<circle cx="144.93" cy="711.62" r="1.35" fill="#C8C8CC"/>
<circle cx="141.73" cy="711.26" r="1.35" fill="#C8C8CC"/>
<circle cx="142.43" cy="711.19" r="1.35" fill="#C8C8CC"/>
<circle cx="138.52" cy="710.83" r="1.35" fill="#C8C8CC"/>
<circle cx="141.96" cy="710.82" r="1.35" fill="#C8C8CC"/>
<circle cx="144.94" cy="710.46" r="1.35" fill="#C8C8CC"/>
<circle cx="147.1" cy="710.31" r="1.35" fill="#C8C8CC"/>
<circle cx="144.77" cy="710.12" r="1.35" fill="#C8C8CC"/>
<circle cx="137.48" cy="709.93" r="1.35" fill="#C8C8CC"/>
<circle cx="137.8" cy="709.71" r="1.35" fill="#C8C8CC"/>
<circle cx="142.75" cy="709.41" r="1.35" fill="#C8C8CC"/>
<circle cx="146.6" cy="709.26" r="1.35" fill="#C8C8CC"/>
<circle cx="138.69" cy="709.01" r="1.35" fill="#C8C8CC"/>
<circle cx="144.58" cy="708.83" r="1.35" fill="#C8C8CC"/>
<circle cx="138.82" cy="708.45" r="1.35" fill="#C8C8CC"/>
<circle cx="144.98" cy="708.43" r="1.35" fill="#C8C8CC"/>
<circle cx="147.02" cy="708.17" r="1.35" fill="#C8C8CC"/>
<circle cx="143.56" cy="707.9" r="1.35" fill="#C8C8CC"/>
<circle cx="145.21" cy="707.71" r="1.35" fill="#C8C8CC"/>
<circle cx="140.62" cy="707.17" r="1.35" fill="#C8C8CC"/>
<circle cx="140.26" cy="704.18" r="1.35" fill="#C8C8CC"/>
<circle cx="141.04" cy="701.09" r="1.35" fill="#C8C8CC"/>
<circle cx="142.08" cy="696.45" r="1.35" fill="#C8C8CC"/>
<circle cx="141.67" cy="688.1" r="1.35" fill="#C8C8CC"/>
<circle cx="142.09" cy="682.14" r="1.35" fill="#C8C8CC"/>
<circle cx="143.04" cy="716.6" r="1.35" fill="#C8C8CC"/>
<rect x="151.4" y="703.7" width="13.2" height="10.7" fill="#F8D9D1"/>
<line x1="158" y1="611.5" x2="158" y2="717.1" stroke="#E29C8C" stroke-width="1.6"/>
<line x1="151.4" y1="711.7" x2="164.6" y2="711.7" stroke="#E9A08E" stroke-width="2.8"/>
<circle cx="158.26" cy="714.69" r="1.35" fill="#DC9282"/>
<circle cx="157.46" cy="714.44" r="1.35" fill="#DC9282"/>
<circle cx="157.86" cy="712.2" r="1.35" fill="#DC9282"/>
<circle cx="157.35" cy="709.73" r="1.35" fill="#DC9282"/>
<circle cx="158.31" cy="705.84" r="1.35" fill="#DC9282"/>
<circle cx="159.08" cy="704.47" r="1.35" fill="#DC9282"/>
<circle cx="158.15" cy="703.7" r="1.35" fill="#DC9282"/>
<circle cx="157.31" cy="717.1" r="1.35" fill="#DC9282"/>
<circle cx="159.45" cy="651" r="1.35" fill="#DC9282"/>
<rect x="167.2" y="683.5" width="13.2" height="30.1" fill="#E99A98"/>
<line x1="173.8" y1="676.2" x2="173.8" y2="717.1" stroke="#C4102C" stroke-width="1.6"/>
<line x1="167.2" y1="698.8" x2="180.4" y2="698.8" stroke="#C4102C" stroke-width="2.8"/>
<circle cx="173.52" cy="714.33" r="1.35" fill="#C4102C"/>
<circle cx="174.19" cy="712.65" r="1.35" fill="#C4102C"/>
<circle cx="173.6" cy="709.32" r="1.35" fill="#C4102C"/>
<circle cx="174.27" cy="701.78" r="1.35" fill="#C4102C"/>
<circle cx="174.02" cy="697.54" r="1.35" fill="#C4102C"/>
<circle cx="173.74" cy="688.53" r="1.35" fill="#C4102C"/>
<circle cx="174.26" cy="683.44" r="1.35" fill="#C4102C"/>
<circle cx="174.26" cy="681.87" r="1.35" fill="#C4102C"/>
<circle cx="173.52" cy="676.2" r="1.35" fill="#C4102C"/>
<circle cx="174.36" cy="717.1" r="1.35" fill="#C4102C"/>
<rect x="194.2" y="707.7" width="13.2" height="8.6" fill="#ECECEE"/>
<line x1="200.8" y1="611.5" x2="200.8" y2="716.6" stroke="#CACACE" stroke-width="1.6"/>
<line x1="194.2" y1="712" x2="207.4" y2="712" stroke="#C8C8CC" stroke-width="2.8"/>
<circle cx="197.78" cy="716.55" r="1.35" fill="#C8C8CC"/>
<circle cx="205.56" cy="716.5" r="1.35" fill="#C8C8CC"/>
<circle cx="196.21" cy="716.48" r="1.35" fill="#C8C8CC"/>
<circle cx="205.41" cy="716.44" r="1.35" fill="#C8C8CC"/>
<circle cx="204.83" cy="716.41" r="1.35" fill="#C8C8CC"/>
<circle cx="203.13" cy="716.37" r="1.35" fill="#C8C8CC"/>
<circle cx="197.52" cy="716.35" r="1.35" fill="#C8C8CC"/>
<circle cx="196.72" cy="716.32" r="1.35" fill="#C8C8CC"/>
<circle cx="204.98" cy="716.31" r="1.35" fill="#C8C8CC"/>
<circle cx="204.62" cy="716.3" r="1.35" fill="#C8C8CC"/>
<circle cx="196.13" cy="716.05" r="1.35" fill="#C8C8CC"/>
<circle cx="203.72" cy="715.99" r="1.35" fill="#C8C8CC"/>
<circle cx="196.18" cy="715.62" r="1.35" fill="#C8C8CC"/>
<circle cx="198.12" cy="715.41" r="1.35" fill="#C8C8CC"/>
<circle cx="196.85" cy="715.18" r="1.35" fill="#C8C8CC"/>
<circle cx="205.71" cy="715.03" r="1.35" fill="#C8C8CC"/>
<circle cx="204.59" cy="714.7" r="1.35" fill="#C8C8CC"/>
<circle cx="200.67" cy="714.5" r="1.35" fill="#C8C8CC"/>
<circle cx="200.08" cy="714.24" r="1.35" fill="#C8C8CC"/>
<circle cx="202.65" cy="713.98" r="1.35" fill="#C8C8CC"/>
<circle cx="203.18" cy="713.73" r="1.35" fill="#C8C8CC"/>
<circle cx="196.92" cy="713.39" r="1.35" fill="#C8C8CC"/>
<circle cx="200.76" cy="713.18" r="1.35" fill="#C8C8CC"/>
<circle cx="199.29" cy="712.78" r="1.35" fill="#C8C8CC"/>
<circle cx="205.48" cy="712.7" r="1.35" fill="#C8C8CC"/>
<circle cx="203.11" cy="712.28" r="1.35" fill="#C8C8CC"/>
<circle cx="197.57" cy="712.18" r="1.35" fill="#C8C8CC"/>
<circle cx="196.49" cy="711.93" r="1.35" fill="#C8C8CC"/>
<circle cx="200.89" cy="711.74" r="1.35" fill="#C8C8CC"/>
<circle cx="201.37" cy="711.39" r="1.35" fill="#C8C8CC"/>
<circle cx="195.91" cy="711.15" r="1.35" fill="#C8C8CC"/>
<circle cx="202.33" cy="710.81" r="1.35" fill="#C8C8CC"/>
<circle cx="201.29" cy="710.6" r="1.35" fill="#C8C8CC"/>
<circle cx="205.62" cy="710.31" r="1.35" fill="#C8C8CC"/>
<circle cx="202.98" cy="710.01" r="1.35" fill="#C8C8CC"/>
<circle cx="198.98" cy="709.88" r="1.35" fill="#C8C8CC"/>
<circle cx="205.53" cy="709.62" r="1.35" fill="#C8C8CC"/>
<circle cx="199.65" cy="709.37" r="1.35" fill="#C8C8CC"/>
<circle cx="197.23" cy="709.11" r="1.35" fill="#C8C8CC"/>
<circle cx="195.85" cy="708.71" r="1.35" fill="#C8C8CC"/>
<circle cx="205.06" cy="708.56" r="1.35" fill="#C8C8CC"/>
<circle cx="201.91" cy="708.39" r="1.35" fill="#C8C8CC"/>
<circle cx="198.21" cy="708.11" r="1.35" fill="#C8C8CC"/>
<circle cx="196.96" cy="707.9" r="1.35" fill="#C8C8CC"/>
<circle cx="203.37" cy="707.21" r="1.35" fill="#C8C8CC"/>
<circle cx="198.3" cy="704.75" r="1.35" fill="#C8C8CC"/>
<circle cx="200.3" cy="701.4" r="1.35" fill="#C8C8CC"/>
<circle cx="200.86" cy="695.43" r="1.35" fill="#C8C8CC"/>
<circle cx="201.37" cy="689.92" r="1.35" fill="#C8C8CC"/>
<circle cx="201.1" cy="683.12" r="1.35" fill="#C8C8CC"/>
<circle cx="201.51" cy="716.6" r="1.35" fill="#C8C8CC"/>
<rect x="210" y="702.9" width="13.2" height="12.9" fill="#F8D9D1"/>
<line x1="216.6" y1="657.9" x2="216.6" y2="717" stroke="#E29C8C" stroke-width="1.6"/>
<line x1="210" y1="713.1" x2="223.2" y2="713.1" stroke="#E9A08E" stroke-width="2.8"/>
<circle cx="216.73" cy="716.2" r="1.35" fill="#DC9282"/>
<circle cx="216.19" cy="712.95" r="1.35" fill="#DC9282"/>
<circle cx="216.98" cy="710.68" r="1.35" fill="#DC9282"/>
<circle cx="216.93" cy="707.99" r="1.35" fill="#DC9282"/>
<circle cx="216.64" cy="704.36" r="1.35" fill="#DC9282"/>
<circle cx="216.81" cy="683.8" r="1.35" fill="#DC9282"/>
<circle cx="216.24" cy="657.9" r="1.35" fill="#DC9282"/>
<circle cx="216.86" cy="717" r="1.35" fill="#DC9282"/>
<rect x="225.8" y="664.6" width="13.2" height="28.3" fill="#E99A98"/>
<line x1="232.4" y1="645.8" x2="232.4" y2="716.3" stroke="#C4102C" stroke-width="1.6"/>
<line x1="225.8" y1="687" x2="239" y2="687" stroke="#C4102C" stroke-width="2.8"/>
<circle cx="232.07" cy="701.67" r="1.35" fill="#C4102C"/>
<circle cx="232.12" cy="691.47" r="1.35" fill="#C4102C"/>
<circle cx="232.37" cy="682.73" r="1.35" fill="#C4102C"/>
<circle cx="232.43" cy="677.26" r="1.35" fill="#C4102C"/>
<circle cx="232.07" cy="672.17" r="1.35" fill="#C4102C"/>
<circle cx="232.91" cy="667.69" r="1.35" fill="#C4102C"/>
<circle cx="232.43" cy="656.98" r="1.35" fill="#C4102C"/>
<circle cx="232.45" cy="645.8" r="1.35" fill="#C4102C"/>
<circle cx="233.03" cy="716.3" r="1.35" fill="#C4102C"/>
</g>
<line x1="64.5" y1="613.5" x2="64.5" y2="721.4" class="ax"/>
<line x1="63.85" y1="721.4" x2="251.3" y2="721.4" class="ax"/>
<line x1="99.5" y1="721.4" x2="99.5" y2="725.6" class="ax"/>
<text x="99.5" y="740.4" class="xl">day −5</text>
<line x1="158" y1="721.4" x2="158" y2="725.6" class="ax"/>
<text x="158" y="740.4" class="xl">day 0</text>
<line x1="216.6" y1="721.4" x2="216.6" y2="725.6" class="ax"/>
<text x="216.6" y="740.4" class="xl">day +3</text>
<rect x="68" y="751" width="9" height="6.4" fill="#ECECEE" stroke="#CACACE" stroke-opacity="0.25" stroke-width="0.6"/><line x1="72.5" y1="748" x2="72.5" y2="751" stroke="#CACACE" stroke-width="1.3"/><line x1="72.5" y1="757.4" x2="72.5" y2="760.6" stroke="#CACACE" stroke-width="1.3"/><line x1="68" y1="754.2" x2="77" y2="754.2" stroke="#C8C8CC" stroke-width="1.8"/><circle cx="72.5" cy="754.2" r="1.4" fill="#C8C8CC"/>
<text x="81.5" y="758.1" class="lg">None</text>
<rect x="117" y="750.8" width="9" height="6.8" fill="#F7D3CB"/><line x1="121.5" y1="748" x2="121.5" y2="760.6" stroke="#F5D8D2" stroke-width="1"/><line x1="117" y1="754.2" x2="126" y2="754.2" stroke="#F2C0B4" stroke-width="1.2"/><circle cx="121.5" cy="754.2" r="1.3" fill="#E0907F"/>
<text x="130.8" y="758.1" class="lg">Mild</text>
<rect x="160.3" y="751" width="9" height="6.4" fill="#E99A98" stroke="#C4102C" stroke-opacity="0.25" stroke-width="0.6"/><line x1="164.8" y1="748" x2="164.8" y2="751" stroke="#C4102C" stroke-width="1.3"/><line x1="164.8" y1="757.4" x2="164.8" y2="760.6" stroke="#C4102C" stroke-width="1.3"/><line x1="160.3" y1="754.2" x2="169.3" y2="754.2" stroke="#C4102C" stroke-width="1.8"/><circle cx="164.8" cy="754.2" r="1.4" fill="#C4102C"/>
<text x="174.3" y="758.1" class="lg">Severe ICANS</text>
<text x="274.9" y="602.4" class="lt">H</text>
<text transform="translate(288.7,667.45) rotate(-90) scale(0.71,1)" class="yt">CR</text>
<line x1="319.6" y1="697" x2="323.8" y2="697" class="ax"/>
<text x="314.5" y="701.1" class="tk">0.3</text>
<line x1="319.6" y1="667.3" x2="323.8" y2="667.3" class="ax"/>
<text x="314.5" y="671.4" class="tk">0.6</text>
<line x1="319.6" y1="637.5" x2="323.8" y2="637.5" class="ax"/>
<text x="314.5" y="641.6" class="tk">0.9</text>
<clipPath id="cH"><rect x="323.8" y="613.5" width="186.8" height="107.9"/></clipPath>
<g clip-path="url(#cH)">
<rect x="336.4" y="674.5" width="13.2" height="28" fill="#ECECEE"/>
<line x1="343" y1="627" x2="343" y2="712.5" stroke="#CACACE" stroke-width="1.6"/>
<line x1="336.4" y1="689.3" x2="349.6" y2="689.3" stroke="#C8C8CC" stroke-width="2.8"/>
<circle cx="342.52" cy="712.11" r="1.35" fill="#C8C8CC"/>
<circle cx="342.91" cy="709.69" r="1.35" fill="#C8C8CC"/>
<circle cx="343.97" cy="708.58" r="1.35" fill="#C8C8CC"/>
<circle cx="344.48" cy="707.06" r="1.35" fill="#C8C8CC"/>
<circle cx="342.51" cy="706.9" r="1.35" fill="#C8C8CC"/>
<circle cx="344.87" cy="705.14" r="1.35" fill="#C8C8CC"/>
<circle cx="340.86" cy="704.9" r="1.35" fill="#C8C8CC"/>
<circle cx="340.1" cy="704.07" r="1.35" fill="#C8C8CC"/>
<circle cx="345.52" cy="703.42" r="1.35" fill="#C8C8CC"/>
<circle cx="342.57" cy="702.93" r="1.35" fill="#C8C8CC"/>
<circle cx="342.01" cy="702.75" r="1.35" fill="#C8C8CC"/>
<circle cx="344.95" cy="702.5" r="1.35" fill="#C8C8CC"/>
<circle cx="342.78" cy="702.15" r="1.35" fill="#C8C8CC"/>
<circle cx="345.59" cy="701.1" r="1.35" fill="#C8C8CC"/>
<circle cx="344.8" cy="700.83" r="1.35" fill="#C8C8CC"/>
<circle cx="343.21" cy="699.88" r="1.35" fill="#C8C8CC"/>
<circle cx="341.71" cy="699.2" r="1.35" fill="#C8C8CC"/>
<circle cx="341.81" cy="698.35" r="1.35" fill="#C8C8CC"/>
<circle cx="340.01" cy="697.82" r="1.35" fill="#C8C8CC"/>
<circle cx="338.58" cy="696.61" r="1.35" fill="#C8C8CC"/>
<circle cx="345.18" cy="696.14" r="1.35" fill="#C8C8CC"/>
<circle cx="341.24" cy="695.29" r="1.35" fill="#C8C8CC"/>
<circle cx="346.34" cy="694.53" r="1.35" fill="#C8C8CC"/>
<circle cx="344.36" cy="693.87" r="1.35" fill="#C8C8CC"/>
<circle cx="340.02" cy="692.5" r="1.35" fill="#C8C8CC"/>
<circle cx="345.92" cy="692.06" r="1.35" fill="#C8C8CC"/>
<circle cx="341.72" cy="691.13" r="1.35" fill="#C8C8CC"/>
<circle cx="342.43" cy="690.8" r="1.35" fill="#C8C8CC"/>
<circle cx="345.13" cy="689.77" r="1.35" fill="#C8C8CC"/>
<circle cx="342.08" cy="689.05" r="1.35" fill="#C8C8CC"/>
<circle cx="346.11" cy="688" r="1.35" fill="#C8C8CC"/>
<circle cx="341.85" cy="687.45" r="1.35" fill="#C8C8CC"/>
<circle cx="347.25" cy="686.49" r="1.35" fill="#C8C8CC"/>
<circle cx="347.71" cy="686.02" r="1.35" fill="#C8C8CC"/>
<circle cx="341.72" cy="684.84" r="1.35" fill="#C8C8CC"/>
<circle cx="341.29" cy="684.09" r="1.35" fill="#C8C8CC"/>
<circle cx="345.56" cy="683.78" r="1.35" fill="#C8C8CC"/>
<circle cx="343.26" cy="682.76" r="1.35" fill="#C8C8CC"/>
<circle cx="347.01" cy="681.89" r="1.35" fill="#C8C8CC"/>
<circle cx="338.26" cy="680.91" r="1.35" fill="#C8C8CC"/>
<circle cx="342.63" cy="680.26" r="1.35" fill="#C8C8CC"/>
<circle cx="346.4" cy="679.58" r="1.35" fill="#C8C8CC"/>
<circle cx="342.74" cy="678.84" r="1.35" fill="#C8C8CC"/>
<circle cx="342.4" cy="677.7" r="1.35" fill="#C8C8CC"/>
<circle cx="343.12" cy="677.23" r="1.35" fill="#C8C8CC"/>
<circle cx="344.7" cy="676.19" r="1.35" fill="#C8C8CC"/>
<circle cx="342.02" cy="675.48" r="1.35" fill="#C8C8CC"/>
<circle cx="344.8" cy="675.25" r="1.35" fill="#C8C8CC"/>
<circle cx="345.66" cy="674.45" r="1.35" fill="#C8C8CC"/>
<circle cx="339.68" cy="673.8" r="1.35" fill="#C8C8CC"/>
<circle cx="339.65" cy="673.34" r="1.35" fill="#C8C8CC"/>
<circle cx="341.15" cy="670.68" r="1.35" fill="#C8C8CC"/>
<circle cx="344.04" cy="670.05" r="1.35" fill="#C8C8CC"/>
<circle cx="342.23" cy="665.74" r="1.35" fill="#C8C8CC"/>
<circle cx="343.25" cy="661.4" r="1.35" fill="#C8C8CC"/>
<circle cx="342.47" cy="657.7" r="1.35" fill="#C8C8CC"/>
<circle cx="342.9" cy="651.14" r="1.35" fill="#C8C8CC"/>
<circle cx="343.6" cy="645.53" r="1.35" fill="#C8C8CC"/>
<circle cx="343.45" cy="636.7" r="1.35" fill="#C8C8CC"/>
<circle cx="342.8" cy="634.12" r="1.35" fill="#C8C8CC"/>
<circle cx="343.04" cy="627" r="1.35" fill="#C8C8CC"/>
<circle cx="342.01" cy="712.5" r="1.35" fill="#C8C8CC"/>
<rect x="352.2" y="668" width="13.2" height="26.5" fill="#F8D9D1"/>
<line x1="358.8" y1="652" x2="358.8" y2="716.3" stroke="#E29C8C" stroke-width="1.6"/>
<line x1="352.2" y1="685" x2="365.4" y2="685" stroke="#E9A08E" stroke-width="2.8"/>
<circle cx="358.53" cy="697.68" r="1.35" fill="#DC9282"/>
<circle cx="358.58" cy="695.47" r="1.35" fill="#DC9282"/>
<circle cx="359.23" cy="690.88" r="1.35" fill="#DC9282"/>
<circle cx="358.81" cy="683.7" r="1.35" fill="#DC9282"/>
<circle cx="358.26" cy="678.93" r="1.35" fill="#DC9282"/>
<circle cx="359.24" cy="674.05" r="1.35" fill="#DC9282"/>
<circle cx="359.23" cy="667.23" r="1.35" fill="#DC9282"/>
<circle cx="358.44" cy="663.95" r="1.35" fill="#DC9282"/>
<circle cx="357.9" cy="652" r="1.35" fill="#DC9282"/>
<circle cx="358.87" cy="716.3" r="1.35" fill="#DC9282"/>
<rect x="368" y="673.3" width="13.2" height="19.7" fill="#E99A98"/>
<line x1="374.6" y1="655.5" x2="374.6" y2="713.8" stroke="#C4102C" stroke-width="1.6"/>
<line x1="368" y1="691.8" x2="381.2" y2="691.8" stroke="#C4102C" stroke-width="2.8"/>
<circle cx="374.56" cy="705.22" r="1.35" fill="#C4102C"/>
<circle cx="374.71" cy="693.1" r="1.35" fill="#C4102C"/>
<circle cx="375.01" cy="689.86" r="1.35" fill="#C4102C"/>
<circle cx="375.17" cy="686.43" r="1.35" fill="#C4102C"/>
<circle cx="373.99" cy="680.87" r="1.35" fill="#C4102C"/>
<circle cx="374.64" cy="677.76" r="1.35" fill="#C4102C"/>
<circle cx="374.69" cy="673.3" r="1.35" fill="#C4102C"/>
<circle cx="374.33" cy="667.99" r="1.35" fill="#C4102C"/>
<circle cx="375.19" cy="655.5" r="1.35" fill="#C4102C"/>
<circle cx="374.18" cy="713.8" r="1.35" fill="#C4102C"/>
<rect x="394.7" y="671.4" width="13.2" height="33.6" fill="#ECECEE"/>
<line x1="401.3" y1="633.7" x2="401.3" y2="717.1" stroke="#CACACE" stroke-width="1.6"/>
<line x1="394.7" y1="693.7" x2="407.9" y2="693.7" stroke="#C8C8CC" stroke-width="2.8"/>
<circle cx="401.66" cy="715.71" r="1.35" fill="#C8C8CC"/>
<circle cx="401.23" cy="714.1" r="1.35" fill="#C8C8CC"/>
<circle cx="401.16" cy="711.91" r="1.35" fill="#C8C8CC"/>
<circle cx="399.84" cy="710.54" r="1.35" fill="#C8C8CC"/>
<circle cx="401.83" cy="709.81" r="1.35" fill="#C8C8CC"/>
<circle cx="402.91" cy="709.06" r="1.35" fill="#C8C8CC"/>
<circle cx="401.83" cy="707.95" r="1.35" fill="#C8C8CC"/>
<circle cx="404.16" cy="706.95" r="1.35" fill="#C8C8CC"/>
<circle cx="403.76" cy="705.99" r="1.35" fill="#C8C8CC"/>
<circle cx="402.86" cy="705.53" r="1.35" fill="#C8C8CC"/>
<circle cx="399.31" cy="705.15" r="1.35" fill="#C8C8CC"/>
<circle cx="404.65" cy="705.05" r="1.35" fill="#C8C8CC"/>
<circle cx="405.48" cy="704.86" r="1.35" fill="#C8C8CC"/>
<circle cx="397.31" cy="703.87" r="1.35" fill="#C8C8CC"/>
<circle cx="404.14" cy="703.04" r="1.35" fill="#C8C8CC"/>
<circle cx="400.45" cy="701.31" r="1.35" fill="#C8C8CC"/>
<circle cx="398.88" cy="700.65" r="1.35" fill="#C8C8CC"/>
<circle cx="403.16" cy="699.49" r="1.35" fill="#C8C8CC"/>
<circle cx="396.87" cy="699.26" r="1.35" fill="#C8C8CC"/>
<circle cx="396.72" cy="697.82" r="1.35" fill="#C8C8CC"/>
<circle cx="399.24" cy="696.75" r="1.35" fill="#C8C8CC"/>
<circle cx="402.12" cy="696.38" r="1.35" fill="#C8C8CC"/>
<circle cx="401.91" cy="695.37" r="1.35" fill="#C8C8CC"/>
<circle cx="405.42" cy="694.59" r="1.35" fill="#C8C8CC"/>
<circle cx="404.71" cy="693.5" r="1.35" fill="#C8C8CC"/>
<circle cx="404.29" cy="692.72" r="1.35" fill="#C8C8CC"/>
<circle cx="400.22" cy="691.02" r="1.35" fill="#C8C8CC"/>
<circle cx="400.1" cy="690.97" r="1.35" fill="#C8C8CC"/>
<circle cx="398.53" cy="689.47" r="1.35" fill="#C8C8CC"/>
<circle cx="397.24" cy="688.62" r="1.35" fill="#C8C8CC"/>
<circle cx="403.58" cy="687.77" r="1.35" fill="#C8C8CC"/>
<circle cx="403.09" cy="686.87" r="1.35" fill="#C8C8CC"/>
<circle cx="404.58" cy="686.23" r="1.35" fill="#C8C8CC"/>
<circle cx="405.53" cy="685.29" r="1.35" fill="#C8C8CC"/>
<circle cx="405.69" cy="683.54" r="1.35" fill="#C8C8CC"/>
<circle cx="399.21" cy="683.04" r="1.35" fill="#C8C8CC"/>
<circle cx="403.8" cy="682.28" r="1.35" fill="#C8C8CC"/>
<circle cx="405.6" cy="681.2" r="1.35" fill="#C8C8CC"/>
<circle cx="401.15" cy="680.65" r="1.35" fill="#C8C8CC"/>
<circle cx="402.28" cy="678.99" r="1.35" fill="#C8C8CC"/>
<circle cx="397.18" cy="678.36" r="1.35" fill="#C8C8CC"/>
<circle cx="399.01" cy="677.8" r="1.35" fill="#C8C8CC"/>
<circle cx="404.75" cy="676.17" r="1.35" fill="#C8C8CC"/>
<circle cx="405.55" cy="675.85" r="1.35" fill="#C8C8CC"/>
<circle cx="402.29" cy="675.1" r="1.35" fill="#C8C8CC"/>
<circle cx="399.74" cy="673.3" r="1.35" fill="#C8C8CC"/>
<circle cx="402.87" cy="672.39" r="1.35" fill="#C8C8CC"/>
<circle cx="399.63" cy="672.29" r="1.35" fill="#C8C8CC"/>
<circle cx="398.79" cy="671.37" r="1.35" fill="#C8C8CC"/>
<circle cx="398.42" cy="670.86" r="1.35" fill="#C8C8CC"/>
<circle cx="399.81" cy="669.88" r="1.35" fill="#C8C8CC"/>
<circle cx="401.71" cy="669.52" r="1.35" fill="#C8C8CC"/>
<circle cx="401.55" cy="667.86" r="1.35" fill="#C8C8CC"/>
<circle cx="401.51" cy="663.82" r="1.35" fill="#C8C8CC"/>
<circle cx="400.62" cy="661.74" r="1.35" fill="#C8C8CC"/>
<circle cx="400.82" cy="657.94" r="1.35" fill="#C8C8CC"/>
<circle cx="400.86" cy="653.07" r="1.35" fill="#C8C8CC"/>
<circle cx="401.12" cy="648.44" r="1.35" fill="#C8C8CC"/>
<circle cx="401.5" cy="644.03" r="1.35" fill="#C8C8CC"/>
<circle cx="400.9" cy="639.24" r="1.35" fill="#C8C8CC"/>
<circle cx="402.18" cy="633.7" r="1.35" fill="#C8C8CC"/>
<circle cx="400.96" cy="717.1" r="1.35" fill="#C8C8CC"/>
<rect x="410.5" y="662.7" width="13.2" height="42.3" fill="#F8D9D1"/>
<line x1="417.1" y1="641.2" x2="417.1" y2="714.4" stroke="#E29C8C" stroke-width="1.6"/>
<line x1="410.5" y1="680.8" x2="423.7" y2="680.8" stroke="#E9A08E" stroke-width="2.8"/>
<circle cx="417.55" cy="707.11" r="1.35" fill="#DC9282"/>
<circle cx="416.68" cy="705.05" r="1.35" fill="#DC9282"/>
<circle cx="417.55" cy="700.65" r="1.35" fill="#DC9282"/>
<circle cx="417.1" cy="691.63" r="1.35" fill="#DC9282"/>
<circle cx="416.64" cy="679.13" r="1.35" fill="#DC9282"/>
<circle cx="416.7" cy="670.91" r="1.35" fill="#DC9282"/>
<circle cx="417.11" cy="662.61" r="1.35" fill="#DC9282"/>
<circle cx="416.74" cy="655.6" r="1.35" fill="#DC9282"/>
<circle cx="416.91" cy="641.2" r="1.35" fill="#DC9282"/>
<circle cx="416.51" cy="714.4" r="1.35" fill="#DC9282"/>
<rect x="426.3" y="688.9" width="13.2" height="10.2" fill="#E99A98"/>
<line x1="432.9" y1="664.1" x2="432.9" y2="716.3" stroke="#C4102C" stroke-width="1.6"/>
<line x1="426.3" y1="696.4" x2="439.5" y2="696.4" stroke="#C4102C" stroke-width="2.8"/>
<circle cx="432.59" cy="713.32" r="1.35" fill="#C4102C"/>
<circle cx="432.9" cy="697.95" r="1.35" fill="#C4102C"/>
<circle cx="431.79" cy="695.48" r="1.35" fill="#C4102C"/>
<circle cx="432.87" cy="692.92" r="1.35" fill="#C4102C"/>
<circle cx="433.06" cy="690.86" r="1.35" fill="#C4102C"/>
<circle cx="432.29" cy="688.84" r="1.35" fill="#C4102C"/>
<circle cx="432.48" cy="672.81" r="1.35" fill="#C4102C"/>
<circle cx="432.43" cy="664.1" r="1.35" fill="#C4102C"/>
<circle cx="431.96" cy="716.3" r="1.35" fill="#C4102C"/>
<rect x="453" y="680" width="13.2" height="22.3" fill="#ECECEE"/>
<line x1="459.6" y1="624.8" x2="459.6" y2="717.7" stroke="#CACACE" stroke-width="1.6"/>
<line x1="453" y1="692.4" x2="466.2" y2="692.4" stroke="#C8C8CC" stroke-width="2.8"/>
<circle cx="459.62" cy="716.71" r="1.35" fill="#C8C8CC"/>
<circle cx="460.07" cy="714.56" r="1.35" fill="#C8C8CC"/>
<circle cx="459.7" cy="712.81" r="1.35" fill="#C8C8CC"/>
<circle cx="459.78" cy="710.52" r="1.35" fill="#C8C8CC"/>
<circle cx="460.29" cy="707.87" r="1.35" fill="#C8C8CC"/>
<circle cx="458.69" cy="707.45" r="1.35" fill="#C8C8CC"/>
<circle cx="462.19" cy="705.42" r="1.35" fill="#C8C8CC"/>
<circle cx="460.3" cy="704.93" r="1.35" fill="#C8C8CC"/>
<circle cx="462.09" cy="703.47" r="1.35" fill="#C8C8CC"/>
<circle cx="462.27" cy="703.06" r="1.35" fill="#C8C8CC"/>
<circle cx="463.6" cy="702.55" r="1.35" fill="#C8C8CC"/>
<circle cx="463.91" cy="702.4" r="1.35" fill="#C8C8CC"/>
<circle cx="458.67" cy="702.04" r="1.35" fill="#C8C8CC"/>
<circle cx="457.05" cy="701.63" r="1.35" fill="#C8C8CC"/>
<circle cx="461.39" cy="700.61" r="1.35" fill="#C8C8CC"/>
<circle cx="458.04" cy="700.35" r="1.35" fill="#C8C8CC"/>
<circle cx="456.58" cy="699.74" r="1.35" fill="#C8C8CC"/>
<circle cx="457.91" cy="699.07" r="1.35" fill="#C8C8CC"/>
<circle cx="464.57" cy="697.98" r="1.35" fill="#C8C8CC"/>
<circle cx="459.4" cy="697.47" r="1.35" fill="#C8C8CC"/>
<circle cx="462.39" cy="697.04" r="1.35" fill="#C8C8CC"/>
<circle cx="462.11" cy="696.16" r="1.35" fill="#C8C8CC"/>
<circle cx="456.59" cy="695.71" r="1.35" fill="#C8C8CC"/>
<circle cx="463.06" cy="695.1" r="1.35" fill="#C8C8CC"/>
<circle cx="455.52" cy="694.38" r="1.35" fill="#C8C8CC"/>
<circle cx="458.09" cy="693.8" r="1.35" fill="#C8C8CC"/>
<circle cx="464.26" cy="693.53" r="1.35" fill="#C8C8CC"/>
<circle cx="462.06" cy="692.59" r="1.35" fill="#C8C8CC"/>
<circle cx="462.88" cy="692.31" r="1.35" fill="#C8C8CC"/>
<circle cx="463.65" cy="691.19" r="1.35" fill="#C8C8CC"/>
<circle cx="462.92" cy="690.69" r="1.35" fill="#C8C8CC"/>
<circle cx="460.5" cy="690.03" r="1.35" fill="#C8C8CC"/>
<circle cx="462.85" cy="689.64" r="1.35" fill="#C8C8CC"/>
<circle cx="463.31" cy="688.81" r="1.35" fill="#C8C8CC"/>
<circle cx="464.21" cy="688.49" r="1.35" fill="#C8C8CC"/>
<circle cx="464.06" cy="687.72" r="1.35" fill="#C8C8CC"/>
<circle cx="464.28" cy="687.36" r="1.35" fill="#C8C8CC"/>
<circle cx="457.12" cy="686.33" r="1.35" fill="#C8C8CC"/>
<circle cx="456.92" cy="685.68" r="1.35" fill="#C8C8CC"/>
<circle cx="459.18" cy="685.45" r="1.35" fill="#C8C8CC"/>
<circle cx="459.53" cy="684.81" r="1.35" fill="#C8C8CC"/>
<circle cx="461.45" cy="683.77" r="1.35" fill="#C8C8CC"/>
<circle cx="458.52" cy="683.28" r="1.35" fill="#C8C8CC"/>
<circle cx="462.54" cy="682.61" r="1.35" fill="#C8C8CC"/>
<circle cx="464.02" cy="682.05" r="1.35" fill="#C8C8CC"/>
<circle cx="458.66" cy="681.35" r="1.35" fill="#C8C8CC"/>
<circle cx="461.12" cy="681.18" r="1.35" fill="#C8C8CC"/>
<circle cx="458" cy="680.1" r="1.35" fill="#C8C8CC"/>
<circle cx="462.91" cy="679.93" r="1.35" fill="#C8C8CC"/>
<circle cx="455.41" cy="679.16" r="1.35" fill="#C8C8CC"/>
<circle cx="456.18" cy="678.27" r="1.35" fill="#C8C8CC"/>
<circle cx="461.37" cy="677.17" r="1.35" fill="#C8C8CC"/>
<circle cx="459.91" cy="673.87" r="1.35" fill="#C8C8CC"/>
<circle cx="459.37" cy="670.25" r="1.35" fill="#C8C8CC"/>
<circle cx="459.42" cy="667.03" r="1.35" fill="#C8C8CC"/>
<circle cx="459.74" cy="658.33" r="1.35" fill="#C8C8CC"/>
<circle cx="459.11" cy="655.52" r="1.35" fill="#C8C8CC"/>
<circle cx="459.84" cy="648.71" r="1.35" fill="#C8C8CC"/>
<circle cx="459.79" cy="639.35" r="1.35" fill="#C8C8CC"/>
<circle cx="459.14" cy="626.73" r="1.35" fill="#C8C8CC"/>
<circle cx="459.97" cy="624.8" r="1.35" fill="#C8C8CC"/>
<circle cx="458.68" cy="717.7" r="1.35" fill="#C8C8CC"/>
<rect x="468.8" y="667.9" width="13.2" height="38.5" fill="#F8D9D1"/>
<line x1="475.4" y1="657.9" x2="475.4" y2="717.7" stroke="#E29C8C" stroke-width="1.6"/>
<line x1="468.8" y1="687" x2="482" y2="687" stroke="#E9A08E" stroke-width="2.8"/>
<circle cx="475.02" cy="709.07" r="1.35" fill="#DC9282"/>
<circle cx="475.95" cy="706.88" r="1.35" fill="#DC9282"/>
<circle cx="475.07" cy="700.29" r="1.35" fill="#DC9282"/>
<circle cx="475.53" cy="688.03" r="1.35" fill="#DC9282"/>
<circle cx="475.27" cy="679.98" r="1.35" fill="#DC9282"/>
<circle cx="475.95" cy="675.12" r="1.35" fill="#DC9282"/>
<circle cx="475.99" cy="667.87" r="1.35" fill="#DC9282"/>
<circle cx="475.8" cy="665.79" r="1.35" fill="#DC9282"/>
<circle cx="474.72" cy="657.9" r="1.35" fill="#DC9282"/>
<circle cx="475.45" cy="717.7" r="1.35" fill="#DC9282"/>
<rect x="484.6" y="672.2" width="13.2" height="28.8" fill="#E99A98"/>
<line x1="491.2" y1="617.5" x2="491.2" y2="711.7" stroke="#C4102C" stroke-width="1.6"/>
<line x1="484.6" y1="688.9" x2="497.8" y2="688.9" stroke="#C4102C" stroke-width="2.8"/>
<circle cx="490.81" cy="711.69" r="1.35" fill="#C4102C"/>
<circle cx="491.15" cy="697.26" r="1.35" fill="#C4102C"/>
<circle cx="490.9" cy="691.34" r="1.35" fill="#C4102C"/>
<circle cx="490.72" cy="687.61" r="1.35" fill="#C4102C"/>
<circle cx="491.63" cy="679.38" r="1.35" fill="#C4102C"/>
<circle cx="491.05" cy="672.79" r="1.35" fill="#C4102C"/>
<circle cx="491.67" cy="623.45" r="1.35" fill="#C4102C"/>
<circle cx="491.53" cy="617.5" r="1.35" fill="#C4102C"/>
<circle cx="490.35" cy="711.7" r="1.35" fill="#C4102C"/>
</g>
<line x1="323.8" y1="613.5" x2="323.8" y2="721.4" class="ax"/>
<line x1="323.15" y1="721.4" x2="510.6" y2="721.4" class="ax"/>
<line x1="358.8" y1="721.4" x2="358.8" y2="725.6" class="ax"/>
<text x="358.8" y="740.4" class="xl">day −5</text>
<line x1="417.1" y1="721.4" x2="417.1" y2="725.6" class="ax"/>
<text x="417.1" y="740.4" class="xl">day 0</text>
<line x1="475.4" y1="721.4" x2="475.4" y2="725.6" class="ax"/>
<text x="475.4" y="740.4" class="xl">day +3</text>
<rect x="327.3" y="751" width="9" height="6.4" fill="#ECECEE" stroke="#CACACE" stroke-opacity="0.25" stroke-width="0.6"/><line x1="331.8" y1="748" x2="331.8" y2="751" stroke="#CACACE" stroke-width="1.3"/><line x1="331.8" y1="757.4" x2="331.8" y2="760.6" stroke="#CACACE" stroke-width="1.3"/><line x1="327.3" y1="754.2" x2="336.3" y2="754.2" stroke="#C8C8CC" stroke-width="1.8"/><circle cx="331.8" cy="754.2" r="1.4" fill="#C8C8CC"/>
<text x="340.8" y="758.1" class="lg">None</text>
<rect x="376.3" y="750.8" width="9" height="6.8" fill="#F7D3CB"/><line x1="380.8" y1="748" x2="380.8" y2="760.6" stroke="#F5D8D2" stroke-width="1"/><line x1="376.3" y1="754.2" x2="385.3" y2="754.2" stroke="#F2C0B4" stroke-width="1.2"/><circle cx="380.8" cy="754.2" r="1.3" fill="#E0907F"/>
<text x="390.1" y="758.1" class="lg">Mild</text>
<rect x="419.6" y="751" width="9" height="6.4" fill="#E99A98" stroke="#C4102C" stroke-opacity="0.25" stroke-width="0.6"/><line x1="424.1" y1="748" x2="424.1" y2="751" stroke="#C4102C" stroke-width="1.3"/><line x1="424.1" y1="757.4" x2="424.1" y2="760.6" stroke="#C4102C" stroke-width="1.3"/><line x1="419.6" y1="754.2" x2="428.6" y2="754.2" stroke="#C4102C" stroke-width="1.8"/><circle cx="424.1" cy="754.2" r="1.4" fill="#C4102C"/>
<text x="433.6" y="758.1" class="lg">Severe ICANS</text>
<rect x="0.5" y="0.5" width="519" height="769" fill="none" stroke="#222" stroke-width="1"/>
</svg>
</body></html>
